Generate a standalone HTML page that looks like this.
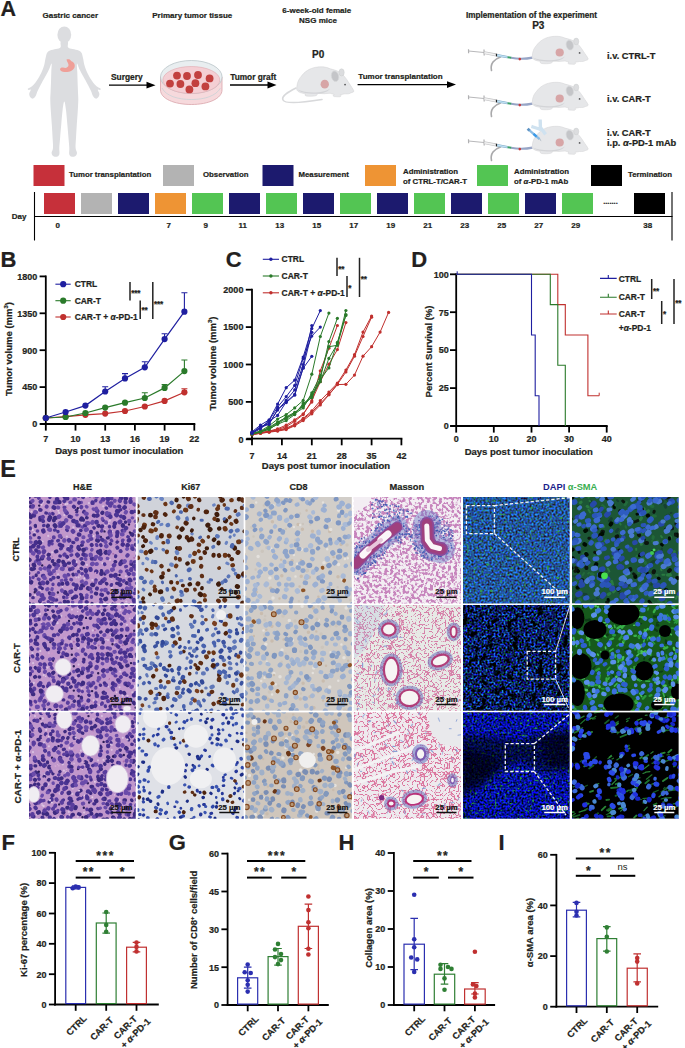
<!DOCTYPE html>
<html><head><meta charset="utf-8"><style>
html,body{margin:0;padding:0;background:#fff;}
body{width:685px;height:1048px;overflow:hidden;}
svg{display:block;font-family:"Liberation Sans",sans-serif;font-weight:bold;fill:#231f20;}
</style></head><body>
<svg width="685" height="1048" viewBox="0 0 685 1048">
<defs><filter id="soft" x="-2%" y="-2%" width="104%" height="104%"><feGaussianBlur stdDeviation="0.45"/></filter><filter id="bl3" x="-10%" y="-10%" width="120%" height="120%"><feGaussianBlur stdDeviation="3"/></filter><clipPath id="c00"><rect x="29" y="497" width="106.8" height="106.6"/></clipPath><clipPath id="c10"><rect x="29" y="604.9" width="106.8" height="105.9"/></clipPath><clipPath id="c20"><rect x="29" y="712.2" width="106.8" height="106.6"/></clipPath><clipPath id="c01"><rect x="137.6" y="497" width="106.2" height="106.6"/></clipPath><clipPath id="c11"><rect x="137.6" y="604.9" width="106.2" height="105.9"/></clipPath><clipPath id="c21"><rect x="137.6" y="712.2" width="106.2" height="106.6"/></clipPath><clipPath id="c02"><rect x="245.2" y="497" width="106.7" height="106.6"/></clipPath><clipPath id="c12"><rect x="245.2" y="604.9" width="106.7" height="105.9"/></clipPath><clipPath id="c22"><rect x="245.2" y="712.2" width="106.7" height="106.6"/></clipPath><filter id="f1" x="352.9" y="496" width="109.1" height="108.6" filterUnits="userSpaceOnUse" color-interpolation-filters="sRGB"><feTurbulence type="fractalNoise" baseFrequency="0.33" numOctaves="2" seed="3" result="n"/><feColorMatrix type="matrix" values="0 0 0 0 .78  0 0 0 0 .52  0 0 0 0 .74  -7 0 0 0 3.8"/></filter><clipPath id="c03"><rect x="353.9" y="497" width="107.1" height="106.6"/></clipPath><filter id="f2" x="352.9" y="603.9" width="109.1" height="107.9" filterUnits="userSpaceOnUse" color-interpolation-filters="sRGB"><feTurbulence type="turbulence" baseFrequency="0.24" numOctaves="1" seed="3" result="n"/><feColorMatrix type="matrix" values="0 0 0 0 .84  0 0 0 0 .5  0 0 0 0 .66  -16 0 0 0 1.55"/></filter><clipPath id="c13"><rect x="353.9" y="604.9" width="107.1" height="105.9"/></clipPath><filter id="f3" x="352.9" y="711.2" width="109.1" height="108.6" filterUnits="userSpaceOnUse" color-interpolation-filters="sRGB"><feTurbulence type="turbulence" baseFrequency="0.22" numOctaves="1" seed="8" result="n"/><feColorMatrix type="matrix" values="0 0 0 0 .86  0 0 0 0 .46  0 0 0 0 .62  -15 0 0 0 1.6"/></filter><clipPath id="c23"><rect x="353.9" y="712.2" width="107.1" height="106.6"/></clipPath><filter id="f4" x="462" y="496" width="108.7" height="108.6" filterUnits="userSpaceOnUse" color-interpolation-filters="sRGB"><feTurbulence type="fractalNoise" baseFrequency="0.5" numOctaves="2" seed="2" result="n"/><feColorMatrix type="matrix" values="0 0 0 0 .14  .6 .6 0 0 -.27  1.8 0 0 0 -.3  0 0 0 0 1" result="a"/><feTurbulence type="fractalNoise" baseFrequency="0.3" numOctaves="1" seed="7" result="g"/><feColorMatrix in="g" type="matrix" values="0 0 0 0 .2  0 0 0 0 .62  0 0 0 0 .3  0 8 0 0 -5.2" result="gg"/><feComposite in="gg" in2="a" operator="over"/></filter><clipPath id="c04"><rect x="463" y="497" width="106.7" height="106.6"/></clipPath><filter id="f5" x="462" y="603.9" width="108.7" height="107.9" filterUnits="userSpaceOnUse" color-interpolation-filters="sRGB"><feTurbulence type="fractalNoise" baseFrequency="0.5" numOctaves="2" seed="4" result="n"/><feColorMatrix type="matrix" values=".2 0 0 0 -.05  .9 1.2 0 0 -.92  2.8 0 0 0 -1.0  0 0 0 0 1" result="s"/><feTurbulence type="fractalNoise" baseFrequency="0.16" numOctaves="2" seed="9" result="m"/><feColorMatrix in="m" type="matrix" values="0 0 0 0 0  0 0 0 0 0  0 0 0 0 0  6 0 0 0 -1.75" result="mm"/><feComposite in="s" in2="mm" operator="in"/></filter><clipPath id="c14"><rect x="463" y="604.9" width="106.7" height="105.9"/></clipPath><filter id="f6" x="462" y="711.2" width="108.7" height="108.6" filterUnits="userSpaceOnUse" color-interpolation-filters="sRGB"><feTurbulence type="fractalNoise" baseFrequency="0.5" numOctaves="2" seed="5" result="n"/><feColorMatrix type="matrix" values=".15 0 0 0 -.05  .12 .4 0 0 -.2  2.4 0 0 0 -.6  0 0 0 0 1" result="s"/><feTurbulence type="fractalNoise" baseFrequency="0.4" numOctaves="1" seed="15" result="gr"/><feColorMatrix in="gr" type="matrix" values="0 0 0 0 .15  0 0 0 0 .6  0 0 0 0 .25  0 7 0 0 -4.3" result="gg"/><feComposite in="gg" in2="s" operator="over"/></filter><clipPath id="c24"><rect x="463" y="712.2" width="106.7" height="106.6"/></clipPath><clipPath id="c05"><rect x="572" y="497" width="106.8" height="106.6"/></clipPath><clipPath id="c15"><rect x="572" y="604.9" width="106.8" height="105.9"/></clipPath><clipPath id="c25"><rect x="572" y="712.2" width="106.8" height="106.6"/></clipPath></defs>
<text x="0.5" y="16.2" font-size="21.5" stroke="#231f20" stroke-width="0.22">A</text>
<text x="70.3" y="17.5" font-size="8" text-anchor="middle" stroke="#231f20" stroke-width="0.22">Gastric cancer</text>
<text x="192.3" y="17.5" font-size="8" text-anchor="middle" stroke="#231f20" stroke-width="0.22">Primary tumor tissue</text>
<text x="316.8" y="12.5" font-size="8" text-anchor="middle" stroke="#231f20" stroke-width="0.22">6-week-old female</text>
<text x="318" y="22.5" font-size="8" text-anchor="middle" stroke="#231f20" stroke-width="0.22">NSG mice</text>
<text x="318.2" y="58" font-size="10" text-anchor="middle" stroke="#231f20" stroke-width="0.22">P0</text>
<text x="531.5" y="17.8" font-size="8.2" text-anchor="middle" stroke="#231f20" stroke-width="0.22">Implementation of the experiment</text>
<text x="538.3" y="29" font-size="10" text-anchor="middle" stroke="#231f20" stroke-width="0.22">P3</text>
<text x="126.8" y="80.3" font-size="8.4" text-anchor="middle" stroke="#231f20" stroke-width="0.22">Surgery</text>
<text x="253.2" y="79.8" font-size="8.3" text-anchor="middle" stroke="#231f20" stroke-width="0.22">Tumor graft</text>
<text x="400.5" y="79.1" font-size="8" text-anchor="middle" stroke="#231f20" stroke-width="0.22">Tumor transplantation</text>
<text x="607" y="59.4" font-size="9.3" stroke="#231f20" stroke-width="0.22">i.v. CTRL-T</text>
<text x="607" y="101.5" font-size="9.3" stroke="#231f20" stroke-width="0.22">i.v. CAR-T</text>
<text x="607" y="135.5" font-size="9.3" stroke="#231f20" stroke-width="0.22">i.v. CAR-T</text>
<text x="607" y="146" font-size="9.3" stroke="#231f20" stroke-width="0.22">i.p. <tspan font-style="italic">α</tspan>-PD-1 mAb</text>
<path d="M109 85.2H149.5" stroke="#000" stroke-width="1.3"/>
<path d="M155.5 85.2L146.5 81.8L146.5 88.6Z" fill="#000"/>
<path d="M230 85H270.5" stroke="#000" stroke-width="1.3"/>
<path d="M276.5 85L267.5 81.6L267.5 88.4Z" fill="#000"/>
<path d="M357.6 84.6H450" stroke="#000" stroke-width="1.3"/>
<path d="M456 84.6L447 81.2L447 88Z" fill="#000"/>
<path d="M61 41.5C59.8 42.5 61.4 46 60.6 47.2C59.8 48.5 57.8 48.5 56 49C54.2 49.5 51.5 49.8 50 50.5C48.5 51.2 47.7 51.8 47 53C46.3 54.2 46.1 56 45.6 58C45.1 60 44.9 62.5 44.2 65C43.5 67.5 42.4 70.5 41.2 73C40 75.5 38.5 78 37.2 80C35.9 82 34.7 83.6 33.6 84.8C32.5 86 31.5 86.5 30.5 87.2C29.5 87.9 28.1 88.3 27.8 88.8C27.5 89.3 28.1 89.8 28.6 90C29.1 90.2 30.7 89.1 30.8 89.8C30.9 90.5 29.2 92.7 29.2 94C29.2 95.3 30 96.8 30.6 97.6C31.2 98.4 32.2 98.9 33 98.6C33.8 98.3 34.8 97.3 35.6 96C36.4 94.7 36.8 92.8 37.6 91C38.4 89.2 39.4 87.3 40.6 85C41.8 82.7 43.6 79.6 45 77C46.4 74.4 47.9 71.8 49 69.5C50.1 67.2 51.2 63.1 51.6 63.5C52 63.9 51.4 68.9 51.3 72C51.2 75.1 51.1 78.7 51 82C50.9 85.3 50.7 89 50.6 92C50.5 95 50.2 96.7 50.3 100C50.3 103.3 50.6 107.7 50.9 112C51.2 116.3 51.6 121.7 51.9 126C52.2 130.3 52.4 134.3 52.6 138C52.8 141.7 53.2 145.5 53 148C52.8 150.5 51.5 151.6 51.6 153C51.7 154.4 52.5 155.6 53.5 156.2C54.5 156.8 56.5 156.9 57.5 156.5C58.5 156.1 59.1 155.4 59.4 154C59.7 152.6 59.2 150.7 59.3 148C59.4 145.3 59.8 142 60.1 138C60.4 134 60.9 128.7 61.3 124C61.7 119.3 62.1 113.8 62.6 110C63.1 106.2 63.7 101.5 64.3 101.5C64.9 101.5 65.5 106.2 66 110C66.5 113.8 66.9 119.3 67.3 124C67.7 128.7 68.2 134 68.5 138C68.8 142 69.2 145.3 69.3 148C69.4 150.7 68.9 152.6 69.2 154C69.5 155.4 70.1 156.1 71.1 156.5C72.1 156.9 74.1 156.8 75.1 156.2C76.1 155.6 76.9 154.4 77 153C77.1 151.6 75.8 150.5 75.6 148C75.4 145.5 75.8 141.7 76 138C76.2 134.3 76.4 130.3 76.7 126C77 121.7 77.4 116.3 77.7 112C78 107.7 78.2 103.3 78.3 100C78.3 96.7 78.1 95 78 92C77.9 89 77.7 85.3 77.6 82C77.5 78.7 77.4 75.1 77.3 72C77.2 68.9 76.6 63.9 77 63.5C77.4 63.1 78.5 67.2 79.6 69.5C80.7 71.8 82.2 74.4 83.6 77C85 79.6 86.8 82.7 88 85C89.2 87.3 90.2 89.2 91 91C91.8 92.8 92.2 94.7 93 96C93.8 97.3 94.8 98.3 95.6 98.6C96.4 98.9 97.4 98.4 98 97.6C98.6 96.8 99.4 95.3 99.4 94C99.4 92.7 97.7 90.5 97.8 89.8C97.9 89.1 99.5 90.2 100 90C100.5 89.8 101.1 89.3 100.8 88.8C100.5 88.3 99.1 87.9 98.1 87.2C97.1 86.5 96.1 86 95 84.8C93.9 83.6 92.7 82 91.4 80C90.1 78 88.6 75.5 87.4 73C86.2 70.5 85.1 67.5 84.4 65C83.7 62.5 83.5 60 83 58C82.5 56 82.3 54.2 81.6 53C80.9 51.8 80.1 51.2 78.6 50.5C77.1 49.8 74.4 49.5 72.6 49C70.8 48.5 68.8 48.5 68 47.2C67.2 46 68.8 42.5 67.6 41.5C66.4 40.5 62.2 40.5 61 41.5Z" fill="#dcdde0"/>
<ellipse cx="64.3" cy="34.8" rx="6.9" ry="8.4" fill="#dcdde0"/>
<path d="M66.5 59.5 C69 59 70.5 59.5 71 61 C74 62 75.5 64.5 74.5 67.5 C73 71 68.5 72.5 64.5 72 C62 71.8 60.5 70.8 60 69.5 C60.2 67.8 62 67.2 64 67.8 C66.5 68.3 68.5 67 68.5 65 C68.5 63 67 62 66.5 59.5 Z" fill="#ef9f98"/>
<g>
<path d="M160.5 77 L160.5 90 C160.5 98.5 174 104.5 191.3 104.5 C208.6 104.5 222 98.5 222 90 L222 77 Z" fill="#f6d9dc" stroke="#d9a5ab" stroke-width="0.8"/>
<ellipse cx="191.3" cy="77" rx="30.8" ry="16.5" fill="#e9eef0" stroke="#b9c4c8" stroke-width="0.8"/>
<ellipse cx="191.3" cy="80" rx="28.5" ry="13.5" fill="#f4cfd4" stroke="#e0a7ae" stroke-width="0.6"/>
<path d="M162 88 C166 96 178 99.5 191.3 99.5 C204.6 99.5 216 96 220.5 88" fill="none" stroke="#c9d2d6" stroke-width="0.8"/>
<circle cx="177" cy="75.6" r="3.9" fill="#c2403f"/>
<circle cx="187" cy="76" r="3.9" fill="#c2403f"/>
<circle cx="198" cy="75" r="3.9" fill="#c2403f"/>
<circle cx="209.6" cy="78.4" r="3.9" fill="#c2403f"/>
<circle cx="170" cy="83.6" r="3.9" fill="#c2403f"/>
<circle cx="180.4" cy="84" r="3.9" fill="#c2403f"/>
<circle cx="195.4" cy="83.2" r="3.9" fill="#c2403f"/>
<circle cx="205.4" cy="86.4" r="3.9" fill="#c2403f"/>
<circle cx="189.4" cy="89.4" r="3.9" fill="#c2403f"/>
</g>
<defs><g id="mouse">
<path d="M0.3 22.4 C0 16 2.5 12 4.4 10 C8 5 13 2.2 19 1.2 C24 0.4 29 0.6 33 2.6 C36 3.4 39 4 42.5 5.8 C46 8 49 12 51.5 16 C53.5 19 55.5 21.5 56.2 23.3 C56.4 24.3 55 24.6 53.5 25 C52 26 50 26.2 47.5 26 L43 26.8 C44 27.6 43.6 28.8 42 28.8 L37 28.6 C35.5 28.2 36 27 37 26.6 L33 25.5 C29 26 25 26 21 25.6 L19.5 27.6 C17 28.4 12 28.4 9.5 28 C8 27.6 8 26.6 9 26 C5 25.5 1.5 24.5 0.3 22.4 Z" fill="#e6e7e9" stroke="#d2d3d5" stroke-width="0.5"/>
<path d="M1 22 C6 24.5 14 25 22 24.5 C26 24.2 30 23 33 21 C30 25 24 26 18 26 C10 26 4 25 1 22 Z" fill="#d3d4d7"/>
<ellipse cx="44.2" cy="6" rx="2.6" ry="3.4" fill="#dcdddf" stroke="#c8c9cb" stroke-width="0.4"/>
<ellipse cx="37.8" cy="9.6" rx="3.6" ry="5" fill="#c4c5c8" stroke="#d8d9db" stroke-width="0.6" transform="rotate(-15 37.8 9.6)"/>
<circle cx="47.6" cy="17.4" r="0.9" fill="#58595b"/>
<circle cx="27.7" cy="17" r="4.1" fill="#d7a5a6"/>
</g></defs>
<path d="M296 88 C288 92 281 96 283 100 C285 104 300 103 322 99.5" fill="none" stroke="#d8d9db" stroke-width="1.6" stroke-linecap="round"/>
<use href="#mouse" transform="translate(296.5 66) scale(1.02 1.07)"/>
<path d="M500.5 57 C494 59 490 64 491.5 70.5" fill="none" stroke="#a9a9ab" stroke-width="1.6" stroke-linecap="round"/>
<path d="M511 57.8 Q522 59.8 532.5 57.6" fill="none" stroke="#97a5c6" stroke-width="2.1"/>
<path d="M468.5 51 L484 52.5" stroke="#b8b8ba" stroke-width="1"/>
<path d="M468.5 49.2 L468.6 53.2 M484 49.5 L484.2 55.5" stroke="#b0b0b2" stroke-width="1.2"/>
<path d="M484 52.6 L496.5 55" stroke="#c4c4c6" stroke-width="2.9"/>
<path d="M484.5 52.7 L496 54.9" stroke="#f2f2f2" stroke-width="1.5"/>
<path d="M496.5 53.8 L496.7 56.4" stroke="#222" stroke-width="1.4"/>
<path d="M497.2 55.3 L507.5 57.1" stroke="#7fa9c8" stroke-width="2.4"/>
<path d="M497.4 55.3 L507.3 57.1" stroke="#bfe0f2" stroke-width="1.4"/>
<path d="M507.5 57.2 L511.2 57.7" stroke="#3aa06a" stroke-width="2.1"/>
<circle cx="519.8" cy="59.1" r="1.3" fill="#c8393b"/>
<use href="#mouse" transform="translate(532 35.5)"/>
<path d="M500.5 103 C494 105 490 110 491.5 116.5" fill="none" stroke="#a9a9ab" stroke-width="1.6" stroke-linecap="round"/>
<path d="M511 103.8 Q522 105.8 532.5 103.6" fill="none" stroke="#97a5c6" stroke-width="2.1"/>
<path d="M468.5 97 L484 98.5" stroke="#b8b8ba" stroke-width="1"/>
<path d="M468.5 95.2 L468.6 99.2 M484 95.5 L484.2 101.5" stroke="#b0b0b2" stroke-width="1.2"/>
<path d="M484 98.6 L496.5 101" stroke="#c4c4c6" stroke-width="2.9"/>
<path d="M484.5 98.7 L496 100.9" stroke="#f2f2f2" stroke-width="1.5"/>
<path d="M496.5 99.8 L496.7 102.4" stroke="#222" stroke-width="1.4"/>
<path d="M497.2 101.3 L507.5 103.1" stroke="#7fa9c8" stroke-width="2.4"/>
<path d="M497.4 101.3 L507.3 103.1" stroke="#bfe0f2" stroke-width="1.4"/>
<path d="M507.5 103.2 L511.2 103.7" stroke="#3aa06a" stroke-width="2.1"/>
<circle cx="519.8" cy="105.1" r="1.3" fill="#c8393b"/>
<use href="#mouse" transform="translate(532 81.5)"/>
<path d="M500.5 147 C494 149 490 154 491.5 160.5" fill="none" stroke="#a9a9ab" stroke-width="1.6" stroke-linecap="round"/>
<path d="M511 147.8 Q522 149.8 532.5 147.6" fill="none" stroke="#97a5c6" stroke-width="2.1"/>
<path d="M468.5 141 L484 142.5" stroke="#b8b8ba" stroke-width="1"/>
<path d="M468.5 139.2 L468.6 143.2 M484 139.5 L484.2 145.5" stroke="#b0b0b2" stroke-width="1.2"/>
<path d="M484 142.6 L496.5 145" stroke="#c4c4c6" stroke-width="2.9"/>
<path d="M484.5 142.7 L496 144.9" stroke="#f2f2f2" stroke-width="1.5"/>
<path d="M496.5 143.8 L496.7 146.4" stroke="#222" stroke-width="1.4"/>
<path d="M497.2 145.3 L507.5 147.1" stroke="#7fa9c8" stroke-width="2.4"/>
<path d="M497.4 145.3 L507.3 147.1" stroke="#bfe0f2" stroke-width="1.4"/>
<path d="M507.5 147.2 L511.2 147.7" stroke="#3aa06a" stroke-width="2.1"/>
<circle cx="519.8" cy="149.1" r="1.3" fill="#c8393b"/>
<use href="#mouse" transform="translate(532 125.5)"/>
<path d="M540.2 121.2 L540.4 127 M533 127 L539.3 129 M541 128.2 L544.6 133" stroke="#cfe2f0" stroke-width="3.4" stroke-linecap="square"/>
<path d="M528.6 129.6 L539.6 139.2" stroke="#8cbce4" stroke-width="2.3"/>
<path d="M533.5 133.9 L536.6 136.6" stroke="#3a9ae8" stroke-width="2.5"/>
<path d="M527.6 128.7 L529.6 130.5" stroke="#5f94c4" stroke-width="2.8"/>
<path d="M539.6 139.2 L541.2 140.6" stroke="#8899aa" stroke-width="0.7"/>
<rect x="33.5" y="165" width="31" height="21" fill="#c6303a"/>
<text x="69" y="177.4" font-size="7.8" stroke="#231f20" stroke-width="0.22">Tumor transplantation</text>
<rect x="163" y="165" width="31" height="21" fill="#b3b3b3"/>
<text x="203" y="177.4" font-size="7.8" stroke="#231f20" stroke-width="0.22">Observation</text>
<rect x="262.5" y="165" width="31" height="21" fill="#1c1a6e"/>
<text x="298.5" y="177.4" font-size="7.8" stroke="#231f20" stroke-width="0.22">Measurement</text>
<rect x="365" y="165" width="31" height="21" fill="#ee9434"/>
<text x="403" y="173.6" font-size="7.8" stroke="#231f20" stroke-width="0.22">Administration</text>
<text x="403" y="183.6" font-size="7.8" stroke="#231f20" stroke-width="0.22">of CTRL-T/CAR-T</text>
<rect x="477" y="165" width="31" height="21" fill="#53c553"/>
<text x="514" y="173.6" font-size="7.8" stroke="#231f20" stroke-width="0.22">Administration</text>
<text x="514" y="183.6" font-size="7.8" stroke="#231f20" stroke-width="0.22">of <tspan font-style="italic">α</tspan>-PD-1 mAb</text>
<rect x="591" y="165" width="31" height="21" fill="#000000"/>
<text x="628" y="177.4" font-size="7.8" stroke="#231f20" stroke-width="0.22">Termination</text>
<line x1="34.5" y1="192" x2="34.5" y2="240.5" stroke="#000" stroke-width="1.1"/>
<line x1="34" y1="216.5" x2="672.5" y2="216.5" stroke="#000" stroke-width="1.2"/>
<line x1="672" y1="192" x2="672" y2="240.5" stroke="#000" stroke-width="1.1"/>
<rect x="44" y="193" width="31" height="21" fill="#c6303a"/>
<text x="57.8" y="228.2" font-size="8" text-anchor="middle" stroke="#231f20" stroke-width="0.22">0</text>
<rect x="81" y="193" width="31" height="21" fill="#b3b3b3"/>
<rect x="118" y="193" width="31" height="21" fill="#1c1a6e"/>
<rect x="155" y="193" width="31" height="21" fill="#ee9434"/>
<text x="168.8" y="228.2" font-size="8" text-anchor="middle" stroke="#231f20" stroke-width="0.22">7</text>
<rect x="192" y="193" width="31" height="21" fill="#53c553"/>
<text x="205.8" y="228.2" font-size="8" text-anchor="middle" stroke="#231f20" stroke-width="0.22">9</text>
<rect x="229" y="193" width="31" height="21" fill="#1c1a6e"/>
<text x="242.8" y="228.2" font-size="8" text-anchor="middle" stroke="#231f20" stroke-width="0.22">11</text>
<rect x="266" y="193" width="31" height="21" fill="#53c553"/>
<text x="279.8" y="228.2" font-size="8" text-anchor="middle" stroke="#231f20" stroke-width="0.22">13</text>
<rect x="303" y="193" width="31" height="21" fill="#1c1a6e"/>
<text x="316.8" y="228.2" font-size="8" text-anchor="middle" stroke="#231f20" stroke-width="0.22">15</text>
<rect x="340" y="193" width="31" height="21" fill="#53c553"/>
<text x="353.8" y="228.2" font-size="8" text-anchor="middle" stroke="#231f20" stroke-width="0.22">17</text>
<rect x="377" y="193" width="31" height="21" fill="#1c1a6e"/>
<text x="390.8" y="228.2" font-size="8" text-anchor="middle" stroke="#231f20" stroke-width="0.22">19</text>
<rect x="414" y="193" width="31" height="21" fill="#53c553"/>
<text x="427.8" y="228.2" font-size="8" text-anchor="middle" stroke="#231f20" stroke-width="0.22">21</text>
<rect x="451" y="193" width="31" height="21" fill="#1c1a6e"/>
<text x="464.8" y="228.2" font-size="8" text-anchor="middle" stroke="#231f20" stroke-width="0.22">23</text>
<rect x="488" y="193" width="31" height="21" fill="#53c553"/>
<text x="501.8" y="228.2" font-size="8" text-anchor="middle" stroke="#231f20" stroke-width="0.22">25</text>
<rect x="525" y="193" width="31" height="21" fill="#1c1a6e"/>
<text x="538.8" y="228.2" font-size="8" text-anchor="middle" stroke="#231f20" stroke-width="0.22">27</text>
<rect x="562" y="193" width="31" height="21" fill="#53c553"/>
<text x="575.8" y="228.2" font-size="8" text-anchor="middle" stroke="#231f20" stroke-width="0.22">29</text>
<rect x="634" y="193" width="31" height="21" fill="#000"/>
<text x="647.8" y="228.2" font-size="8" text-anchor="middle" stroke="#231f20" stroke-width="0.22">38</text>
<text x="610.5" y="204.3" font-size="7.5" text-anchor="middle" fill="#222" stroke="#222" stroke-width="0.22">.......</text>
<text x="19" y="219" font-size="8" text-anchor="middle" stroke="#231f20" stroke-width="0.22">Day</text>
<text x="0.4" y="266.8" font-size="22" stroke="#231f20" stroke-width="0.22">B</text>
<text x="225.8" y="266.8" font-size="22" stroke="#231f20" stroke-width="0.22">C</text>
<text x="411.3" y="266.9" font-size="22" stroke="#231f20" stroke-width="0.22">D</text>
<text x="1.6" y="849.6" font-size="22" stroke="#231f20" stroke-width="0.22">F</text>
<text x="168.7" y="849.5" font-size="22" stroke="#231f20" stroke-width="0.22">G</text>
<text x="338.4" y="849.6" font-size="22" stroke="#231f20" stroke-width="0.22">H</text>
<text x="498.4" y="849.6" font-size="22" stroke="#231f20" stroke-width="0.22">I</text>
<text x="0.2" y="477.1" font-size="23.5" stroke="#231f20" stroke-width="0.22">E</text>
<path d="M45.8 424.9V275.5" stroke="#000" stroke-width="1.8"/>
<path d="M39.6 424H45.8" stroke="#000" stroke-width="1.8"/>
<text x="37.2" y="427.3" font-size="9" text-anchor="end" stroke="#231f20" stroke-width="0.22">0</text>
<path d="M39.6 387.1H45.8" stroke="#000" stroke-width="1.8"/>
<text x="37.2" y="390.4" font-size="9" text-anchor="end" stroke="#231f20" stroke-width="0.22">450</text>
<path d="M39.6 350.2H45.8" stroke="#000" stroke-width="1.8"/>
<text x="37.2" y="353.5" font-size="9" text-anchor="end" stroke="#231f20" stroke-width="0.22">900</text>
<path d="M39.6 313.3H45.8" stroke="#000" stroke-width="1.8"/>
<text x="37.2" y="316.6" font-size="9" text-anchor="end" stroke="#231f20" stroke-width="0.22">1350</text>
<path d="M39.6 276.4H45.8" stroke="#000" stroke-width="1.8"/>
<text x="37.2" y="279.7" font-size="9" text-anchor="end" stroke="#231f20" stroke-width="0.22">1800</text>
<path d="M40.2 424H195.3" stroke="#000" stroke-width="1.8"/>
<path d="M45.8 424V430.6" stroke="#000" stroke-width="1.8"/>
<text x="45.8" y="442" font-size="9" text-anchor="middle" stroke="#231f20" stroke-width="0.22">7</text>
<path d="M75.5 424V430.6" stroke="#000" stroke-width="1.8"/>
<text x="75.5" y="442" font-size="9" text-anchor="middle" stroke="#231f20" stroke-width="0.22">10</text>
<path d="M105.2 424V430.6" stroke="#000" stroke-width="1.8"/>
<text x="105.2" y="442" font-size="9" text-anchor="middle" stroke="#231f20" stroke-width="0.22">13</text>
<path d="M134.9 424V430.6" stroke="#000" stroke-width="1.8"/>
<text x="134.9" y="442" font-size="9" text-anchor="middle" stroke="#231f20" stroke-width="0.22">16</text>
<path d="M164.6 424V430.6" stroke="#000" stroke-width="1.8"/>
<text x="164.6" y="442" font-size="9" text-anchor="middle" stroke="#231f20" stroke-width="0.22">19</text>
<path d="M194.3 424V430.6" stroke="#000" stroke-width="1.8"/>
<text x="194.3" y="442" font-size="9" text-anchor="middle" stroke="#231f20" stroke-width="0.22">22</text>
<text x="119.3" y="454.2" font-size="9.5" text-anchor="middle" stroke="#231f20" stroke-width="0.22">Days post tumor inoculation</text>
<text x="11.5" y="349" font-size="9.5" text-anchor="middle" stroke="#231f20" stroke-width="0.22" transform="rotate(-90 11.5 349)">Tumor volume (mm<tspan font-size="6" dy="-3.8">3</tspan><tspan dy="3.8">)</tspan></text>
<polyline points="45.8,418 65.6,416.6 85.4,414.8 105.2,413.6 125,411 144.8,406.5 164.6,400.9 184.4,392.3" fill="none" stroke="#c0302e" stroke-width="1.2"/>
<circle cx="45.8" cy="418" r="3.1" fill="#c0302e"/>
<circle cx="65.6" cy="416.6" r="3.1" fill="#c0302e"/>
<circle cx="85.4" cy="414.8" r="3.1" fill="#c0302e"/>
<circle cx="105.2" cy="413.6" r="3.1" fill="#c0302e"/>
<circle cx="125" cy="411" r="3.1" fill="#c0302e"/>
<circle cx="144.8" cy="406.5" r="3.1" fill="#c0302e"/>
<circle cx="164.6" cy="400.9" r="3.1" fill="#c0302e"/>
<path d="M184.4 392.3V388.7 M181.4 388.7H187.4" stroke="#c0302e" stroke-width="1.1"/>
<circle cx="184.4" cy="392.3" r="3.1" fill="#c0302e"/>
<polyline points="45.8,418 65.6,417 85.4,413 105.2,407.6 125,402.7 144.8,398 164.6,387.9 184.4,371.1" fill="none" stroke="#2a7a2a" stroke-width="1.2"/>
<circle cx="45.8" cy="418" r="3.1" fill="#2a7a2a"/>
<circle cx="65.6" cy="417" r="3.1" fill="#2a7a2a"/>
<circle cx="85.4" cy="413" r="3.1" fill="#2a7a2a"/>
<circle cx="105.2" cy="407.6" r="3.1" fill="#2a7a2a"/>
<circle cx="125" cy="402.7" r="3.1" fill="#2a7a2a"/>
<path d="M144.8 398V392.8 M141.8 392.8H147.8" stroke="#2a7a2a" stroke-width="1.1"/>
<circle cx="144.8" cy="398" r="3.1" fill="#2a7a2a"/>
<path d="M164.6 387.9V384.6 M161.6 384.6H167.6" stroke="#2a7a2a" stroke-width="1.1"/>
<circle cx="164.6" cy="387.9" r="3.1" fill="#2a7a2a"/>
<path d="M184.4 371.1V360 M181.4 360H187.4" stroke="#2a7a2a" stroke-width="1.1"/>
<circle cx="184.4" cy="371.1" r="3.1" fill="#2a7a2a"/>
<polyline points="45.8,418 65.6,412 85.4,405.6 105.2,391.5 125,378.4 144.8,367.3 164.6,339.1 184.4,311.7" fill="none" stroke="#1f1fa0" stroke-width="1.2"/>
<circle cx="45.8" cy="418" r="3.1" fill="#1f1fa0"/>
<circle cx="65.6" cy="412" r="3.1" fill="#1f1fa0"/>
<circle cx="85.4" cy="405.6" r="3.1" fill="#1f1fa0"/>
<path d="M105.2 391.5V386.7 M102.2 386.7H108.2" stroke="#1f1fa0" stroke-width="1.1"/>
<circle cx="105.2" cy="391.5" r="3.1" fill="#1f1fa0"/>
<path d="M125 378.4V373.6 M122 373.6H128" stroke="#1f1fa0" stroke-width="1.1"/>
<circle cx="125" cy="378.4" r="3.1" fill="#1f1fa0"/>
<path d="M144.8 367.3V361.7 M141.8 361.7H147.8" stroke="#1f1fa0" stroke-width="1.1"/>
<circle cx="144.8" cy="367.3" r="3.1" fill="#1f1fa0"/>
<path d="M164.6 339.1V333.8 M161.6 333.8H167.6" stroke="#1f1fa0" stroke-width="1.1"/>
<circle cx="164.6" cy="339.1" r="3.1" fill="#1f1fa0"/>
<path d="M184.4 311.7V292.8 M181.4 292.8H187.4" stroke="#1f1fa0" stroke-width="1.1"/>
<circle cx="184.4" cy="311.7" r="3.1" fill="#1f1fa0"/>
<path d="M55.4 284.2H70.7" stroke="#1f1fa0" stroke-width="1.1"/>
<circle cx="63.2" cy="284.2" r="3.1" fill="#1f1fa0"/>
<text x="74.7" y="287.3" font-size="8.45" stroke="#231f20" stroke-width="0.22">CTRL</text>
<path d="M55.4 300.7H70.7" stroke="#2a7a2a" stroke-width="1.1"/>
<circle cx="63.2" cy="300.7" r="3.1" fill="#2a7a2a"/>
<text x="74.7" y="303.8" font-size="8.45" stroke="#231f20" stroke-width="0.22">CAR-T</text>
<path d="M55.4 317H70.7" stroke="#c0302e" stroke-width="1.1"/>
<circle cx="63.2" cy="317" r="3.1" fill="#c0302e"/>
<text x="74.7" y="320.1" font-size="8.45" stroke="#231f20" stroke-width="0.22">CAR-T + <tspan font-style="italic">α</tspan>-PD-1</text>
<path d="M130 282V300.5" stroke="#222" stroke-width="1.5"/>
<text x="131.3" y="296.3" font-size="8.2" stroke="#231f20" stroke-width="0.22" letter-spacing="-0.2">***</text>
<path d="M140.2 300.5V319" stroke="#222" stroke-width="1.5"/>
<text x="141.5" y="312.6" font-size="8.2" stroke="#231f20" stroke-width="0.22" letter-spacing="-0.2">**</text>
<path d="M152.8 282V319" stroke="#222" stroke-width="1.5"/>
<text x="154.1" y="307.4" font-size="8.2" stroke="#231f20" stroke-width="0.22" letter-spacing="-0.2">***</text>
<path d="M252 440.2V288.8" stroke="#000" stroke-width="1.8"/>
<path d="M245.8 439.3H252" stroke="#000" stroke-width="1.8"/>
<text x="243.4" y="442.6" font-size="9" text-anchor="end" stroke="#231f20" stroke-width="0.22">0</text>
<path d="M245.8 401.9H252" stroke="#000" stroke-width="1.8"/>
<text x="243.4" y="405.2" font-size="9" text-anchor="end" stroke="#231f20" stroke-width="0.22">500</text>
<path d="M245.8 364.5H252" stroke="#000" stroke-width="1.8"/>
<text x="243.4" y="367.8" font-size="9" text-anchor="end" stroke="#231f20" stroke-width="0.22">1000</text>
<path d="M245.8 327.1H252" stroke="#000" stroke-width="1.8"/>
<text x="243.4" y="330.4" font-size="9" text-anchor="end" stroke="#231f20" stroke-width="0.22">1500</text>
<path d="M245.8 289.7H252" stroke="#000" stroke-width="1.8"/>
<text x="243.4" y="293" font-size="9" text-anchor="end" stroke="#231f20" stroke-width="0.22">2000</text>
<path d="M246.4 438.7H402.4" stroke="#000" stroke-width="1.8"/>
<path d="M252 438.7V445.3" stroke="#000" stroke-width="1.8"/>
<text x="252" y="458.5" font-size="9" text-anchor="middle" stroke="#231f20" stroke-width="0.22">7</text>
<path d="M281.9 438.7V445.3" stroke="#000" stroke-width="1.8"/>
<text x="281.9" y="458.5" font-size="9" text-anchor="middle" stroke="#231f20" stroke-width="0.22">14</text>
<path d="M311.8 438.7V445.3" stroke="#000" stroke-width="1.8"/>
<text x="311.8" y="458.5" font-size="9" text-anchor="middle" stroke="#231f20" stroke-width="0.22">21</text>
<path d="M341.7 438.7V445.3" stroke="#000" stroke-width="1.8"/>
<text x="341.7" y="458.5" font-size="9" text-anchor="middle" stroke="#231f20" stroke-width="0.22">28</text>
<path d="M371.6 438.7V445.3" stroke="#000" stroke-width="1.8"/>
<text x="371.6" y="458.5" font-size="9" text-anchor="middle" stroke="#231f20" stroke-width="0.22">35</text>
<path d="M401.4 438.7V445.3" stroke="#000" stroke-width="1.8"/>
<text x="401.4" y="458.5" font-size="9" text-anchor="middle" stroke="#231f20" stroke-width="0.22">42</text>
<text x="326" y="469.3" font-size="9.5" text-anchor="middle" stroke="#231f20" stroke-width="0.22">Days post tumor inoculation</text>
<text x="215.5" y="363.5" font-size="9.5" text-anchor="middle" stroke="#231f20" stroke-width="0.22" transform="rotate(-90 215.5 363.5)">Tumor volume (mm<tspan font-size="6" dy="-3.8">3</tspan><tspan dy="3.8">)</tspan></text>
<polyline points="252,434.1 260.5,432.6 269.1,431.1 277.6,428.8 286.2,425.1 294.7,419.9 303.2,413.8 311.8,402.1 320.3,370.8 328.9,348.2 337.4,325.5" fill="none" stroke="#c0302e" stroke-width="1"/>
<g fill="#c0302e"><circle cx="252" cy="434.1" r="1.6"/><circle cx="260.5" cy="432.6" r="1.6"/><circle cx="269.1" cy="431.1" r="1.6"/><circle cx="277.6" cy="428.8" r="1.6"/><circle cx="286.2" cy="425.1" r="1.6"/><circle cx="294.7" cy="419.9" r="1.6"/><circle cx="303.2" cy="413.8" r="1.6"/><circle cx="311.8" cy="402.1" r="1.6"/><circle cx="320.3" cy="370.8" r="1.6"/><circle cx="328.9" cy="348.2" r="1.6"/><circle cx="337.4" cy="325.5" r="1.6"/></g>
<polyline points="252,434.4 260.5,432.9 269.1,431.4 277.6,429.6 286.2,426.6 294.7,421.3 303.2,414.6 311.8,400.7 320.3,381.7 328.9,364.2 337.4,349.6 345.9,322.6" fill="none" stroke="#c0302e" stroke-width="1"/>
<g fill="#c0302e"><circle cx="252" cy="434.4" r="1.6"/><circle cx="260.5" cy="432.9" r="1.6"/><circle cx="269.1" cy="431.4" r="1.6"/><circle cx="277.6" cy="429.6" r="1.6"/><circle cx="286.2" cy="426.6" r="1.6"/><circle cx="294.7" cy="421.3" r="1.6"/><circle cx="303.2" cy="414.6" r="1.6"/><circle cx="311.8" cy="400.7" r="1.6"/><circle cx="320.3" cy="381.7" r="1.6"/><circle cx="328.9" cy="364.2" r="1.6"/><circle cx="337.4" cy="349.6" r="1.6"/><circle cx="345.9" cy="322.6" r="1.6"/></g>
<polyline points="252,434.8 260.5,433.3 269.1,431.8 277.6,430.3 286.2,428.1 294.7,424.3 303.2,418.4 311.8,410.9 320.3,400.7 328.9,392 337.4,383.2 345.9,370 354.5,354.7 363,332.1 371.6,316" fill="none" stroke="#c0302e" stroke-width="1"/>
<g fill="#c0302e"><circle cx="252" cy="434.8" r="1.6"/><circle cx="260.5" cy="433.3" r="1.6"/><circle cx="269.1" cy="431.8" r="1.6"/><circle cx="277.6" cy="430.3" r="1.6"/><circle cx="286.2" cy="428.1" r="1.6"/><circle cx="294.7" cy="424.3" r="1.6"/><circle cx="303.2" cy="418.4" r="1.6"/><circle cx="311.8" cy="410.9" r="1.6"/><circle cx="320.3" cy="400.7" r="1.6"/><circle cx="328.9" cy="392" r="1.6"/><circle cx="337.4" cy="383.2" r="1.6"/><circle cx="345.9" cy="370" r="1.6"/><circle cx="354.5" cy="354.7" r="1.6"/><circle cx="363" cy="332.1" r="1.6"/><circle cx="371.6" cy="316" r="1.6"/></g>
<polyline points="252,434.1 260.5,432.9 269.1,431.8 277.6,430.7 286.2,428.8 294.7,425.1 303.2,419.1 311.8,412.4 320.3,403.4 328.9,394.4 337.4,384.3 345.9,372 354.5,356.2 363,336.5 371.6,317.2" fill="none" stroke="#c0302e" stroke-width="1"/>
<g fill="#c0302e"><circle cx="252" cy="434.1" r="1.6"/><circle cx="260.5" cy="432.9" r="1.6"/><circle cx="269.1" cy="431.8" r="1.6"/><circle cx="277.6" cy="430.7" r="1.6"/><circle cx="286.2" cy="428.8" r="1.6"/><circle cx="294.7" cy="425.1" r="1.6"/><circle cx="303.2" cy="419.1" r="1.6"/><circle cx="311.8" cy="412.4" r="1.6"/><circle cx="320.3" cy="403.4" r="1.6"/><circle cx="328.9" cy="394.4" r="1.6"/><circle cx="337.4" cy="384.3" r="1.6"/><circle cx="345.9" cy="372" r="1.6"/><circle cx="354.5" cy="356.2" r="1.6"/><circle cx="363" cy="336.5" r="1.6"/><circle cx="371.6" cy="317.2" r="1.6"/></g>
<polyline points="252,434.4 260.5,433.3 269.1,432.2 277.6,431.1 286.2,429.6 294.7,425.8 303.2,420.6 311.8,413.8 320.3,405 328.9,394.8 337.4,384.6 345.9,384.3 354.5,375.1 363,356.2 371.6,346.7 380.1,332.1 388.6,312.4" fill="none" stroke="#c0302e" stroke-width="1"/>
<g fill="#c0302e"><circle cx="252" cy="434.4" r="1.6"/><circle cx="260.5" cy="433.3" r="1.6"/><circle cx="269.1" cy="432.2" r="1.6"/><circle cx="277.6" cy="431.1" r="1.6"/><circle cx="286.2" cy="429.6" r="1.6"/><circle cx="294.7" cy="425.8" r="1.6"/><circle cx="303.2" cy="420.6" r="1.6"/><circle cx="311.8" cy="413.8" r="1.6"/><circle cx="320.3" cy="405" r="1.6"/><circle cx="328.9" cy="394.8" r="1.6"/><circle cx="337.4" cy="384.6" r="1.6"/><circle cx="345.9" cy="384.3" r="1.6"/><circle cx="354.5" cy="375.1" r="1.6"/><circle cx="363" cy="356.2" r="1.6"/><circle cx="371.6" cy="346.7" r="1.6"/><circle cx="380.1" cy="332.1" r="1.6"/><circle cx="388.6" cy="312.4" r="1.6"/></g>
<polyline points="252,433.3 260.5,431.1 269.1,425.8 277.6,419.1 286.2,414.6 294.7,407.9 303.2,400.4 311.8,374.2 320.3,336.5 328.9,313.1" fill="none" stroke="#2a7a2a" stroke-width="1"/>
<g fill="#2a7a2a"><circle cx="252" cy="433.3" r="1.6"/><circle cx="260.5" cy="431.1" r="1.6"/><circle cx="269.1" cy="425.8" r="1.6"/><circle cx="277.6" cy="419.1" r="1.6"/><circle cx="286.2" cy="414.6" r="1.6"/><circle cx="294.7" cy="407.9" r="1.6"/><circle cx="303.2" cy="400.4" r="1.6"/><circle cx="311.8" cy="374.2" r="1.6"/><circle cx="320.3" cy="336.5" r="1.6"/><circle cx="328.9" cy="313.1" r="1.6"/></g>
<polyline points="252,434.1 260.5,431.8 269.1,427.3 277.6,422.1 286.2,417.6 294.7,413.1 303.2,405 311.8,394.8 320.3,378.8 328.9,341.6 337.4,318.3" fill="none" stroke="#2a7a2a" stroke-width="1"/>
<g fill="#2a7a2a"><circle cx="252" cy="434.1" r="1.6"/><circle cx="260.5" cy="431.8" r="1.6"/><circle cx="269.1" cy="427.3" r="1.6"/><circle cx="277.6" cy="422.1" r="1.6"/><circle cx="286.2" cy="417.6" r="1.6"/><circle cx="294.7" cy="413.1" r="1.6"/><circle cx="303.2" cy="405" r="1.6"/><circle cx="311.8" cy="394.8" r="1.6"/><circle cx="320.3" cy="378.8" r="1.6"/><circle cx="328.9" cy="341.6" r="1.6"/><circle cx="337.4" cy="318.3" r="1.6"/></g>
<polyline points="252,433.7 260.5,431.4 269.1,428.1 277.6,422.8 286.2,416.9 294.7,412.4 303.2,406.4 311.8,396.3 320.3,381.7 328.9,358.4 337.4,343.8 345.9,310.5" fill="none" stroke="#2a7a2a" stroke-width="1"/>
<g fill="#2a7a2a"><circle cx="252" cy="433.7" r="1.6"/><circle cx="260.5" cy="431.4" r="1.6"/><circle cx="269.1" cy="428.1" r="1.6"/><circle cx="277.6" cy="422.8" r="1.6"/><circle cx="286.2" cy="416.9" r="1.6"/><circle cx="294.7" cy="412.4" r="1.6"/><circle cx="303.2" cy="406.4" r="1.6"/><circle cx="311.8" cy="396.3" r="1.6"/><circle cx="320.3" cy="381.7" r="1.6"/><circle cx="328.9" cy="358.4" r="1.6"/><circle cx="337.4" cy="343.8" r="1.6"/><circle cx="345.9" cy="310.5" r="1.6"/></g>
<polyline points="252,434.1 260.5,432.2 269.1,428.8 277.6,424.3 286.2,420.6 294.7,414.6 303.2,403.4 311.8,397.7 320.3,379.5 328.9,367.9 337.4,342.4 345.9,315.4" fill="none" stroke="#2a7a2a" stroke-width="1"/>
<g fill="#2a7a2a"><circle cx="252" cy="434.1" r="1.6"/><circle cx="260.5" cy="432.2" r="1.6"/><circle cx="269.1" cy="428.8" r="1.6"/><circle cx="277.6" cy="424.3" r="1.6"/><circle cx="286.2" cy="420.6" r="1.6"/><circle cx="294.7" cy="414.6" r="1.6"/><circle cx="303.2" cy="403.4" r="1.6"/><circle cx="311.8" cy="397.7" r="1.6"/><circle cx="320.3" cy="379.5" r="1.6"/><circle cx="328.9" cy="367.9" r="1.6"/><circle cx="337.4" cy="342.4" r="1.6"/><circle cx="345.9" cy="315.4" r="1.6"/></g>
<polyline points="252,433.7 260.5,431.8 269.1,429.6 277.6,423.6 286.2,418.4 294.7,413.9 303.2,407.9 311.8,392.9 320.3,375.7 328.9,346.7 337.4,345.3 345.9,314.6" fill="none" stroke="#2a7a2a" stroke-width="1"/>
<g fill="#2a7a2a"><circle cx="252" cy="433.7" r="1.6"/><circle cx="260.5" cy="431.8" r="1.6"/><circle cx="269.1" cy="429.6" r="1.6"/><circle cx="277.6" cy="423.6" r="1.6"/><circle cx="286.2" cy="418.4" r="1.6"/><circle cx="294.7" cy="413.9" r="1.6"/><circle cx="303.2" cy="407.9" r="1.6"/><circle cx="311.8" cy="392.9" r="1.6"/><circle cx="320.3" cy="375.7" r="1.6"/><circle cx="328.9" cy="346.7" r="1.6"/><circle cx="337.4" cy="345.3" r="1.6"/><circle cx="345.9" cy="314.6" r="1.6"/></g>
<polyline points="252,431.8 260.5,425.1 269.1,419.9 277.6,404.1 286.2,387.7 294.7,380.2 303.2,357 311.8,328.6 320.3,310.6" fill="none" stroke="#1f1fa0" stroke-width="1"/>
<g fill="#1f1fa0"><circle cx="252" cy="431.8" r="1.6"/><circle cx="260.5" cy="425.1" r="1.6"/><circle cx="269.1" cy="419.9" r="1.6"/><circle cx="277.6" cy="404.1" r="1.6"/><circle cx="286.2" cy="387.7" r="1.6"/><circle cx="294.7" cy="380.2" r="1.6"/><circle cx="303.2" cy="357" r="1.6"/><circle cx="311.8" cy="328.6" r="1.6"/><circle cx="320.3" cy="310.6" r="1.6"/></g>
<polyline points="252,432.6 260.5,428.1 269.1,420.6 277.6,407.1 286.2,396.7 294.7,385.4 303.2,358.5 311.8,336.1 320.3,327.1" fill="none" stroke="#1f1fa0" stroke-width="1"/>
<g fill="#1f1fa0"><circle cx="252" cy="432.6" r="1.6"/><circle cx="260.5" cy="428.1" r="1.6"/><circle cx="269.1" cy="420.6" r="1.6"/><circle cx="277.6" cy="407.1" r="1.6"/><circle cx="286.2" cy="396.7" r="1.6"/><circle cx="294.7" cy="385.4" r="1.6"/><circle cx="303.2" cy="358.5" r="1.6"/><circle cx="311.8" cy="336.1" r="1.6"/><circle cx="320.3" cy="327.1" r="1.6"/></g>
<polyline points="252,432.9 260.5,426.6 269.1,423.6 277.6,410.1 286.2,400.4 294.7,389.9 303.2,364.5 311.8,325.6" fill="none" stroke="#1f1fa0" stroke-width="1"/>
<g fill="#1f1fa0"><circle cx="252" cy="432.9" r="1.6"/><circle cx="260.5" cy="426.6" r="1.6"/><circle cx="269.1" cy="423.6" r="1.6"/><circle cx="277.6" cy="410.1" r="1.6"/><circle cx="286.2" cy="400.4" r="1.6"/><circle cx="294.7" cy="389.9" r="1.6"/><circle cx="303.2" cy="364.5" r="1.6"/><circle cx="311.8" cy="325.6" r="1.6"/></g>
<polyline points="252,433.3 260.5,428.8 269.1,421.3 277.6,415.4 286.2,401.9 294.7,394.4 303.2,367.5 311.8,332.3" fill="none" stroke="#1f1fa0" stroke-width="1"/>
<g fill="#1f1fa0"><circle cx="252" cy="433.3" r="1.6"/><circle cx="260.5" cy="428.8" r="1.6"/><circle cx="269.1" cy="421.3" r="1.6"/><circle cx="277.6" cy="415.4" r="1.6"/><circle cx="286.2" cy="401.9" r="1.6"/><circle cx="294.7" cy="394.4" r="1.6"/><circle cx="303.2" cy="367.5" r="1.6"/><circle cx="311.8" cy="332.3" r="1.6"/></g>
<polyline points="252,432.6 260.5,427.3 269.1,424.3 277.6,409.4 286.2,402.6 294.7,395.2 303.2,368.2 311.8,356.3" fill="none" stroke="#1f1fa0" stroke-width="1"/>
<g fill="#1f1fa0"><circle cx="252" cy="432.6" r="1.6"/><circle cx="260.5" cy="427.3" r="1.6"/><circle cx="269.1" cy="424.3" r="1.6"/><circle cx="277.6" cy="409.4" r="1.6"/><circle cx="286.2" cy="402.6" r="1.6"/><circle cx="294.7" cy="395.2" r="1.6"/><circle cx="303.2" cy="368.2" r="1.6"/><circle cx="311.8" cy="356.3" r="1.6"/></g>
<path d="M262.8 259.3H279" stroke="#1f1fa0" stroke-width="1.1"/>
<circle cx="270.9" cy="259.3" r="1.7" fill="#1f1fa0"/>
<text x="281.6" y="262.4" font-size="8.45" stroke="#231f20" stroke-width="0.22">CTRL</text>
<path d="M262.8 276H279" stroke="#2a7a2a" stroke-width="1.1"/>
<circle cx="270.9" cy="276" r="1.7" fill="#2a7a2a"/>
<text x="281.6" y="279.1" font-size="8.45" stroke="#231f20" stroke-width="0.22">CAR-T</text>
<path d="M262.8 292.8H279" stroke="#c0302e" stroke-width="1.1"/>
<circle cx="270.9" cy="292.8" r="1.7" fill="#c0302e"/>
<text x="281.6" y="295.9" font-size="8.45" stroke="#231f20" stroke-width="0.22">CAR-T + <tspan font-style="italic">α</tspan>-PD-1</text>
<path d="M337 257.8V276" stroke="#222" stroke-width="1.5"/>
<text x="338.3" y="271.5" font-size="8.2" stroke="#231f20" stroke-width="0.22" letter-spacing="-0.2">**</text>
<path d="M347 276V297" stroke="#222" stroke-width="1.5"/>
<text x="348.3" y="291.1" font-size="8.2" stroke="#231f20" stroke-width="0.22" letter-spacing="-0.2">*</text>
<path d="M359.5 257.8V297" stroke="#222" stroke-width="1.5"/>
<text x="360.8" y="282" font-size="8.2" stroke="#231f20" stroke-width="0.22" letter-spacing="-0.2">**</text>
<path d="M456.2 426.9V273.4" stroke="#000" stroke-width="1.8"/>
<path d="M450 426H456.2" stroke="#000" stroke-width="1.8"/>
<text x="448.7" y="429.3" font-size="9" text-anchor="end" stroke="#231f20" stroke-width="0.22">0</text>
<path d="M450 388.1H456.2" stroke="#000" stroke-width="1.8"/>
<text x="448.7" y="391.4" font-size="9" text-anchor="end" stroke="#231f20" stroke-width="0.22">25</text>
<path d="M450 350.1H456.2" stroke="#000" stroke-width="1.8"/>
<text x="448.7" y="353.4" font-size="9" text-anchor="end" stroke="#231f20" stroke-width="0.22">50</text>
<path d="M450 312.2H456.2" stroke="#000" stroke-width="1.8"/>
<text x="448.7" y="315.5" font-size="9" text-anchor="end" stroke="#231f20" stroke-width="0.22">75</text>
<path d="M450 274.3H456.2" stroke="#000" stroke-width="1.8"/>
<text x="448.7" y="277.6" font-size="9" text-anchor="end" stroke="#231f20" stroke-width="0.22">100</text>
<path d="M450.6 426H607.7" stroke="#000" stroke-width="1.8"/>
<path d="M456.2 426V432.6" stroke="#000" stroke-width="1.8"/>
<text x="456.2" y="442.2" font-size="9" text-anchor="middle" stroke="#231f20" stroke-width="0.22">0</text>
<path d="M493.8 426V432.6" stroke="#000" stroke-width="1.8"/>
<text x="493.8" y="442.2" font-size="9" text-anchor="middle" stroke="#231f20" stroke-width="0.22">10</text>
<path d="M531.5 426V432.6" stroke="#000" stroke-width="1.8"/>
<text x="531.5" y="442.2" font-size="9" text-anchor="middle" stroke="#231f20" stroke-width="0.22">20</text>
<path d="M569.1 426V432.6" stroke="#000" stroke-width="1.8"/>
<text x="569.1" y="442.2" font-size="9" text-anchor="middle" stroke="#231f20" stroke-width="0.22">30</text>
<path d="M606.7 426V432.6" stroke="#000" stroke-width="1.8"/>
<text x="606.7" y="442.2" font-size="9" text-anchor="middle" stroke="#231f20" stroke-width="0.22">40</text>
<text x="528.8" y="455.3" font-size="9.5" text-anchor="middle" stroke="#231f20" stroke-width="0.22">Days post tumor inoculation</text>
<text x="431.5" y="351.5" font-size="9.5" text-anchor="middle" stroke="#231f20" stroke-width="0.22" transform="rotate(-90 431.5 351.5)">Percent Survival (%)</text>
<path d="M456.2 274.3H557.8V304.6H565.3V335H587.9V395.7H599.2" fill="none" stroke="#c0302e" stroke-width="1.1"/>
<path d="M456.2 274.3H550.3V304.6H557.8V365.3H565.3V426H565.3" fill="none" stroke="#2a7a2a" stroke-width="1.1"/>
<path d="M456.2 274.3H531.5V335H535.2V395.7H539V426H539" fill="none" stroke="#1f1fa0" stroke-width="1.1"/>
<path d="M599.2 395.7v-3" stroke="#c0302e" stroke-width="1"/>
<path d="M457.2 274.3v-3" stroke="#1f1fa0" stroke-width="1"/>
<path d="M600 278.4H616.7 M608.3 278.4v-3.5" stroke="#1f1fa0" stroke-width="1.1"/>
<text x="618.7" y="281.5" font-size="8.45" stroke="#231f20" stroke-width="0.22">CTRL</text>
<path d="M600 297.2H616.7 M608.3 297.2v-3.5" stroke="#2a7a2a" stroke-width="1.1"/>
<text x="618.7" y="300.3" font-size="8.45" stroke="#231f20" stroke-width="0.22">CAR-T</text>
<path d="M600 314H616.7 M608.3 314v-3.5" stroke="#c0302e" stroke-width="1.1"/>
<text x="618.7" y="317.1" font-size="8.45" stroke="#231f20" stroke-width="0.22">CAR-T</text>
<text x="618.7" y="331.2" font-size="8.45" stroke="#231f20" stroke-width="0.22">+<tspan font-style="italic">α</tspan>-PD-1</text>
<path d="M651.7 279V299" stroke="#222" stroke-width="1.5"/>
<text x="653" y="293.6" font-size="8.2" stroke="#231f20" stroke-width="0.22" letter-spacing="-0.2">**</text>
<path d="M661.7 301V324" stroke="#222" stroke-width="1.5"/>
<text x="663" y="317.1" font-size="8.2" stroke="#231f20" stroke-width="0.22" letter-spacing="-0.2">*</text>
<path d="M674 279V324" stroke="#222" stroke-width="1.5"/>
<text x="675.3" y="306.1" font-size="8.2" stroke="#231f20" stroke-width="0.22" letter-spacing="-0.2">**</text>
<text x="82.5" y="490" font-size="9" text-anchor="middle" stroke="#231f20" stroke-width="0.22">H&amp;E</text>
<text x="190.7" y="490" font-size="9" text-anchor="middle" stroke="#231f20" stroke-width="0.22">Ki67</text>
<text x="298.5" y="490" font-size="9" text-anchor="middle" stroke="#231f20" stroke-width="0.22">CD8</text>
<text x="406.8" y="490" font-size="9.3" text-anchor="middle" stroke="#231f20" stroke-width="0.22">Masson</text>
<text x="570.2" y="490" font-size="9.3" text-anchor="middle"><tspan fill="#1c1f8c">DAPI</tspan> <tspan fill="#3aae50">α-SMA</tspan></text>
<text x="19.4" y="549.6" font-size="9" text-anchor="middle" stroke="#231f20" stroke-width="0.22" transform="rotate(-90 19.4 549.6)">CTRL</text>
<text x="20.2" y="658" font-size="9.6" text-anchor="middle" stroke="#231f20" stroke-width="0.22" transform="rotate(-90 20.2 658)">CAR-T</text>
<text x="21" y="766.7" font-size="9.9" text-anchor="middle" stroke="#231f20" stroke-width="0.22" transform="rotate(-90 21 766.7)">CAR-T + α-PD-1</text>
<g clip-path="url(#c00)"><g filter="url(#soft)"><rect x="29" y="497" width="106.8" height="106.6" fill="#c198cc"/><path d="M77.1 556.9h0M97.8 604.9h0M82.1 563h0M39.5 547.1h0M77.3 564.2h0M50.6 594.5h0M79.1 605.6h0M94.1 498.1h0M82.4 559.4h0M49.3 570.5h0M62.9 504.4h0M117.3 539.9h0M134.2 557.8h0M113.2 553.7h0M67.9 567.3h0M104 549.7h0M46.6 578.9h0" stroke="#a870b0" stroke-width="2.0" stroke-linecap="round"/><path d="M77.1 589.6h0M96.8 582.7h0M48.1 521.8h0M105.4 529.9h0M50.7 597.5h0M113.3 524.8h0M54.3 506.2h0M39.9 541.5h0M98 539.8h0M133.2 570.7h0M30.9 512.2h0M116 548.3h0M111.4 566.7h0M108.4 521.4h0M74.4 535.8h0M36.3 586.6h0M64.1 525.3h0M36.4 565.1h0" stroke="#d4b2d8" stroke-width="2.0" stroke-linecap="round"/><path d="M42.7 554.6h0M120.8 537.7h0M28.7 540.4h0M50.3 538.6h0M84.6 597.8h0M52.3 556.9h0M49 542.7h0M55.4 574h0M70.6 582.6h0M131.8 549.5h0M101.4 600.6h0M129.5 509.3h0M106.5 572.6h0M52.8 576.9h0M62 529.8h0M119.2 541.6h0M49.2 564.5h0M39.8 550.9h0M116.2 523.6h0M125.4 604.6h0M115.9 544.5h0M59.2 578.9h0M117.3 546.3h0M115.3 554.8h0M34.1 555.5h0" stroke="#a870b0" stroke-width="1.4" stroke-linecap="round"/><path d="M93 538.8h0M46.7 556.9h0M31.7 511.2h0M112.6 531.4h0M119.2 510h0M124.7 561.8h0M80.4 575.8h0M126.8 591.3h0M50.3 509.9h0M105.8 600.1h0M62.5 586.7h0M102.2 526.1h0M46.8 525.1h0M86.5 582.5h0M129 583.5h0M85.2 507h0M112 579.6h0M34.8 532.8h0M108.9 523.4h0M69.8 598.8h0M130.8 574.9h0M40.1 590.2h0M96.6 496h0M96.9 536.3h0M76.2 577.7h0" stroke="#e2cce4" stroke-width="1.4" stroke-linecap="round"/><path d="M96 587h0M63.2 560.4h0M30.3 557.3h0M135.6 539h0M58 596.5h0M34.7 540.5h0M104.7 601.5h0M69 496.4h0M61.4 504.7h0M126.3 535.7h0M53.3 510.6h0M78.4 567h0M112.1 548.9h0M87.3 604.4h0M113.2 516.5h0M43.2 515.4h0M136.7 597.5h0M41.9 570.3h0M71.9 516.6h0M50.9 539.9h0M111.4 603.4h0M100.5 577.7h0M54.8 578.6h0M97.1 578.3h0M82.6 567.2h0M110.7 596h0M64.5 549.7h0M117 519.5h0" stroke="#d4b2d8" stroke-width="1.4" stroke-linecap="round"/><path d="M97.9 550.3h0M44.6 564.6h0M55.5 586.1h0M122.7 558.4h0M70 576.3h0M124.5 537.5h0M69.4 552.5h0M76.5 564.7h0M87.9 567.2h0M84.9 588.3h0M60.7 510.6h0M103.6 502.3h0M63.2 546.6h0M90.1 516.1h0M52.7 599.5h0M54.8 595.2h0M121.8 554.9h0M131.7 541.5h0M67.5 526.6h0M93.9 507.7h0M40.8 544h0M93.6 565.7h0M35.7 504.2h0M67.6 508h0M91.8 583.1h0M89.9 601.9h0" stroke="#c890c4" stroke-width="2.0" stroke-linecap="round"/><path d="M99.6 540h0M122.8 602.8h0M35.2 518.1h0M61.4 520.3h0M46.5 535.8h0M99.8 571.4h0M35.3 555.4h0M78.3 554.9h0M74.5 498.9h0M111 543.6h0M90.5 517.2h0M62.7 534.3h0M68.6 540.7h0M86.6 590.5h0M85.7 589.1h0M50.3 536.3h0M70.2 605.6h0M116.7 503.4h0M94.6 575.2h0M96.1 506.3h0M35.4 518.6h0M51.5 602h0" stroke="#c890c4" stroke-width="1.4" stroke-linecap="round"/><path d="M136.2 580.1h0M93.6 536.1h0M39.1 551.7h0M37.2 510.3h0M92.4 597.1h0M114.9 596.2h0M84.4 578.4h0M82.2 521.7h0M72.5 593.7h0M65.6 504.2h0M79.4 509h0M41.7 504.7h0M120.5 515h0M91.9 565h0M32.8 529.9h0M35.1 595.2h0M113.9 564.1h0M58.3 510.8h0M75.5 583.8h0" stroke="#e2cce4" stroke-width="2.0" stroke-linecap="round"/><path d="M102.5 512.6l-.3 .4M76.5 510.4l0 1M48 525.6l-.3 .6M39.9 583.4l.7 .4M78.7 548.5l.5 .7M29.2 603.5l-.2 .3M95.8 593.6l.5 .1M31.4 569l.6 .3M68.1 601.9l-.4 0M56.5 551.2l-.7 .3M47.5 582.3l-.2 .6M53.9 519.9l-0 .7M42.2 558.5l-.5 .1M98.7 525.7l-.4 .2M113.1 595.1l.1 .2M126.6 583l.2 .1M93.7 515.5l.7 .3M78.8 495.7l-.2 .1M64.7 601.4l-0 .6M135.7 544.6l.6 .6M79.6 604.3l-.1 .9M62.5 583.8l-.5 0M131.5 563.5l-.2 .5M64.6 497.1l.3 .2M82.8 519.6l.3 .2M63.1 561.7l.3 .9M48.9 554.5l-.4 .5" stroke="#3c2a80" stroke-width="3.9" stroke-linecap="round"/><path d="M59.1 512.9h0M110.9 577.4h0M76.4 561.8h0M68.6 559h0M111.8 587.9h0M88.8 535.2h0M28.1 596.6h0M68.6 547h0M48.2 535.9h0M113.3 563.5h0M67.2 503.8h0M86.3 497h0M74.3 587.5h0M103.2 506.3h0M102.5 563.2h0M55.4 495.9h0M135.8 496.8h0M126.3 601.5h0M97.4 603.4h0M109.8 520.7h0M78.6 577.3h0M64.3 515.1h0M73.4 527.4h0M66.9 536.5h0M42.6 541.6h0M114.8 495.5h0M92.4 580h0M42.8 502.5h0M52.2 552.3h0M86.9 564.9h0M58.1 574.4h0M125.8 576.3h0M105.4 525h0M88.9 503.1h0M110 559.9h0M77.9 529.4h0M34.4 532.3h0" stroke="#d8c0e0" stroke-width="2.2" stroke-linecap="round"/><path d="M129.8 579.7l.5 .8M115.6 575l-.7 .6M114.9 523.3l-.2 .6M28.4 496.3l.2 .7M115.4 591.9l-0 .3M91.9 558.6l.5 0M59.9 544.8l.4 .3M129.3 540.2l-.4 .3M117.4 532.2l-0 .9M35.8 542.4l.2 .5M33.6 545.7l-.4 .6M49.1 519.5l.1 .3M76.5 585.5l.1 .2M124.7 507.4l-.4 .4M85.7 570.4l.2 .5M97.5 515.4l-.4 .2M96.3 571.5l-.1 .3M117.1 511.1l.8 .5M73.4 520.9l.4 .1M103.2 580.6l-.8 .5M111 575.6l0 .2M65.1 564.6l-.6 .6M75.9 596.5l-.9 .4M43.2 530.6l.3 .8M56.9 499.3l.4 0M66.4 498.3l.8 .1M40.3 518l.3 0M129.1 594.4l-.3 .2M122.8 544.4l-.1 .2M121.1 498.1l-.1 .2M33.1 515.4l.9 .1M78.9 534.5l.4 .1M119.8 584.4l.4 .3M127.7 545.1l-.2 .3M131.7 512l.4 .1M77.7 525.3l.9 .1M53.7 507.3l.7 .5M67.1 583l.2 .7M123.9 517.2l.2 .6M49.5 566.7l-.6 .7" stroke="#452f8c" stroke-width="4.4" stroke-linecap="round"/><path d="M72.8 542.5l1 .1M45.9 513l.5 .1M122.5 590.2l-.3 .3M50 496.9l-.1 .4M32.8 597.7l.4 0M107.9 592.7l.3 .3M39.8 587.2l.9 .1M52.5 513.5l.5 .4M117.3 542l-.2 .2M38.9 537.7l.4 .1M93.9 527.7l.3 .3M100.7 544.8l.3 .7M63.7 597.1l.1 .3M28.8 513.7l.6 .4M67.1 594.6l.7 0M75.7 564.7l-.6 .6M84.1 511.3l-.5 .8M81.2 568.4l.5 .4M59.9 556l.4 .1M80.6 530.4l.4 .2M80.7 594.4l.7 .6M115.7 555.9l-.1 .6M120.7 509.8l-.9 .3M90.2 495.5l-.3 .3M31 547.3l-.7 .1M56.6 600l-.5 .1" stroke="#452f8c" stroke-width="3.3" stroke-linecap="round"/><path d="M115.1 561.6l.5 .2M104.9 573.7l-0 .3M106.4 583.4l.4 .5M57.9 577.3l.6 0M48 501.9l.7 .2M30 594.7l-.1 .5M39.7 601.2l.3 .6M129 605l.4 .7M73.1 574.3l.3 .6M137.2 583.1l-.7 .2M68.5 563.1l1 .1M92 603.5l-.2 .5M72.7 598.1l-.1 .2M40.3 519.8l-.2 .2M36.2 575l-0 .6M116.7 583.4l1 .1M34.3 568.6l-.7 .5M30.5 506.6l.7 .2M110.3 543.7l.3 .4M101.5 570.6l.2 .5M52.7 560.6l-.3 .9M115.2 590.4l.1 .5M86.6 517.7l.5 .1M125.5 521.8l-0 .5M49.5 592.9l.3 .9M121.5 593.6l.9 .1M97.2 532.9l.2 .6M108.3 537.8l-.9 .2M42.3 588.4l-0 .2M124.5 597.5l-.5 .3M100.4 550.4l.2 .9M30.5 502.3l.3 .6M35.4 589.6l.5 .7M82.2 545.1l-.6 .2M35.3 525.5l.2 .8M34.1 534.9l.3 0" stroke="#3c2a80" stroke-width="3.3" stroke-linecap="round"/><path d="M55.1 530l-.5 .1M134.8 511.1l-.1 .4M112.7 604.1l-.4 .7M122.5 530.3l-.3 .2M104.6 563.9l.2 .6M30.3 527.9l0 .9M44 525.4l-.4 .1M58 531.3l0 .5M52.2 540.9l-.4 0M58.4 540.4l-.7 .5M111.5 584.6l-.3 .7M61.3 548.4l-.6 .3M134.4 593.2l.5 .2M95.9 500.3l-.2 .4M135.2 561.7l-.6 .2M127.8 536.8l.5 .2M103 520.1l.2 .3M100.7 599.3l.3 .4M66.7 529.8l.6 .7M81.8 558.6l-.8 .4M108.5 553.3l.4 .6M50.5 579.7l.6 .1M109.4 526.5l.1 .4M95.8 579.9l.3 0M78.6 571.5l.2 .4M106.2 507.9l.3 .4" stroke="#4c3494" stroke-width="3.3" stroke-linecap="round"/><path d="M51.5 573.1l.3 .5M124.3 530.9l.3 .2M109.7 513.6l-.3 .5M49.5 513.8l.5 .3M29 532.4l.4 .7M86.8 595.1l.3 .4M91.5 591.8l-.2 .1M61.9 580.5l-.5 .1M30.6 542l.5 .2M36 561.1l-.5 .6M85.3 559.2l.6 .1M101 501.6l-.4 .5M86.1 597.5l.8 .1M52.2 588.8l-.3 .9M95.8 581.9l-.3 .8M76.8 514.8l.3 0M107.3 558.4l.5 .1M76.1 574.2l.5 .4M132.2 517.8l.3 0M87.9 577.7l-.8 .1M72.5 602.2l.3 .1M129.7 584.4l-.1 .4M136.8 555.8l.1 .2M115 604.2l.4 .5M135.9 521.1l-.7 .3M136.9 549.4l-.5 .7M114.4 506.5l.8 .3M82.2 581.1l-.8 .5M86.3 506.5l.6 .5M101.7 590l-.3 .2M70.9 502.1l-.9 .2M93.3 508.9l.6 .5M82 526.9l.5 .4M86.2 548.4l.4 .3M30.1 537.3l.5 .8M81.4 502.4l-0 .2M66.9 597.5l-.3 .1M131.1 561.4l-.1 .5M92 549.4l-.3 .6M102.4 518.5l-.1 .3" stroke="#6a4caa" stroke-width="3.3" stroke-linecap="round"/><path d="M122.8 525.1l.1 .7M88.1 588.4l.5 .3M55.5 517.9l-.4 .1M97.3 540.3l.6 .3M92.3 584.8l.8 .3M65.1 592.4l.2 .2M58.7 502.1l.8 0M29.1 559.6l.4 .4M100.2 553.3l.3 .4M33.8 564.8l.4 .8M58.7 560.9l-.1 .3M82.6 563.4l.2 .1M131.9 534.3l.4 .3M31.3 582.2l-.2 .2M49.9 517.3l.3 .3M101.6 573l-.2 .8M125.6 498.1l.2 .5M83.8 549.8l-.5 .1M30.1 516.6l.6 .3M106 598.9l-.7 .3M83.1 585.4l-.9 0M121.7 561.7l.4 .5M81.7 518.6l-.5 .8M54.8 525.4l.6 .7M81.8 597.5l.1 .9M39.4 542.1l.6 .7M54.5 564.2l.5 .2M106.1 552.1l-.4 .5M98.2 551.8l.6 .6M35.9 495.5l-.4 .1" stroke="#3c2a80" stroke-width="4.4" stroke-linecap="round"/><path d="M40.9 599.7l-.2 .3M110.9 498.2l.7 .2M107.6 605.1l-.2 .9M91.6 538.9l-.9 .2M57.5 565.1l.6 .6M134.4 602.9l.8 .1M101 602.5l.4 0M72.7 568.4l-.6 .4M135.8 569.3l.8 .2M81.4 506.9l-.2 .6M53.8 537.2l0 .3M119.6 500.6l.4 .6M107.8 502.5l-.2 .5M43.2 556.4l-.8 .5M64.7 554.3l-.5 .5M127.7 555.1l-.5 .6M46.7 506.6l-.1 .2M122.9 540.4l-.1 .3M33.1 506l-.4 .8M115.5 599.4l-.5 .3M109.9 505.7l.5 .1M82.8 542.2l-.3 .3M95 558.4l-0 .6M73.9 563.7l.4 .1M28.1 573.1l.4 .2" stroke="#5a3e9e" stroke-width="3.9" stroke-linecap="round"/><path d="M97.1 510.9l.2 .2M29.1 578.3l.1 .6M86.2 575.3l.6 .3M71.4 591.6l-1 .3M104.6 579.3l-.2 .2M48.7 558.5l.2 .2M42.1 595.3l-.5 .2M120.2 521.6l-.6 .5M121.2 596.8l-.2 .6M103 499.3l.2 .1M50 573.1l-.2 .6M30 550.4l.4 .2M111.5 503.4l-.4 .1M52.8 599l.7 .7M114.2 565l-.3 .4M38.7 552l.1 .5M44.1 551.2l-.4 .8M42.8 582.6l.5 .5M109.9 531.6l-.2 .7M85.8 555.5l-.6 0M66.5 512.6l.2 .3M76.6 539.3l.3 0M42.7 517.1l-.2 .1M131.3 569.3l-.1 .7M50.4 597.8l.4 .5M43.6 598.4l-.2 .2M72.8 531.1l.4 .5" stroke="#5a3e9e" stroke-width="4.4" stroke-linecap="round"/><path d="M119.5 574.9h0M61.4 537.5h0M104.5 531.4h0M77.8 508.2h0M57.9 592.5h0M100.8 536.9h0M129 524.4h0M42.2 565.4h0M34.7 592.2h0M39.2 505.6h0M129.9 532.5h0" stroke="#2a1c58" stroke-width="2.4" stroke-linecap="round"/><path d="M111.2 540.1l.5 .7M68.1 574.5l.6 .5M130.8 498.6l-.2 .2M64.1 507.3l.8 .1M49.1 544.1l0 .9M39.1 498l-.5 .2M38.3 572.6l.2 0M127.1 570.7l-.5 .5M70.9 579.5l.6 .3M82.3 573.6l-.4 .1M48.5 601.7l-.3 0M71.7 554.9l-.7 .4M91.6 596.6l-.1 .8M66.1 579.6l-.7 .6M134.5 578.9l.3 0M53 584.2l-0 .4M33.2 577.2l-.2 .3M126.4 566.5l-.7 .2M37.4 531l.2 .1M51.8 543.6l.3 .1M38.3 579l.8 .5M71.5 516.9l-.4 .6M90.1 588.3l.5 .3M124 580.6l-.7 .6M96.5 544.6l.4 .8M101.9 530.5l-.3 .5" stroke="#5a3e9e" stroke-width="3.3" stroke-linecap="round"/><path d="M44.7 568.2l.5 .2M96.7 496.7l.2 .1M64.8 510.2l.4 .6M71.4 550.7l-.9 .3M83.2 537.3l.4 0M96.2 508.6l.1 .3M135.2 531.1l-.6 0M106 522.1l.1 .6M126.1 511.9l-.5 .8M53.9 570.8l.1 .4M60.3 522.8l-.7 .6M58 507.5l.3 .1M44.5 604.3l-.4 0M134.2 504.2l.5 .4M32.6 500.9l-.2 .1M67.2 527.1l.9 .4M90.4 535.6l-.9 .1M127.2 548.8l-.1 .2M96.4 556.8l-.4 .1M96.9 564l-.5 .1M56.6 568l-.4 0M105 541.4l.6 .8M29.6 522.3l-.5 .4M88.3 540.8l-.3 .1M61.8 590.3l.4 .6M43.2 547.3l-.5 .3M131.4 587.5l-.3 .4M40.4 568.8l.3 .2M120.4 571.5l.4 .1M114.8 500.7l-.1 .3M132 546l0 .8M47.6 589.1l-.5 .3" stroke="#6a4caa" stroke-width="3.9" stroke-linecap="round"/><path d="M117.1 535.5l-.1 .8M73.8 506.6l.3 .3M85.3 525.5l-.4 .1M78.4 546.8l-.2 .8M81.2 588.3l-.9 0M102.2 526.2l-.4 .6M120.2 563.4l-0 .8M91 531.6l0 .6M86.6 602l.2 .2M101.2 594.5l.9 .4M119.5 506.4l-.4 .1M97 588.3l-.1 .4M62.5 545.8l-.3 .1M91.6 544.8l.2 .3M76.1 588.3l-.3 .9M37.9 560.1l.9 .2M67.1 556.8l.1 .2M69.7 516.4l-.3 0M69.9 569.3l0 .2M114.1 526.4l.2 .5M79.2 502.5l-.1 .3M33.3 604.7l.2 .7M40.1 509.8l.6 .2M83.5 554l-.2 .5M36.1 550.2l.1 .6M38.2 546.7l.5 0" stroke="#452f8c" stroke-width="3.9" stroke-linecap="round"/><path d="M125.4 501.7l.2 .8M120.6 551.1l.1 .2M59.1 584.1l-.1 .4M73.6 584.3l.5 .2M37.4 556.4l0 .6M99.9 583l.6 .1M101.8 539.6l.8 .4M120.4 579.7l-.7 .6M130.4 596.9l.6 .4M83.3 496.3l-.2 .9M64.4 501.1l-.2 .1M71.4 546.6l-.1 .5M41 501.3l-.5 .5M113.3 598.2l.5 .3M73.9 561.1l-.4 .6M53.4 577.7l.2 .1M28 565.7l-.3 .8M132.2 548.6l.5 .4M117.4 578.6l.3 0M76.8 521.9l-.6 .5M120.9 516.2l.1 .2M122.3 604l-.4 .5M43.5 575.7l-.7 .2M117.2 547.5l.2 .3M128.6 573.7l.5 .3M43 520.9l.1 .3M107.7 515.1l-0 .2M49.8 542l-.4 0" stroke="#4c3494" stroke-width="3.9" stroke-linecap="round"/><path d="M38.1 527.1h0M43.4 498.3h0M74.2 536.6h0M115 569.1h0M43.7 505h0M74.5 511.8h0M49.8 551.9h0M55.3 555.7h0M28.6 587.2h0M44.5 534.9h0M95.4 573.1h0M34.1 583.4h0M119.6 554.2h0M135 515.2h0M69.4 507.9h0M91.7 572.9h0M69.2 587.1h0M132.5 553.9h0M131.8 508.5h0M136.2 508h0M33.3 520.1h0M110.5 553.4h0M85.4 545.1h0M76.8 593.3h0M62.3 530.4h0M125 541.6h0M91.2 512.5h0M57.3 588h0M30.3 556.3h0M114.5 552.1h0M97.5 598.6h0" stroke="#c898cc" stroke-width="2.2" stroke-linecap="round"/><path d="M88.1 523.1l-.9 .1M44.2 577.5l.4 .5M106.2 546l.2 .2M136.7 525.9l.3 0M59.3 516.6l-.6 .2M86 583.1l-.7 .3M110.4 534.8l.2 .6M133.6 574l.3 .2M52.5 593.9l.7 .2M80.5 601.9l-.2 .8M124.7 561.3l-.3 .3M64.8 575.9l.7 .7M122 534.3l.5 0M107 513.2l-.2 .8M85.8 513.6l.8 .2M35.1 512.2l.7 .1M49.3 529.5l.7 .3M92.8 522.1l-.5 .7M98 536.4l.2 .6M127 588.6l.7 .6M33.1 553.3l.2 .1M59.7 525.9l.5 0M86.7 529.4l-.8 .5M60 536l.1 .2M90.7 554.7l.1 .7M61.9 568.7l.7 .2M60.2 603.9l.2 .3M136.2 539.6l.4 0M64.4 540.3l-.1 .3M105.7 590l-.5 0M74.4 499.4l.4 0M39.1 563.3l.2 .1M92.7 563.7l-.6 .4M38.6 593.4l-.5 .3M129.2 520.9l-0 .3M109.5 551.9l-.3 .3M112.8 569.5l-.6 .2M66.2 520.3l-.1 .3M48.7 570.4l-0 .2M99.9 558.3l.9 .4M107.4 571.5l-.7 .4" stroke="#6a4caa" stroke-width="4.4" stroke-linecap="round"/><path d="M92.6 502.5l0 .4M126.1 528l-.2 .3M96.7 521.9l-0 .6M55.1 502.4l1 0M63.3 523.3l-.7 .7M137.2 535.3l-.1 .3M90.4 568.9l.2 .9M51.6 603.9l.3 .2M116.2 514.7l.6 .5M61.1 525.2l0 .3M136.2 589.5l-.3 .2M69.1 540.2l.1 .3M134.9 565.7l-.7 .7M68.3 549.2l.6 .1M107.5 498.8l.6 .2M133.9 600l.1 .6M110.3 516.6l.1 .2M130.5 501.2l.1 .6M77.2 554.6l.6 .7M125.9 595.1l-.3 .1" stroke="#4c3494" stroke-width="4.4" stroke-linecap="round"/></g></g>
<path d="M111.3 597.3H131.3" stroke="#111" stroke-width="1.5"/>
<text x="121.3" y="594.3" font-size="7.8" text-anchor="middle" fill="#111" stroke="#111" stroke-width="0.22">25 µm</text>
<g clip-path="url(#c10)"><g filter="url(#soft)"><rect x="29" y="604.9" width="106.8" height="105.9" fill="#c198cc"/><path d="M76.1 677.5h0M122.7 621.8h0M127.1 609.5h0M129.8 618.6h0M110.2 604h0M41.2 622.3h0M71.3 615.7h0M71.2 641.4h0M48.8 653.3h0M80.3 668.4h0M37.5 703.2h0M119.8 655.7h0M33.9 666.3h0M97.5 603.1h0M114.7 710.2h0M137.2 606.9h0M100.1 608.6h0M107.3 612.9h0M137 708.2h0M95.3 627.2h0M85.5 647.3h0M117.6 655.6h0M74.3 666.4h0M117.3 700h0M97 700h0M128.3 651.6h0" stroke="#d4b2d8" stroke-width="2.0" stroke-linecap="round"/><path d="M90.2 690.4h0M67.5 680h0M134.4 687.5h0M69.2 685.9h0M82.7 710.2h0M46.9 710.3h0M114.1 609.8h0M51.7 620h0M131.1 658.5h0M82.4 691h0M116.4 692.3h0M82.2 682.1h0M60.3 707.6h0M68 609.5h0M99.5 704.8h0M50.5 624h0M119 652h0M130.7 623h0M37.6 616.7h0M40.3 650.9h0" stroke="#e2cce4" stroke-width="2.0" stroke-linecap="round"/><path d="M84.7 634.8h0M97.5 611.1h0M108.3 686.7h0M77.7 611.6h0M112.5 635.6h0M45.7 676.2h0M114.8 642.3h0M120.9 702h0M91.9 646h0M81.8 688.2h0M80.6 703.7h0M87.1 617.5h0M55.2 634.2h0M62.3 683.5h0M106.6 630.6h0M86.2 706.3h0M110.4 635.2h0M132.9 618h0M27.8 665.2h0M61.9 685h0M103.2 643.6h0M106 639.5h0" stroke="#e2cce4" stroke-width="1.4" stroke-linecap="round"/><path d="M87.3 706.3h0M91 690.3h0M99.3 640.6h0M45.7 701.8h0M122.4 658.6h0M58.4 612.3h0M94.3 631.3h0M37.6 670.8h0M37.1 688.3h0M129.3 627h0M28.4 655.6h0M34.7 618.1h0M134.9 613h0M31.1 644.4h0M43.4 702.9h0M47.2 704.7h0M98.6 649h0M34.4 708.7h0M32.8 673.6h0M121.5 710.1h0M36.4 681.2h0" stroke="#c890c4" stroke-width="1.4" stroke-linecap="round"/><path d="M118.3 656.7h0M56.6 623.4h0M40 684.7h0M96.7 644.9h0M88.2 638.1h0M66.8 650.8h0M81.3 651.1h0M64.7 638.1h0M97.3 665.1h0M132.2 672.9h0M90.6 603.1h0M88.3 628.6h0M73.9 649.8h0M92.8 701.6h0M34.4 609.2h0M84 679.7h0M56.8 660.1h0M137.1 647.2h0M50.3 614.8h0M48.9 666.2h0M103.1 700.5h0M119.5 697.4h0M39.5 651.2h0M31.4 604.6h0M68.3 629.7h0" stroke="#d4b2d8" stroke-width="1.4" stroke-linecap="round"/><path d="M105 684.3h0M84.1 607.1h0M135.4 695.4h0M89.7 612.2h0M69.2 638.4h0M78.5 621.5h0M114.5 677.7h0M113.2 641.6h0M93.3 702.8h0M108.9 708h0M117.3 616.5h0M33.2 701.8h0M72.6 609.4h0M99.9 710.6h0M108 689.4h0M131.7 610.4h0M64.3 707.1h0M94.8 657.3h0M38.3 637.8h0" stroke="#c890c4" stroke-width="2.0" stroke-linecap="round"/><path d="M124.6 607.9h0M58.9 608.2h0M122.7 645.2h0M131.3 632.7h0M121.5 709.6h0M111.3 661.2h0M135.6 644.7h0M98.7 605.6h0M73.9 641.7h0M109.1 678.8h0M83 658.6h0M116.8 605.5h0M100.3 605.4h0M85.3 703.9h0M94.9 630.2h0M111.8 698.4h0M118.5 640h0M115.2 631.7h0M82.1 651.9h0M51.1 605.2h0M105.7 653.1h0M98.7 645.6h0" stroke="#a870b0" stroke-width="2.0" stroke-linecap="round"/><path d="M99.1 622.7h0M133.8 679.7h0M29.7 655.4h0M80.1 711.8h0M133.3 619h0M79.4 707h0M92 701.1h0M115.2 705.9h0M27.9 610.3h0M82.7 629.2h0M121.8 677.6h0M65.8 616.9h0M122.6 712.6h0M136.8 631h0M107.2 609.6h0M57.9 608.7h0M118.9 663.7h0" stroke="#a870b0" stroke-width="1.4" stroke-linecap="round"/><path d="M103.5 692.5l.1 .3M133.7 702.6l.6 .8M38.9 619.3l-.4 0M69.3 673.8l-.7 .4M114.3 606l.6 .2M49.8 710l-.6 .7M73.5 634.9l-.6 .4M77.8 639.4l.2 .8M113.2 634.1l-.4 .7M121.1 635.8l.3 .4M53.5 672.5l-.5 .4M33.5 694.2l-.7 0M124 692.8l.4 .7M102.8 613.4l.2 .8M127.7 665.5l-.6 .2M28.8 635.4l-.7 .6M90.7 665.9l-.6 .3M27.6 643.9l-.7 0M35.2 676.8l-.3 .2M54.9 621.3l-.1 .6M110.7 618.3l-.8 .2M45.8 614.8l-.2 .4" stroke="#3c2a80" stroke-width="3.9" stroke-linecap="round"/><path d="M107 659.1l-.5 .1M35.9 611.5l.6 .5M58.4 682.6l.3 .2M29 629.6l0 .7M101.3 639.1l.7 .2M126 683.7l-.6 0M62.9 628.3l.6 .3M39.9 684.8l-.9 .2M86.1 608.3l.1 .2M52.8 603.6l-.3 0M137.4 615.6l-.3 .2M88.4 639.2l.5 .8M133.6 669.3l.1 .9M33.5 614.8l.3 .3M96.5 625.7l.3 .1M107.9 614.3l.8 .5M101.7 623.2l-.4 .1M135.8 693l.3 .3M29.9 622.7l.3 .6M126.9 699.1l.1 .5M96.9 695.7l-0 .2M87.8 634.1l-.9 .3M69.3 637.5l.4 .3M68.3 683.6l-0 .2M108 711.2l.2 .4" stroke="#4c3494" stroke-width="4.4" stroke-linecap="round"/><path d="M73.8 666.2h0M87.3 604.6h0M47.7 609.9h0M53.1 660.6h0M135.6 707.6h0M114.9 695.9h0M86.1 617.9h0M38.4 711.3h0M112.5 644.3h0M71.8 654.8h0M110.9 699h0M83.8 628h0M78.7 696h0M92.1 691.1h0M134.2 630.7h0M73.8 690.6h0M69 621h0M71.7 648.5h0M131 663.1h0M50.3 642.1h0M57 710h0M98.2 673.3h0M126.2 635.9h0" stroke="#2a1c58" stroke-width="2.4" stroke-linecap="round"/><path d="M83.5 706.7l-.2 .9M48.2 624.2l.5 .8M35.8 619.6l-0 .4M43.6 624.5l-.8 .3M27.8 606.9l.4 .5M72.7 705.5l.6 .2M137.3 656.7l.6 .2M72.3 697.1l-.3 .7M89 683.6l-.3 .2M42.3 695l.2 .1M37.9 610.7l.2 .8M92.2 613.6l.4 .3M131.4 649l-.4 .2M44.4 635.2l.1 .7M98.4 620l.1 .7M44.4 617.7l-.3 .8M76.7 654.5l.6 .5M37.8 706.9l-.8 .1M79.1 710.5l-.3 0M125.1 661l.5 .4M67.9 624l.2 .4M66.6 677.6l-.5 .3M42.3 691.8l-.3 .1M40 699.8l-.2 .3M103.4 675.4l.4 .5M87.4 613.2l.2 .5M103.7 604.5l.5 .8M43.5 705.4l.1 .2M72.5 661l.8 .3M83.1 668.6l.1 .8" stroke="#6a4caa" stroke-width="4.4" stroke-linecap="round"/><path d="M112 639.8l.1 .8M119.7 706.3l0 .8M54.1 647.7l-.3 .1M50.1 659.3l-.3 .1M109.8 648.5l.2 .2M107.5 670.4l-.1 .9M132 686.5l-.7 .6M111.7 616.3l.7 .4M98.3 680.5l.5 .1M82.1 635.5l.5 .9M81.1 699.8l.3 .6M69.3 707.4l.3 .2M88.2 691l.6 .4M104.5 635.1l-.3 .1M35.3 712.4l.3 .1M132.3 641.9l.7 .3M128.9 611.8l.8 .4M61.3 706.3l-.6 .3M125.6 610.9l.3 .2M119.7 681.2l-.5 .8M88.3 646.6l-.1 .3M120.3 641.9l.6 .1M98.1 605.4l-0 .3M45.1 671.5l-.3 .4M66.9 609l-.4 .5M114.8 651.7l-.5 .2M112.9 673.2l.3 .2M116.3 630.2l.4 .3M76.1 604.7l-.5 .2M28.6 615.3l.3 .1M107.1 661.1l-.2 0M115.6 671l-0 .3M59.3 644.6l-.7 .3M98.8 677.9l.7 .2M46.7 628l-.6 .3" stroke="#6a4caa" stroke-width="3.9" stroke-linecap="round"/><path d="M107.4 642.5h0M81.6 678.4h0M78.1 656.9h0M42 680.4h0M66.7 634.9h0M131.2 694.2h0M128.7 628.5h0M43 653.8h0M102.2 711.2h0M129.3 624h0M48.9 654.7h0M103.3 668.5h0M100.3 681.5h0M72.2 638.5h0M110.1 677.1h0M105.5 667.4h0M61.4 635.1h0M52 653.4h0M71.3 710.3h0M57.7 639.8h0M108.1 677.9h0M115.3 692.1h0M40.6 625.5h0M99.8 628.5h0M87.6 626.1h0M47.9 616.8h0M50.2 634.4h0M110.6 695.3h0M75.8 620.1h0M63.7 619.7h0M34.8 703.8h0M90.8 694.6h0M131 614h0M28.4 653.7h0M78.3 666.1h0M92.4 644h0" stroke="#c898cc" stroke-width="2.2" stroke-linecap="round"/><path d="M121.5 629.8l.4 0M66.2 688.5l.3 .3M66.2 690.1l.3 .6M88.5 700.2l-.2 .5M42.1 657.4l.3 .3M53.7 635.3l.8 0M81.5 684.6l-.3 0M53.6 644.1l.7 .3M44.5 664.2l.4 .7M110.6 709l.2 .3M125.4 656.6l.6 .2M131.8 673.3l.2 .3M92 657.6l.5 .7M53.5 623.4l.2 .5M110.9 654.4l.2 .8M135.1 618.2l.7 .5M91.3 685.2l-.6 .4M119.7 637.4l.2 .6M112.4 687.8l.5 .8M40.3 683l.2 .1M114.6 669.4l.1 .6M48.6 617.9l.4 .5" stroke="#4c3494" stroke-width="3.9" stroke-linecap="round"/><path d="M82.5 708.9l.3 .8M66 709.5l.2 .7M30.2 689.4l.5 .7M28.3 681.2l.2 .1M40.9 690.7l.1 .8M125.3 642.5l.4 .7M83.9 638.1l-.5 .8M30.2 609.9l.5 0M81 616.7l.7 .2M127.3 684.9l.2 .1M136.9 654.5l.4 .8M58 684.9l-.2 .1M78 670.2l-.7 .4M110.7 668.9l.3 .2M134.8 609.6l.6 .4M27.7 658l.4 .2M130 655l.1 .7M60.3 630.9l.5 .4M108 654.1l-.2 .5M107.7 630.6l-.3 .5M81.9 672.6l.1 .5M63.3 678.9l.3 .5M115 623.4l.7 .6M117.5 636.8l-.7 .4M92.3 706.6l-.7 .1M131.5 604.1l.9 .2M96.7 639.5l-.9 .4M83 682.8l-.2 .8M54.1 616.4l.6 .5M121.2 666.7l.2 .2" stroke="#3c2a80" stroke-width="4.4" stroke-linecap="round"/><path d="M132.3 692.3h0M66.1 647.7h0M61.3 615.8h0M127.5 695.8h0M66.5 656.3h0M47.5 667.6h0M122.7 695.7h0M57.6 623.2h0M38.8 603.4h0M98.7 710.9h0M40 614h0M93.6 700.4h0M78.3 648.2h0M89 663.3h0M92.3 711.4h0M101.3 611.6h0M119.5 687.3h0M108 640.1h0M126.9 624.8h0M33.8 682.9h0M72 609.6h0M120.3 671.6h0M43.7 675.2h0M64.3 603.6h0M32.5 653.2h0M92.8 630.4h0M78 608.3h0M136.5 650.3h0M134.9 686.2h0M33.1 663.2h0M29.5 697.9h0M78.6 664.6h0M120.5 610.1h0" stroke="#d8c0e0" stroke-width="2.2" stroke-linecap="round"/><path d="M89.2 711.4l-.1 .6M58.5 652.1l.2 .2M91 675.5l-.2 .1M35.3 667.6l.6 .7M83.9 659.4l.1 .4M71.6 617.7l-.6 0M35.4 640l.1 .3M104.6 609.9l.2 .4M39.2 676.9l.4 .2M45.2 646.5l.3 .8M103.3 641.9l-.3 .9M36.2 624.8l-.7 .3M116.5 711.4l-.2 .3M30.4 620.4l-.1 .3M52.8 610.9l.5 .6M90.5 618.1l-.1 .2M71.2 686.7l-.7 .6M45.9 604.8l-.3 .2M74.5 701.1l-.3 .2M32.4 649.2l-.5 .2M111.3 630l.3 .3M101 632l-.3 .2M95.4 647.8l-.2 0M110.4 706l-.3 .4M49.2 606l-.5 .1M55.5 705l.1 .3M81.3 697.3l.2 .5" stroke="#3c2a80" stroke-width="3.3" stroke-linecap="round"/><path d="M105.6 684.8l.2 .1M56.4 705.8l-.9 .3M96.7 666.9l-.2 1M63.1 680.6l-.3 .8M127.3 628.7l0 .8M40.9 630.7l.3 .5M132.5 669l.1 .2M44.7 701.2l-.2 .2M92.1 647.1l.7 .3M66.8 628.6l.1 .4M76.4 685.7l-0 .7M48.6 638.6l.8 .4M73.1 605.1l-0 .5M134.5 676l.6 .2M114.8 632.1l.1 .2M91.3 655l-.3 .8M114.7 684.9l.6 .2M50.1 664.1l.4 .1M128.9 637.1l-.3 .1M122.4 618.4l-.1 .2M124.5 673.6l-.3 .2M39.2 668.4l-.5 .1M59.8 648.3l-.6 .6M113.2 662.7l.5 .3M102.6 647.6l-.6 0M121.5 658.4l-.2 .4" stroke="#5a3e9e" stroke-width="4.4" stroke-linecap="round"/><path d="M101.4 620.4l.2 .4M72.8 616.3l.4 .2M56.6 618.9l-0 .4M41 697.9l-.5 .2M83.2 649.5l-.2 .3M31 640.6l-.5 .2M71.4 627.7l-.3 .5M37.2 658.6l.5 .3M70.8 645.1l.3 .8M132.3 620.9l.4 .1M69.3 615.4l.4 .7M120.9 677.1l-.2 .1M130.6 634.9l-.1 .7M112.4 603.8l-.5 .8M78.5 690.3l.4 .4M40.2 664.1l.5 .3M93.2 682.8l.1 .4M67.9 702.6l-.1 .3M63.4 653.1l-.2 .5M108 700.9l.1 .3M57.9 611.8l.4 .6M79 705l.4 .5M43.6 627.5l-.3 .4M34.3 688.5l.1 .6M53.7 680.3l.2 .8M49.8 675.1l-.3 .3M106 623.3l-.2 .1M68.2 603.5l.8 .5M90.2 663.1l.4 .7M102 654.4l.8 .5M48.9 683.6l.3 .9M128.6 683.5l.4 .3" stroke="#5a3e9e" stroke-width="3.9" stroke-linecap="round"/><path d="M37.5 644.1l.2 .2M72.6 677.9l-.4 .8M126.2 605l-0 .4M44.4 708.8l-0 .8M126.9 675.1l-.3 .1M61.1 610.5l-.8 .5M83 610.8l-.4 .4M32.3 655.9l.5 .9M102.2 702.8l0 .7M116.9 657.5l-.1 .2M78.5 683.4l-.2 .4M97.4 635.2l.4 .6M120 615.9l-.8 .5M63.3 689.9l.7 .3M121.4 624l-.2 .2M85.3 654l.5 .5M49 673.8l-.6 .4M105.3 706l.1 .6M87.2 707.5l-.3 .6M31.2 647.7l.2 .4M105.4 693.2l-.2 .6M45.6 637.2l.8 .5M47.7 685.7l-0 .9M53.2 711.3l0 .2M136.8 644.9l-.6 .1M53.3 658.7l-.4 .3M56.4 605.7l0 .3M98.4 611.3l.5 .7M63.9 625.1l.8 .4M98.8 627.4l-.5 .5" stroke="#4c3494" stroke-width="3.3" stroke-linecap="round"/><path d="M104.6 619.1l-.7 .2M134.2 695.2l-.2 .1M35.6 643.3l.9 .3M137 606.6l.3 .7M120.9 710.9l-.1 .8M120.2 651.9l-.1 .3M88.5 676.6l-.5 .1M33.2 606.7l.5 .1M98.3 657.9l-.2 .3M103.4 697.8l-.9 0M111.9 623.5l-.5 .3M116.7 614.2l-.5 .7M28.1 661.3l-.8 .2M66.4 654.8l.7 .1M80.8 606.4l-.5 .2M74.6 659.5l.2 .2M44.3 644l.3 .9M80.4 619.4l-.4 .1M125.2 652.7l-.8 .1M62.5 687.7l-.3 .1M52 639.7l-.3 .1M105.5 604.4l-.7 .3M74.4 680.8l-.2 .9M103.6 670.3l-.5 .5" stroke="#452f8c" stroke-width="4.4" stroke-linecap="round"/><path d="M32.2 671.2l.1 .2M82.6 641.7l-.3 0M136.2 674.1l.4 .5M62.2 640.6l.4 .4M92.3 603.5l-.2 .5M116.4 644.7l-.6 .4M38.8 632.3l-.4 .1M64.9 647.8l.3 .8M37.9 648.8l0 .2M52.6 676.9l.6 .3M133.7 634.1l.7 .5M92.3 672.6l-.2 .1M93.2 635.4l.2 .1M124.9 621.2l-.5 .1M73.7 671.5l.1 .3M134.4 712.1l-.2 .4M102.3 663.5l.4 .2M62.3 711.3l-.2 .8M123.8 613l.8 .4M29.6 709.9l-.2 .5M122.5 606.7l.4 .4M95.7 702.1l-.2 .3M87.5 687.4l-.1 .3M95.1 642.9l-.2 .4" stroke="#6a4caa" stroke-width="3.3" stroke-linecap="round"/><path d="M77 622.7l.7 .3M115.1 675.8l.8 0M115.7 662.1l.3 .2M130.2 699.4l-.1 .7M133.4 639.5l-.4 .2M82.3 691.4l.1 .2M89.2 656.6l.1 .3M69.8 696.4l-.5 .7M51.5 667.5l.6 .7M35.1 701.2l.6 .7M133.6 680.3l-0 .4M48.6 703.7l-.6 .5M66 645l.8 .2M88.3 670.8l-.3 .1M57.6 634.2l.7 .5M114.7 706.1l.6 .2M95.9 687.4l-.1 .7M93.8 625.3l.7 .4M45.7 610l-.1 .2M30.7 704.1l.4 .7M121.1 649.8l-.3 .4M90.4 610.5l-.2 .8M113.3 689.6l.3 .4M127.5 649.7l.4 .8M82.3 651.1l.3 .1M115.6 609.8l.6 .4M107.8 647.8l-.5 .1M44.1 667.3l.4 .7M101.7 704.1l-.3 .1M51.5 628l.8 .5M134.1 663.5l.8 .1" stroke="#5a3e9e" stroke-width="3.3" stroke-linecap="round"/><path d="M48.2 649.2l-.8 .2M32.5 691.5l-.8 .4M112 608.7l.5 0M95.5 705.6l-.4 .6M120.8 692.1l-.1 .3M37.4 637.1l-.1 .4M96.5 613.9l.6 .1M97.5 661l.2 .1M111.7 659.1l.2 .2M33 628.8l-.1 .4M127.4 639.7l-.2 .7M88.3 668.3l-.9 .1M30.2 673.9l-.2 .6M31.3 684.6l-.7 .4M38.7 670.5l.3 .4M118 680l.5 .5M79 630.1l-.3 .9M78.5 701.8l.4 .9M112.9 683.2l-.2 .7M117.8 646.4l.7 .5M29.6 701.7l.9 .2M107 697l-.7 .5M135.1 622.5l-.7 .1M114.3 620.8l-.5 .4M80.9 623.8l-.5 0M61.8 643.4l-.3 .1M77.5 644.4l.6 .6M97.9 653.8l-.1 .4M119.2 663.9l.7 .4M76.8 634.6l.1 .2" stroke="#452f8c" stroke-width="3.9" stroke-linecap="round"/><path d="M43.2 686.4l.2 .3M59 616.5l.2 .7M131.6 656.4l0 .3M88.4 643.2l.1 .6M88.8 694.9l.4 .4M59.4 675.3l.6 .7M83.5 661.7l.2 .2M62.3 656.9l-.8 .1M130.4 677.1l.4 .2M104.6 683l-.2 .1M78.9 675.5l-.5 .2M77.1 616.7l-.7 .3M73.8 623.5l.3 .4M63.8 699.9l-.7 0M122.1 702.6l.7 .6M30.5 668l-.4 .8M102 658.2l.7 .6M37.5 654.5l0 .8M35.3 632.1l.2 .2M28 678.5l.1 .4M96 692.9l-0 .7M100.4 685.1l.1 .2M87.3 627.6l-.1 .3M115.1 699.1l.5 .1M91.4 640.3l-.2 .4" stroke="#452f8c" stroke-width="3.3" stroke-linecap="round"/><ellipse cx="63" cy="667" rx="8.3" ry="8.5" fill="#f0edf2" stroke="#cdb6d8" stroke-width="0.8"/><ellipse cx="54.5" cy="694" rx="9" ry="8.8" fill="#f0edf2" stroke="#cdb6d8" stroke-width="0.8"/><ellipse cx="127" cy="708.5" rx="4" ry="3" fill="#f0edf2" stroke="#cdb6d8" stroke-width="0.8"/></g></g>
<path d="M111.3 704.5H131.3" stroke="#111" stroke-width="1.5"/>
<text x="121.3" y="701.5" font-size="7.8" text-anchor="middle" fill="#111" stroke="#111" stroke-width="0.22">25 µm</text>
<g clip-path="url(#c20)"><g filter="url(#soft)"><rect x="29" y="712.2" width="106.8" height="106.6" fill="#c198cc"/><path d="M64.2 755.4h0M36.9 756.3h0M120.5 711.3h0M79.5 724.5h0M76.1 805.7h0M134.8 805.3h0M94.9 781.8h0M48.6 736.6h0M43.7 806.1h0M28.5 732.7h0M68.7 773.8h0M51.9 802.6h0M41.1 760h0M46.2 729.7h0M52.6 782.2h0M131.1 751.9h0M92.3 797.2h0" stroke="#e2cce4" stroke-width="2.0" stroke-linecap="round"/><path d="M90.1 785.9h0M73.2 727.7h0M37 761h0M73 756.9h0M41 723.5h0M31.5 808.7h0M71 747.3h0M86.1 720.9h0M136 780h0M49.7 753h0M78 781.4h0M62.1 747.4h0M82.8 786.4h0M133.3 741h0M50.5 820.8h0M74.1 719.9h0M119.9 804h0M35.4 810h0M35.8 785.6h0" stroke="#a870b0" stroke-width="1.4" stroke-linecap="round"/><path d="M74.1 733.4h0M86.9 761.3h0M70.8 728.2h0M114.5 794.9h0M82.1 769.5h0M104.7 785.1h0M77.6 732.6h0M70.6 763.5h0M41.9 803.8h0M111.9 741.5h0M112.2 744.9h0M63.6 815h0M84.5 795.3h0M69.4 814.9h0M106.7 808.1h0M44.5 774.5h0M45.7 714.3h0M36.7 814.7h0M99.7 783.7h0" stroke="#e2cce4" stroke-width="1.4" stroke-linecap="round"/><path d="M73.8 778.9h0M88.5 760.6h0M64 799.4h0M85.6 764.9h0M109.6 727h0M49.9 742.8h0M91.4 725.7h0M99.4 765.7h0M106.4 745.7h0M48 731.7h0M133 791.3h0M77.8 802.9h0M67.3 754.6h0M104.4 733.6h0M76.6 774.4h0M126.9 798.8h0M32.3 816.7h0M76.8 770.6h0M68.3 820h0M65.4 814.2h0M123.2 760.6h0M54.1 724.1h0" stroke="#c890c4" stroke-width="1.4" stroke-linecap="round"/><path d="M34.9 745.3h0M81.2 791.8h0M74.1 763.4h0M48.7 819h0M50.4 715.2h0M131.3 787.1h0M28.6 742.9h0M41.4 721.9h0M82.5 762.3h0M108.7 798.9h0M48.8 800.3h0M130.2 758.3h0M71.9 748.2h0M93 719.1h0M99.2 766.5h0M84.6 764.8h0M83 799.6h0M126.8 819h0M55.6 766.1h0M32 820.7h0M129.2 747.6h0M41.2 715.3h0M47.2 752.3h0M126.6 789.2h0M115.9 808.3h0" stroke="#d4b2d8" stroke-width="2.0" stroke-linecap="round"/><path d="M120.1 806.3h0M27.8 818.9h0M71.4 815.6h0M60.7 746.3h0M56.2 794.8h0M71.9 738h0M128.9 758.1h0M136 735.5h0M104.4 751.9h0M43.3 771.2h0M62.6 754.1h0M86.3 806.7h0M74.5 750.4h0M42.1 761h0M126.8 762.3h0M79.6 723.3h0" stroke="#c890c4" stroke-width="2.0" stroke-linecap="round"/><path d="M66.5 769.4h0M47.7 785.6h0M30.4 767.8h0M66.2 781.1h0M82.2 757.6h0M81.7 776.7h0M83.9 722.4h0M79.5 752.8h0M98 800.5h0M57 810.5h0M33.6 742.1h0M83.8 789.2h0M58.9 765.7h0M64.9 809.4h0M91.6 768.1h0M79 730.3h0M79.1 782.6h0M35.8 729.3h0M30.3 716h0M57.6 764.6h0M72.6 783.6h0M112.3 806.2h0M62.7 744.2h0" stroke="#d4b2d8" stroke-width="1.4" stroke-linecap="round"/><path d="M93.1 730.6h0M64.5 814.9h0M135.6 811.3h0M36.1 765.8h0M82.5 781.6h0M56.3 791.1h0M85.8 782.8h0M123.7 761.5h0M63.9 748.9h0M60.2 754.8h0M61 780.6h0M112.9 722.7h0M102.4 737.1h0M45.4 808.3h0M126.7 787.8h0" stroke="#a870b0" stroke-width="2.0" stroke-linecap="round"/><path d="M81.5 776.8l-.1 .6M131.8 744.3l.4 .1M50.6 733.6l.1 1M132.3 736.3l-.6 .4M55.4 718.5l-.3 .1M40.9 764.2l-.4 .6M111 742.7l-.1 .5M136.3 721.1l-.3 .7M107.4 741.3l-.3 .2M33.1 711.9l.1 .7M91 779.3l.2 .6M93.9 803.8l.8 .1M69 762.6l.3 .2M64.3 749.2l-.9 .4M136.8 764.9l.1 .5M98 776.1l-.3 .8M132.4 726.2l.6 .2M134 771.9l-.4 .8M106.3 789.5l.9 .3M75.7 720.7l.1 .2M102.1 775.7l-.4 .6M29.6 820l.3 .4M52.7 730.9l.3 .5M78.8 798.7l-.8 .6" stroke="#452f8c" stroke-width="3.3" stroke-linecap="round"/><path d="M120.3 755.6l.6 .3M114.8 756.1l-.2 .2M81.5 797.7l-.9 .3M40.7 712.6l.5 .6M38.3 774.7l0 .6M102.2 789.3l-.1 .4M107.2 812l.7 .5M114.6 729.9l.9 0M45 750.7l.2 .3M27.7 714.3l.5 .4M66.2 787.8l-.9 .5M133.8 818.1l.6 .5M78.8 730.5l.6 .7M35.3 807.6l.6 .7M90.4 722.1l.1 .7M55.3 722.3l.9 .2M82.6 754.5l-.2 .8M38.8 820.3l.3 .5M32.7 728.8l.2 .9M69.4 765.9l-.2 .8M51.6 799l.1 .9M52.8 740l-.1 .5M80.8 778.3l.8 .2M130 779.3l.3 0M73.5 777.1l.7 .6M53.7 749.5l.3 .7M55.4 778l-.8 .1M42.8 756.1l.1 .5M80.9 727.6l-.2 .2M101.5 783.6l-.4 .7M58.4 778.8l.5 .5M109.9 792.9l.6 .1M130 765.6l-.6 .2" stroke="#4c3494" stroke-width="3.9" stroke-linecap="round"/><path d="M42.3 795.2l-.4 .8M128.9 793.3l.2 .7M64.7 775.6l.4 .2M125.4 789.5l.6 .3M119 808.1l.4 .7M57.5 731.8l-.1 .8M127.2 751.3l.7 .3M88.8 757.6l.8 .3M33.3 744.7l.3 .2M100.3 808.1l-.4 .2M87.3 711.9l-.1 .3M105 807.4l.8 .4M103.6 803.4l-.5 .1M48.8 755l.5 .1M90.5 800.9l-.7 .1M110.7 718.3l-.2 .2M119 741.8l-.2 .4M53.1 782.9l.1 .4M107.4 751.8l.1 .4M88.8 815.5l-.5 0M116.8 735.5l-.4 .1" stroke="#6a4caa" stroke-width="3.3" stroke-linecap="round"/><path d="M101.8 778.9l-.2 .1M131.8 773.1l-.1 .6M135.6 779.3l-.1 .6M54 818.9l.4 .5M28.1 814.5l.8 .3M100.1 814.8l.9 .1M42.4 817.6l.2 .4M127.2 736.6l.1 .2M107.1 804.1l.6 .3M32.9 816.6l.7 .1M30.8 768.4l-.1 .2M28.1 804.4l.5 .8M60 757.7l.3 .2M118.1 762.6l.1 .7M67.7 754.7l-.7 .6M42.8 788l-.1 .7M63 737.8l-.2 .2M107.2 723.1l.2 .2M49.2 790.7l-.6 .4M29.2 723.3l.5 .5M100.1 731.4l0 .5M74.3 737.6l.1 .4M55.3 747.8l.4 .3" stroke="#452f8c" stroke-width="3.9" stroke-linecap="round"/><path d="M91.4 813.4l.1 .4M107.3 761.1l.6 .1M80.7 790.5l-.6 .4M116.4 804.1l.4 .1M78.8 814.1l.9 .2M71.3 766.7l.3 .2M40.1 730.7l.1 .2M101.1 769.1l-.4 .1M119.4 813.4l.3 .9M61.7 778.2l-.4 .1M43.5 813.4l.2 .3M95.3 725.9l-.4 .5M107.9 757l.6 .5M124.3 800.1l.8 .1M92.3 786.6l-.9 .1M30.5 735.8l.7 .2M52.7 795.3l-.4 .1M113 712.5l.1 .2M111.7 760.6l.4 .3M73 814.7l-.6 .2M67.7 807.8l-.6 0M29.4 732.1l-.7 .1M132.1 722.1l.2 .6M63.6 812.3l-.4 .4M113 817.2l.4 .3M89 769.2l.6 .5M91.8 727.6l-.1 .9M34.9 779.8l.3 .1M97.4 719.4l-.4 .7M38.8 739.6l-.6 0M129.9 818.7l.8 .5M110.8 808.5l-.2 .3" stroke="#3c2a80" stroke-width="3.9" stroke-linecap="round"/><path d="M52.5 737.8l.7 .2M47.5 762l0 .8M60 771.6l-.2 .2M111.7 812.3l-0 .5M70.9 800.7l.9 .4M49 779.5l-.5 .6M124.3 818.9l-.3 .2M119.9 750.1l.4 .1M65.1 731.5l-.2 .2M55.3 714.5l-.4 .4M28.2 740.5l.1 .3M56.7 811.7l.4 .5M35.8 772l.7 .4M38.8 761.6l.4 .9M68 737.6l-.3 .7M42.5 724l.3 .8M104.7 763.8l.2 .4M128.6 739.6l-.1 .3M112.8 765.2l.4 .3M49.2 802l-.2 0M35 765.8l.7 .1M44.1 776.5l.5 .2M90.2 792.5l.5 .8M82.2 733l.6 .2M91.5 759.7l-.5 .8M40.8 736.5l-.3 .9M106.7 818.9l.7 .1M34.9 784.1l-.4 .6M131.6 800l.3 .5M28.5 750.7l-.9 .1M38.3 784l.4 .5M52.9 773.1l0 .7" stroke="#3c2a80" stroke-width="3.3" stroke-linecap="round"/><path d="M111.7 749.8h0M79 790.6h0M33 752.1h0M80.9 750.7h0M75.7 737.7h0M48.9 746.3h0M100.4 711.2h0M119.6 800.1h0M72.7 788.4h0M59.6 793.6h0M44.1 742.6h0M122.8 737.8h0M103.5 759.9h0M68.8 811.9h0M98 760.4h0M84.1 812.6h0M77.8 816.7h0M115.2 808.3h0M127.5 739.6h0M35 716h0M66.1 772.3h0M63.9 770.7h0M42.8 718.4h0M50 800.2h0M69.4 748h0M58.9 817.5h0M48.6 784.3h0M72.3 793.9h0M42.5 805.3h0M110.9 744.7h0M101.9 716h0M62.8 764.3h0" stroke="#d8c0e0" stroke-width="2.2" stroke-linecap="round"/><path d="M135.6 713.6l.3 .7M87.2 797.6l.1 .7M29.5 747.7l-.2 .4M47.8 713l-.1 .4M29.4 808.9l-.6 .4M116.7 799.5l-.2 .5M69.8 803.2l-.8 .2M100.6 766.1l-.2 .2M101.9 722.5l-.3 .2M100.6 736.2l.3 .9M102.6 728.4l.4 .6M136.4 809.9l-.3 .8M61.5 817l.4 .2M61.6 782.9l-.3 .2M88 791.4l.5 .1M44.7 765.2l-.6 .6M100.2 754.6l-.1 .4M57.4 788.7l.3 .8M73.6 785.1l-.9 .4M119.7 817.4l-.4 .3M45.6 725.8l-.3 .2M47.4 773.3l.7 .1M66 783l.5 0M110.2 722.2l-.5 .1M62.4 809.4l.8 .5M49.8 817.5l-0 .3M105 710.8l-.7 .2M31.1 775.2l.4 0M35 760.1l.4 .5" stroke="#4c3494" stroke-width="4.4" stroke-linecap="round"/><path d="M85.5 762.3l.4 .3M104.6 798.6l0 .3M103.4 819.8l.3 0M69.8 728.1l-.2 .9M96.9 815l-.5 .7M134.9 814l0 .8M49.9 725.7l-.8 .1M49.4 766.8l-.1 .6M38.9 812.3l-.7 .3M98.8 779.2l.3 .7M91 809.7l-.8 .5M96.2 800.9l.1 .2M55 812.5l.1 .2M46.7 813.6l.4 .6M86.1 817.2l.1 .2M119.3 804.7l.3 .3M100 746.7l.3 .6M69.1 792.8l-.4 .2M126.1 748.2l.4 .3M30.9 786.2l-.3 0M133.8 761l-.6 .6M75.6 807.2l-.3 .9" stroke="#3c2a80" stroke-width="4.4" stroke-linecap="round"/><path d="M123.8 755h0M88.5 716.1h0M38.8 771.7h0M83.8 807.7h0M89.1 802.6h0M40.3 718.6h0M78 769.1h0M94.9 792.6h0M59.2 804.4h0M87.8 783.3h0M52 757.8h0M103.6 741.9h0M58.5 746.1h0M113 756.5h0M82.5 817.2h0" stroke="#2a1c58" stroke-width="2.4" stroke-linecap="round"/><path d="M62.3 792.4l-.5 .9M86.9 809.1l.1 .6M27.7 760.1l-.7 0M49 752.8l-.3 .1M58.9 774.7l-.2 .2M67.6 816.7l-0 .6M86.5 730.5l-.9 .1M111 731l-.2 .2M90.2 777.1l.2 .2M57.8 810.4l-.6 .8M66.5 752.1l.2 .4M97.8 808.4l.3 .3M61.3 740.5l.2 .1M98.7 771.5l-.6 .4M119.2 762.6l.3 .8M64 754.2l-.2 .3M107.6 730.1l-.9 .4M105.9 775.9l-.1 .5M111.7 803.7l.5 .5M109.7 800.9l-.9 .2M82.8 767.2l-.9 .1M72.5 728.4l.7 .1M43.9 800.5l-.8 .2M78.7 767.3l.5 .3" stroke="#5a3e9e" stroke-width="3.3" stroke-linecap="round"/><path d="M37 720.8l.3 0M93.8 789.5l-.4 .7M134.1 793.8l.2 .9M117.7 745.1l.7 .1M59.9 759l.5 .8M90.2 771.3l-.1 .7M107.4 793.6l.2 .7M32.4 814.2l-.1 .8M71.6 770.3l-.1 .8M79.3 759.8l.1 .7M75.6 781l-.6 .4M95 790.9l-.3 .7M28.3 754.4l.5 .6M78.4 726l.8 .1M117.4 739.9l.9 .1M98.8 720.7l.6 .2M72.7 805.1l-.3 .1M79.2 717.9l-.7 .3M33.7 742.7l.1 .6M70.9 808.7l.5 .4M105.4 772l-.7 .5M73.4 777.9l.3 .6M81.8 739.8l-.4 .7M48.4 808.2l-.1 .2M44.6 810.5l-.1 .5M37.4 787.5l-.2 .2M97.9 730.6l.2 .5" stroke="#5a3e9e" stroke-width="4.4" stroke-linecap="round"/><path d="M95 820l-.3 .5M67.2 742.4l-.8 .4M83.3 803.6l-.5 .1M136.1 755l.3 .4M93.9 816.8l0 .3M124.1 802.5l.2 .3M136.5 804.8l-.5 .5M73.5 732.6l.4 .5M131.2 760.7l0 .6M37.7 802.7l.9 .1M32.4 734.8l.1 .2M117.4 752.1l-.2 .5M106.9 735.2l-.3 .1M34.6 757.4l0 .9M126.7 760.4l-.1 .6M75.7 784.7l.3 .6M48.5 739.8l-.6 .8M47.5 792.4l.5 0M135.3 718.5l.2 .1M58.2 752.1l.6 .6M129.9 808.9l-1 .2" stroke="#6a4caa" stroke-width="3.9" stroke-linecap="round"/><path d="M78.1 741.4l.4 .2M42.9 759.5l.6 .4M58 786.1l-.2 .5M45.5 784.5l-.1 .5M136 740l-.6 .8M72.2 754.5l-.6 .5M134.8 751.5l.3 .1M108.2 745.7l-0 .3M128.9 756.2l.5 .5M55.4 790.4l-.2 .5M100 793.3l.6 .6M87.6 765.7l-.1 .5M126.2 807.8l0 .6M130.3 752.8l.8 .4M39.9 744.3l1 .1M77.4 793.7l-.1 .6M86.1 721.5l-.2 .1M69.8 798.5l.6 .4M104.8 785.4l.4 0M67.4 780.8l.2 .2M35.4 802.8l.3 .3M57.5 740.6l.8 0" stroke="#452f8c" stroke-width="4.4" stroke-linecap="round"/><path d="M73.5 723.2l.4 .3M43.9 745.6l.4 .8M71.3 758.9l.3 .4M77.5 755.6l.1 .3M127.5 712.4l-0 .9M67.6 774l.5 .4M111.6 727.4l0 .6M30.1 778.3l.2 .9M85.9 727.3l.6 .2M33.6 773.7l.1 .6M82.1 783.3l.7 .1M49.7 723.6l0 .3M110.4 738.4l-.4 .5M95.3 764.5l.9 .1M78.9 777l-.1 .3M122.2 745.1l.4 .5M80.8 720.8l-.1 .4M129.4 785.8l-.3 .6M53.8 759.8l.2 .5M74.6 713.4l-.8 0M72.1 744.7l-.4 .3M125.7 792.8l.9 0M133.7 731.1l.2 .4M85.3 781.6l.4 .1M127 813.9l-.2 .3M58 735.1l.5 .3M53.8 725.6l-.6 .1M71.3 752.4l-.8 .1M30.9 726.1l0 .9" stroke="#6a4caa" stroke-width="4.4" stroke-linecap="round"/><path d="M63.4 799.9l-.7 .6M50.7 770.9l.1 .4M107.4 719.1l-.7 .3M121 713l.7 .4M39.5 728.8l.3 .3M136.9 728.7l.3 .9M70.8 816.9l.1 .9M38.8 778.7l.4 .5M101.3 750.8l-.3 .2M86.3 775.9l.6 .6M69.6 733.4l.3 .5M130.6 804.6l-.3 .4M97.5 736.6l-.2 .2M132.1 770.6l.3 .6M34.4 720.3l-.4 .2M125.9 765l0 .3M97.4 713.9l.1 .9M92.9 765.4l-.2 .2M128.8 814.2l-.2 .9M61.3 745.5l-.3 .5M86.7 795.9l.1 .4M82.4 718.7l.2 .3M45.8 733.8l-.3 .7M117.9 794.1l.4 .1M105.6 779.1l-0 .7M114.6 713.1l.3 .8M103.1 798.9l-.1 .2M49.3 716.1l-.1 .2" stroke="#4c3494" stroke-width="3.3" stroke-linecap="round"/><path d="M42.6 712.9h0M83.8 737.2h0M81.1 796.1h0M73.7 743.4h0M39.7 807.1h0M54.2 771.9h0M134.6 788.9h0M83.7 762.3h0M37.5 755.9h0M78.8 746.6h0M77.2 803h0M136.1 738.2h0M42.5 737h0M44.3 778.3h0M51.5 766.8h0M90.4 719.3h0M47.1 735.9h0M83.7 710.9h0M38.7 750.8h0M56.4 765.8h0M45.2 769.5h0M98.8 805.6h0M92.1 733.9h0M77.7 750.2h0M80.8 769.1h0M28.2 717.5h0M34.3 730h0" stroke="#c898cc" stroke-width="2.2" stroke-linecap="round"/><path d="M30.9 765.8l-.5 .1M114.5 819l-.8 0M114.8 716.8l-0 .2M53.2 808.5l-.2 .3M105.6 727.7l-.3 .1M136.7 799.7l.6 .4M133.5 775.1l.2 .5M118.1 811.9l-.3 .3M121.2 793.4l-.2 .7M61.6 802.2l.4 .7M40.8 800.5l-.5 .8M137 744.8l-.3 .4M92.2 711.2l-.3 .2M97.6 784.9l.4 .2M129.1 788.6l-.6 .1M129.9 733.8l-.2 .3M136.8 784.3l0 .5M131.6 712.9l.5 .4M55.3 805.5l-.1 .4M64.3 788.6l-.2 .7M61.3 761.4l.8 .3M75.9 713.3l-.3 0M56.4 799.3l.3 .6" stroke="#5a3e9e" stroke-width="3.9" stroke-linecap="round"/><ellipse cx="64.3" cy="719" rx="8" ry="10" fill="#f0edf2" stroke="#cdb6d8" stroke-width="0.8"/><ellipse cx="123" cy="724.2" rx="8" ry="9" fill="#f0edf2" stroke="#cdb6d8" stroke-width="0.8"/><ellipse cx="90.5" cy="745.7" rx="9" ry="10.5" fill="#f0edf2" stroke="#cdb6d8" stroke-width="0.8"/><ellipse cx="117.3" cy="778.8" rx="11" ry="14" fill="#f0edf2" stroke="#cdb6d8" stroke-width="0.8"/><ellipse cx="33.7" cy="794.6" rx="6" ry="8" fill="#f0edf2" stroke="#cdb6d8" stroke-width="0.8"/></g></g>
<path d="M111.3 812.5H131.3" stroke="#111" stroke-width="1.5"/>
<text x="121.3" y="809.5" font-size="7.8" text-anchor="middle" fill="#111" stroke="#111" stroke-width="0.22">25 µm</text>
<g clip-path="url(#c01)"><g filter="url(#soft)"><rect x="137.6" y="497" width="106.2" height="106.6" fill="#d0d3da"/><path d="M198.6 551l.5 .4M177.2 527.3l-.1 .2M177.4 582.5l-0 .6M151.5 571.1l.3 .4M229.9 517l-.4 .5M174.1 511.1l-.4 .5M164 605l.6 .2M154.7 586.4l-.3 .6M231 523.7l.6 .4M218.4 506.1l0 .3M137.3 591.6l.4 .5M224.3 504.9l0 .2M219.2 568l-.2 .1M146.5 569.6l.4 .2M163.7 542.8l-.6 0" stroke="#6a3618" stroke-width="3.6" stroke-linecap="round"/><path d="M201.9 575.8l.1 .4M137.7 535.5l.2 0M200.6 558.2l.2 0M179.7 559l.1 .7M161.4 566l.2 .2M143.9 497.5l-.1 .2M245.3 561l-0 .2M242.7 507.8l-.8 .1M201.3 566l-.2 .7M198.7 544.7l.5 .1M218.2 600.7l.6 .5" stroke="#5e2e14" stroke-width="4.2" stroke-linecap="round"/><path d="M140.5 529.9l.1 .2M219.3 528.5l-.2 .1M239.1 498.8l-.2 .5M218.6 542.7l-.1 .7M187.7 563.4l-.4 .2M188.7 539.8l.3 .5M176.6 499.7l-.1 .6M136.2 521.4l-.4 .5M214.3 539.4l-.5 .6M217.3 520.2l.6 0M207 548.3l-.3 0M190 584.2l-.4 .2M244.5 531.3l.7 .1" stroke="#3e1c0a" stroke-width="4.2" stroke-linecap="round"/><path d="M165.3 503.9l.1 .3M214.6 518.6l-.1 .2M231.7 500.1l-.4 .1M204.4 595.2l.3 .3M137.9 557.7l.1 .3M202.4 540.8l.6 .5M205 600.1l-0 .2M166.9 551.5l-.1 .6M155.8 529.4l-.2 .5M176.3 565.7l-.4 .6M232.9 565.1l-.5 .3M217.9 508.6l-.6 .4M173.7 588.6l.4 .6M144.2 524.7l.6 .3M195.4 496.1l-.4 .4" stroke="#6a3618" stroke-width="4.2" stroke-linecap="round"/><path d="M155.5 548.5l1 .3M208 582l1.4 .3M226.6 542.3l-.5 1.1M214.3 504.9l-.7 .3M191.8 533.7l.4 .2M242 540.7l-.4 .7M226.8 563.1l1.3 .7M150.4 542.4l.9 .8M146.5 558.3l1.2 .8M142.9 563.2l-0 .5M161.9 524.3l-1.1 .4M234.3 535l-.1 .4M182 580.5l-1.5 .2" stroke="#6a84c2" stroke-width="3.0" stroke-linecap="round"/><path d="M182.7 585.5l.4 .1M228.6 555.3l.6 .5M236 592.5l-.3 .5M168.6 570.2l.2 0M143.2 598.2l-.3 .6M221.8 588.9l-.2 .1M180.7 600.7l.1 .3M220.5 496.7l-.5 .2" stroke="#4e2410" stroke-width="3.6" stroke-linecap="round"/><path d="M162 576.9l-.4 .2M150.4 515.2l.2 0M234.5 547.6l.2 .6M225.8 520.5l-.3 .5M216.8 514.2l.2 .5M143.2 602.7l0 .2M160.9 591.7l-.7 .1M208 525l-.3 .3M137.8 512l-.5 .1M182.3 528.9l-.5 .5M237.2 586.4l.4 .2M179.5 536.8l-.3 .3M218.9 583.8l-.4 .4M151 551l-.6 .4M210.2 529.4l-.2 .2M200.1 594.1l.6 .5" stroke="#3e1c0a" stroke-width="4.8" stroke-linecap="round"/><path d="M231.6 559.1l.4 .1M165 514.2l.5 .5M171.2 582l0 .5M152.8 524.2l.4 .1M186.9 537.1l-.1 .5M204.6 552.2l.3 .6M218.9 555.1l.3 .7M199.1 499.7l.2 .5M213.6 554.9l-.1 .7" stroke="#4e2410" stroke-width="4.2" stroke-linecap="round"/><path d="M175.6 557.9l.1 .7M208.4 536.8l0 .3M235.5 510.8l-.2 .4M194.8 589.3l.3 .5M143.1 515l.7 .1M163 573l.2 .7M198.3 509.5l-.1 .3" stroke="#5e2e14" stroke-width="3.6" stroke-linecap="round"/><path d="M154.7 562l.7 .1M167.8 540.8l.2 1.3M226.6 508.5l1.2 .2M231.2 530.9l-.5 .4M232.3 545.1l-.4 1.4M144.8 581.8l-.6 .3M136.4 596.3l1.2 .5M149.7 498.9l-.6 .1M141 577.8l.8 .2M189.6 569.4l-.8 .7M171.5 502.8l.3 .3M225.3 580.5l.3 .4" stroke="#4c66ac" stroke-width="4.2" stroke-linecap="round"/><path d="M186.9 518.2l.3 1.4M235.5 573.6l.3 .3M213.5 546.7l-.5 .3M232.9 569.3l.9 .6M230.6 590.5l-.4 .4M228.7 576.2l-.4 .5M222.7 582.1l-.6 .8" stroke="#5a76b8" stroke-width="3.6" stroke-linecap="round"/><path d="M192 530.2l-.3 .7M143.1 537l-.1 .1M202 587.8l-.1 .7M193.8 518.4l-0 .2M149.9 594.2l.3 .3M176.8 548l.2 .2M183.4 496l.2 .8M155.3 604.6l-0 .2M143.3 546l-.4 .3" stroke="#3e1c0a" stroke-width="3.6" stroke-linecap="round"/><path d="M151.6 581.9l-.5 .8M176.8 551.9l.4 1.1M182.1 594.7l-.5 .2M137 541.4l0 .6M188 505.6l1.2 .3M161.4 498.6l.4 .3M171.2 564.6l.6 .2" stroke="#6a84c2" stroke-width="4.2" stroke-linecap="round"/><path d="M201.1 520.2l1.2 .1M224.6 518.5l-.5 .7M242.5 575.8l.4 .4M176.2 575.6l.2 .4M140.4 602.2l.3 .9M210.2 579.8l1.4 .2M162.3 582l.3 .6M200.6 537l-1 .7" stroke="#4c66ac" stroke-width="3.0" stroke-linecap="round"/><path d="M230.2 536.7l-.2 .5M244.2 505.3l-.1 .4M163 549.5l.6 .5M143.1 589.2l.7 .7M152.7 561.1l-.4 1.4M245.3 595.9l.4 .4" stroke="#5a76b8" stroke-width="3.0" stroke-linecap="round"/><path d="M177.6 600.7l-.5 .3M179.1 506.2l-.2 .3M137.1 506.1l-.6 .4M136.6 518.9l-0 .6M242.4 499.9l.6 .4M179.6 548.4l-.2 .1M186.1 590.1l.7 0M191.2 506.5l-.8 .1M155.1 590.2l0 .2M169.2 535.9l.1 .2M238.5 597l-.2 .1M188.2 498.2l.3 .7M155.5 512.4l.7 .3M155.5 516.7l0 .2M199.7 603.7l-.4 .1M224.7 600l.1 .1" stroke="#5e2e14" stroke-width="4.8" stroke-linecap="round"/><path d="M236 521.1l.2 .4M222.5 499.9l-.7 .4M143.9 527l-.2 .3M185.9 523.1l.4 .2M206 511.8l.7 .1M169 605l-.3 .7M198 583.7l-.1 .2M161.5 535.4l-.1 .8M242.6 603.1l.3 .5M243.7 573.8l-.3 .5M238.1 552.2l-.2 .3M238.4 576.2l-.1 .3M191.4 538.8l.4 .5M145.4 540.6l.2 .1" stroke="#4e2410" stroke-width="4.8" stroke-linecap="round"/><path d="M238.5 514.3l-.7 .4M156.8 496.1l-.5 .2M162.2 598.5l.6 1.3M237.7 530.3l-.8 .3M217.1 536.1l.6 .3M177.8 517.5l.5 .7M168.1 525l-.5 .2" stroke="#5a76b8" stroke-width="4.2" stroke-linecap="round"/><path d="M180.9 591.6l.8 .4M171.8 597.3l.4 0M189.8 578.8l.3 .1M167.2 588.9l.1 1M193.6 601.1l1.1 .6M180.7 512l.5 .1M158.5 521.6l-.7 .5" stroke="#4c66ac" stroke-width="3.6" stroke-linecap="round"/><path d="M193.1 561.5l.3 0M225.1 555.2l-0 .4M225 528.5l.3 .6M185.4 510l.6 .1M150.8 530.8l.8 .2M146 552.6l-.2 .2M238.9 541.8l-.4 .1M194.7 553.3l-.1 .3" stroke="#6a3618" stroke-width="4.8" stroke-linecap="round"/><path d="M140.9 551.3l1 .2M190.1 555.6l-.3 .6M157.3 536.7l-.2 1.5" stroke="#6a84c2" stroke-width="3.6" stroke-linecap="round"/></g></g>
<path d="M219.3 597.3H239.3" stroke="#111" stroke-width="1.5"/>
<text x="229.3" y="594.3" font-size="7.8" text-anchor="middle" fill="#111" stroke="#111" stroke-width="0.22">25 µm</text>
<g clip-path="url(#c11)"><g filter="url(#soft)"><rect x="137.6" y="604.9" width="106.2" height="105.9" fill="#d6d9e0"/><path d="M153.5 675.9l-.4 .5M159.3 693.8l.3 .1M174.1 608l-.3 .2M226.1 632.9l-.5 .5M219.2 674.4l-.1 .6" stroke="#4e2410" stroke-width="4.2" stroke-linecap="round"/><path d="M192.6 626.6l-.8 .4M240.5 617.8l.7 1M157.9 657.4l-.4 .3M137.1 612l.6 .8M191.1 702.9l-.2 .6M224.2 660.1l-.7 .3M190.6 624.6l.4 0M178.1 633.2l.2 .3M213.6 634.5l-.9 .8M245.3 666l1 .1M236.8 679.7l-.3 .5M229.5 662.8l.9 .6M237.3 690.7l-.4 .6M227.4 682.7l-.1 .4M229.7 668.4l1.2 .1M169.8 651.8l.5 .1M163.4 625.4l-.4 .1" stroke="#6078b8" stroke-width="3.6" stroke-linecap="round"/><path d="M234.8 647.2l-1.1 .8M194.5 650.4l-.4 .5M192.3 604.2l1.4 .2M161.4 607.6l-1.1 0M140.6 630.4l-.2 .5M212.7 686.6l-1.2 .5M143.4 659l-.4 0M165.9 642.4l1 .5M138.2 633.9l-.8 .8M203.8 673.4l-.8 0M157.9 627l-.2 .8M192.7 712.1l-.3 .3M151.4 634.3l.4 .1M225.9 675.8l-.4 1.2M180.2 696.3l-.6 .4M151.7 663.4l.9 .3M178.4 687.9l-1.4 .1M234.7 641.5l-.3 .2M198.3 701.9l.6 1.4" stroke="#6078b8" stroke-width="4.2" stroke-linecap="round"/><path d="M213.2 660l-.5 .3M160.4 664.3l-.1 .8M182.6 692.8l.5 .1M195.7 605l.7 .4M241.8 682.7l-.5 1.1M144.3 665.5l1.1 .2M140.8 618.7l-.3 .7M140.2 640.5l.3 1.3M167.1 670.2l.7 .3M177.5 626.9l.4 .7M241.7 709.4l.5 .8M156.1 645.8l-1.2 .8M145.8 698.8l-.3 .2M199.9 605.9l-.9 1.1M154.7 665.7l1.2 1M162 644.4l.2 1.5M208.5 694.4l.8 .3M228.9 648.3l1 .4M157.6 642.6l-.4 .2" stroke="#3a52a0" stroke-width="3.6" stroke-linecap="round"/><path d="M144.4 650l.4 1M218.3 711.9l1 .7M201.6 609.7l-.5 .3M223.7 703.4l1.5 .4M172.3 636.1l1.1 0M223.4 641.9l.3 .6M140.4 606.9l-.3 .3M191.1 685l-.2 .3M155.6 634.1l.6 .2M183.1 676.9l-.6 1.5M179.3 667.9l-.5 1.2M138.8 698.1l.9 .2M146.6 629.4l-.4 .3M164 668.2l.3 .6M220.8 657l1.3 .4" stroke="#3a52a0" stroke-width="4.2" stroke-linecap="round"/><path d="M223.9 664.8l.7 .2M208.8 652.3l.3 .5M242.8 704.5l-.3 .2" stroke="#6a3618" stroke-width="3.6" stroke-linecap="round"/><path d="M183.7 651.4l.2 .2M169.7 665.5l-.5 .2" stroke="#4e2410" stroke-width="3.6" stroke-linecap="round"/><path d="M243.1 632.3l-.2 .4M237.4 618.2l.1 .5M229.3 675.6l.1 1M180.4 609.8l.1 .5M183.6 689.1l-.8 .8M214.8 667.5l-.8 .4M148.8 682.3l.9 .7M178.5 672.8l.5 1.3M188.9 641.4l-.1 .8M189.5 653.5l.2 .3M220.6 606l-.6 1.3M140.2 677.4l-.5 .8M184.6 709.9l-.1 .4M137.8 661.4l-.3 .1M157.8 694.5l-.9 .4M225.4 605.3l-.4 1.4" stroke="#3a52a0" stroke-width="3.0" stroke-linecap="round"/><path d="M214.4 623.4l.3 .2" stroke="#7a4020" stroke-width="4.8" stroke-linecap="round"/><path d="M218.8 632.4l-.7 .2M240.7 652.4l-.2 .6M217.6 664.4l-.9 .5M169.7 621.5l-1.2 .2M231.1 708.2l.2 1.2M180.2 682l-.5 .8M242.2 696.4l.4 .4M229 657.5l.5 .5M191.7 655.9l.4 0M172.8 680.2l1.1 .4M196.2 682.9l-.6 .6M171.5 610.6l-.8 .4M165.5 675.4l.8 .6M204.2 651.3l-1.2 .9M171.8 669.9l.4 .8" stroke="#304898" stroke-width="3.6" stroke-linecap="round"/><path d="M181 711.6l.5 .9M220.3 620.8l1.3 .6M236.1 654.4l-.5 1.2M197.2 642.1l.9 .5M198.6 630.5l-.1 1.3M236 710.6l-.6 .3M172.7 705.7l-.8 .5M236.4 629.6l.1 .5M167.1 708.5l.4 .9M196.7 648.1l.4 .9M180.3 646.4l-.9 1M190.8 667.1l-.1 .7M221.8 694l.5 .3M165.7 628.9l-1.3 .7" stroke="#304898" stroke-width="3.0" stroke-linecap="round"/><path d="M175.1 642.7l.4 .5M219.2 679.2l-.1 .5M172.3 618.8l.2 .6M143.8 617.2l-.3 .4" stroke="#5e2e14" stroke-width="4.8" stroke-linecap="round"/><path d="M196.9 656.1l-.6 .5M214.7 645.1l.2 1M230.7 650.8l-1 .6M146.2 667.7l1.1 1M166.2 644l-.9 .4M142 633.8l.5 .4M233.3 691.7l1 1.1M153.7 604l-.1 .9M198.3 684.5l1 .9M226.9 699.3l.7 .1M165.2 686.9l-.7 1M236.6 663.8l.2 .5M200.4 705.2l.3 .9M216 628.7l-.6 .2M205.7 710.4l-0 .6M241.4 624.9l.6 .1M184.8 647.4l.5 .5M212.8 609.9l.3 .6M224.2 645.5l.7 1.2M211.8 709.9l-1.2 .7M186.3 668.4l-.3 .3M137.5 685.3l-1.4 .1" stroke="#4a64ae" stroke-width="3.0" stroke-linecap="round"/><path d="M176.8 693l.2 .1M155.7 624.6l.2 .5M212.2 691.8l-.6 .2M191.2 616.1l.5 .2M213.5 703.7l.2 .3M245 628.4l-.6 .3M200.4 662.9l.6 .3M184.1 681.3l.4 .5" stroke="#5e2e14" stroke-width="4.2" stroke-linecap="round"/><path d="M223.8 671.5l1.2 .7M150.8 668l-1.3 .6M202.7 623l-.3 .3M219.2 671.8l1.2 .9M229.6 631l.7 .4M145.1 607.6l-.3 .7M168.7 612.3l.6 0M237.5 605.3l-.1 1.2M156.2 709.6l1.4 .1M190.8 661.6l-.1 .3M161 686.1l0 .9M241.5 639.9l-.5 .8M203.4 645.7l.6 .5M213.9 642.6l.2 .4M186.4 604.7l-1 .7M174.1 699.3l1.4 .6" stroke="#4a64ae" stroke-width="4.2" stroke-linecap="round"/><path d="M160.7 708.5l-0 .3M179.8 638.6l.1 .7M160.7 680.9l-.4 .4M195.2 664.9l.2 .1M189.7 673.6l-0 .4M201.8 691.3l.1 .2" stroke="#5e2e14" stroke-width="3.6" stroke-linecap="round"/><path d="M152 627.6l.1 .2M233.3 684.9l-.1 .7M213.4 652.4l.4 .6M219 702l-.4 .2" stroke="#6a3618" stroke-width="4.2" stroke-linecap="round"/><path d="M173.5 677.5l-.2 .4M206.3 606.3l-.3 .3M237.3 689.2l-.7 .9M238 699.5l-.9 .1M155.2 702.5l-1.4 .4M141.9 612.6l.4 .1M155.5 688.5l1.3 0M226.5 709.9l-0 .7M190.8 648.1l-1.5 .1M239.1 623.5l.5 .4M196.6 672.8l-0 .3M138.2 643.9l-.7 .8M167.8 693.8l.4 .6M149.1 706.3l.2 .4M213 615.5l-.5 1.4M237.6 671.6l1.1 1.1M187.2 657.8l-.2 .6M206.2 688l-.5 0M143.5 622.9l-.2 .6M202 616.3l.5 .4M146.6 674.6l.6 1.4M140.8 709.3l.4 .5" stroke="#6078b8" stroke-width="3.0" stroke-linecap="round"/><path d="M194.7 621.3l-.2 .9M192.8 635.8l1 .2M167.2 696.1l.8 1.1M170.9 656l-.6 .5M242.2 660.2l-.6 1.4M181.2 652.6l-.7 .2M192.7 698.7l-.5 .4M218.1 640.5l.7 0M156.6 698.2l-1.3 .5M173.1 645.5l-0 .6M203.7 700.1l.4 .4M144.1 682.9l-.5 .5M206.8 668.7l.5 .8M194.9 635.8l0 .4M242.6 694.7l-1.4 .4M207.3 629.7l-.5 .2M229.3 636.4l.5 .2M183.8 705.7l0 1.4M227.9 615.9l0 .4M163 614l.4 1.1" stroke="#4a64ae" stroke-width="3.6" stroke-linecap="round"/><path d="M188.5 690.3l1.2 1M172.5 628.9l.4 .5M201.9 681.3l.4 1.2M144.3 646.1l-.9 .9M162.6 642l.2 .7M221.4 650.5l-.9 1.1M156.7 617.4l.9 .6M197 710.5l-1 .6M201.5 638.5l-.7 .8M236.1 673.4l.1 .3M237.1 633l-0 .4" stroke="#304898" stroke-width="4.2" stroke-linecap="round"/><path d="M142.3 705.1l.2 .4M156.3 653l.3 .6M156.6 669.7l-.2 .2M205.8 619.7l.2 0M165.7 618.4l.2 .1" stroke="#7a4020" stroke-width="3.6" stroke-linecap="round"/><path d="M241.3 674.9l.2 .3M137.7 625.5l0 .7M224.9 624.1l.5 .1M150.6 692l.3 .5M230.1 615.6l.1 .7M206.5 656.7l.1 .2" stroke="#6a3618" stroke-width="4.8" stroke-linecap="round"/><path d="M163.7 698.2l.1 .7M197.6 668l.4 .3M151.9 624.1l.5 .2M213.3 665.4l-.2 .4" stroke="#4e2410" stroke-width="4.8" stroke-linecap="round"/><path d="M194.8 700.4l-0 .2M168.7 682l-.8 .1M196.8 690.9l.5 .2M238.4 656.4l-0 .3" stroke="#7a4020" stroke-width="4.2" stroke-linecap="round"/><ellipse cx="221" cy="615" rx="5" ry="5" fill="#f0f0f2"/></g></g>
<path d="M219.3 704.5H239.3" stroke="#111" stroke-width="1.5"/>
<text x="229.3" y="701.5" font-size="7.8" text-anchor="middle" fill="#111" stroke="#111" stroke-width="0.22">25 µm</text>
<g clip-path="url(#c21)"><g filter="url(#soft)"><rect x="137.6" y="712.2" width="106.2" height="106.6" fill="#dfe1e7"/><path d="M217.4 744.2l-.3 .4M239.9 788.4l-.9 .4M138.9 792l.5 .2M147.7 817.8l.3 .1M231.5 717.8l.9 .2M244 800.3l-.4 .6M191.7 808.7l-.2 .9M171.5 737.5l.2 .7M225.9 740.3l.3 .5M241.1 758.5l.2 .4M163.8 739.4l-.5 .5M139.8 781.4l-.1 .5M158.9 796.6l-.8 .6M236.4 723.6l-.3 .1M155.7 807.5l.8 .6M154.9 744l.2 .6M186.9 745.9l-.6 .1M160.5 809.8l.8 .3M216.4 786.5l.3 .4" stroke="#3a54b0" stroke-width="3.4" stroke-linecap="round"/><path d="M170.9 712.3l.2 .3M140.1 712.7l-.2 .9M236 764.2l.2 .6M200.9 720.3l-.8 .2M180.2 742.5l0 .6M194.3 817.2l-.7 .3M176.5 721.8l-.6 .6M222.8 729.5l.3 .5M167.5 802.9l.3 .9M158.8 728.6l-.4 .6M148.6 781.6l-.5 .3M174.4 817.6l.1 .5M244.7 791.5l-.3 .2M139.4 747.9l-.5 .5M142.9 809.6l.7 .4M183.4 728.1l-.5 .3M199.2 765.7l-.2 .2" stroke="#3a54b0" stroke-width="2.6" stroke-linecap="round"/><path d="M224 785.6l-1 .1M232.4 813.3l.9 .4M238.3 790.9l-.4 .1M180.8 808.1l.1 .2M174.6 806.8l.4 0M237 733.1l.2 .2M223.4 777l-.2 .6M237.5 762.3l-.2 1" stroke="#26389a" stroke-width="2.6" stroke-linecap="round"/><path d="M181.2 817l-.5 .3M197.6 756.5l.2 .5M242.2 774.4l-.8 .5M176.6 747.9l-.5 .1M162.5 791.3l-.2 .8M205.9 721.9l.2 .6M237.2 741.2l.6 .3M142.8 762.1l.7 .1M150.3 801l.3 .3M228.6 722.3l-.2 .7M203.3 797.4l-.2 .1M217.1 738.8l.9 .5M137.7 774.2l-.4 .5M147.9 799.1l-.5 .2" stroke="#1e2e86" stroke-width="3.4" stroke-linecap="round"/><path d="M243.8 739.4l-.5 .3M176.5 801.9l.7 .2M169.2 729.8l-.2 .1M242.3 727l-0 .7M233.6 713.6l-.6 .3M138 809.5l-0 .9M144 734.2l-.7 .2M223.3 723.4l-.6 .3M144 729.1l-.3 .1M191.5 718.9l-.2 .5M143.5 738.3l0 .4M205.8 806.6l-.3 0M184.9 784.8l-.3 .2M142 751l.8 .1M212 734.8l0 .2M204.9 812.3l.3 .3" stroke="#3a54b0" stroke-width="3.0" stroke-linecap="round"/><path d="M212.2 743l-.3 0M149.9 792.8l-.2 .5M222.3 793.3l-0 .4M158.1 734.3l-.8 .5M143.7 814.9l-.3 .3M197.2 790.3l.2 .8M218.4 729.6l.5 .6M139.8 734.5l.2 .1M211.7 813.3l-.9 .2M219.1 733.6l-.7 .4M197.9 758.2l.2 .4M186.4 764.9l.1 .2M204.4 804.4l-.8 .1M204.7 750l.8 .5" stroke="#26389a" stroke-width="3.0" stroke-linecap="round"/><path d="M236.1 782.8l.4 .8M209.8 756.3l-.3 .4M153.7 735.3l-.6 .8M143.6 787.1l.1 .5M233.1 724.7l.1 .5M136.5 722.9l.9 .3M231.8 749.1l-.3 .3M216.2 797.4l-0 .2M225.5 774.6l-.7 .3M231.1 778.1l1 .3M187.3 720.1l-.4 .6" stroke="#2e46a8" stroke-width="2.6" stroke-linecap="round"/><path d="M171.5 732.5l-.7 0M137.9 739.5l.6 .4M200.8 814.1l-.1 .7M236.3 771.3l-.2 .1M236.3 807.9l-.5 .1M211.3 727.2l.1 .5M166.3 726.6l.6 .1M212.7 719.6l-.6 .3M184.9 770.6l.3 .1M223 714.6l.6 .1" stroke="#26389a" stroke-width="3.4" stroke-linecap="round"/><path d="M176 714.6l.6 .5M199 805.6l.3 .5M241.9 733.5l-.6 0M158.3 745.8l-.2 .2M175.1 744.7l-.3 .1M201.6 755.9l-.6 .7M143.3 801.6l.2 .4M229.4 735.2l.6 .4M210.3 738.1l-.4 .9M209.7 816.8l.7 .4M236.9 712.4l-.7 .2M220.6 744.8l.6 .1M140.2 814.5l-.6 .1M159.9 813.7l.7 .3" stroke="#2e46a8" stroke-width="3.0" stroke-linecap="round"/><path d="M190 712.4l-.5 .2M234.5 793.2l-.2 .4M157.9 803.7l.2 .8M234.6 809.7l-0 .9M199.6 758.7l-.3 .2M187.4 801l-.2 .3M210.7 793.2l.5 .4M185 776.7l.5 .7M192 819.2l-.9 .3M189 754l.4 .4M216.5 806.4l-.1 .8M138.3 766.6l-.1 .3M215 818.1l0 .6M200.2 792.3l-.2 .1" stroke="#1e2e86" stroke-width="3.0" stroke-linecap="round"/><path d="M234.8 787.7l.3 .5M167.8 819l-.1 .6M179.5 728.6l-.2 .2M201.2 714l.3 .3M207.7 718.6l-.8 .3M226.4 717.9l-0 .3M143.3 798.6l.1 .5M239.5 798.3l.5 .7M206.8 769.1l.8 .5M138.6 819.4l.3 .1M216.8 802.5l.1 .6M207.7 711.1l-.5 .2M192.8 765.1l.4 .4" stroke="#1e2e86" stroke-width="2.6" stroke-linecap="round"/><path d="M169.6 722.8l-0 .5M234.8 780.8l.4 .3M232.7 802.2l-.5 .2M243.5 786.5l-.2 .3M184.9 792l-.5 .2M192.2 792.4l.4 .1" stroke="#5e2e14" stroke-width="3.2" stroke-linecap="round"/><path d="M194.4 766.7l.1 .8M212.1 787.4l.6 0M168.8 786.8l0 .6M192.2 770.1l.4 .4M184.2 721.9l.4 .3M242.3 767.6l.3 .2M243 715l0 .7M243.2 817.8l-0 .9M148.3 770.2l-.2 .8M223.8 780.1l-.2 .3M179.2 812.1l.2 .3M138 786.2l.3 .7M146.5 754.7l-.8 .1M166.3 812.4l-.6 .7M144.1 790.4l.1 .4M222.7 799l.1 .6M157.4 818.8l-.5 .7M149.6 767l-.4 .3M212.4 765.3l.6 .5M237 817.5l.3 .1M183.3 816l-.2 .1M144.2 780l.6 .1M213 806.4l-.5 .5M218.6 789.8l-.1 .7M189.1 787l.2 .1" stroke="#2e46a8" stroke-width="3.4" stroke-linecap="round"/><path d="M139.2 797.1l-.3 .4M183.8 812.1l-.1 .2M148.4 740.4l.1 .2M155.9 811.4l-.4 0M204.2 792.4l.3 .5" stroke="#4e2410" stroke-width="3.8" stroke-linecap="round"/><path d="M183.9 740.6l-.2 .1M230.5 795.9l-.2 .2" stroke="#5e2e14" stroke-width="3.8" stroke-linecap="round"/><path d="M211.1 711.5l0 .1M227.5 801.1l.3 .1" stroke="#3e1c0a" stroke-width="3.2" stroke-linecap="round"/><path d="M194.6 794.9l.3 .1M173.9 738.5l-.3 .1M243.6 744.5l.2 .4" stroke="#4e2410" stroke-width="3.2" stroke-linecap="round"/><ellipse cx="155" cy="717" rx="12" ry="11" fill="#f0f0f2"/><ellipse cx="196" cy="736.2" rx="12" ry="11.5" fill="#f0f0f2"/><ellipse cx="167.8" cy="766.2" rx="17" ry="19" fill="#f0f0f2"/><ellipse cx="224.5" cy="759.9" rx="11.5" ry="12.5" fill="#f0f0f2"/><ellipse cx="200.9" cy="778.8" rx="11" ry="9.5" fill="#f0f0f2"/></g></g>
<path d="M219.3 812.5H239.3" stroke="#111" stroke-width="1.5"/>
<text x="229.3" y="809.5" font-size="7.8" text-anchor="middle" fill="#111" stroke="#111" stroke-width="0.22">25 µm</text>
<g clip-path="url(#c02)"><g filter="url(#soft)"><rect x="245.2" y="497" width="106.7" height="106.6" fill="#d2cec9"/><path d="M270.8 588.3h0M258.3 513.8h0M328.5 558.7h0M272.4 521.8h0M276.4 498.9h0M309.3 577.2h0M292.1 560.7h0M307 570.8h0M244.3 554.4h0M338 576.8h0M281.8 575.8h0M329.7 531.6h0M302.4 529.3h0M312.5 531.3h0M298.1 524.5h0M301.2 576.2h0M244.6 573h0M341 544.6h0" stroke="#c9bcae" stroke-width="3.5" stroke-linecap="round"/><path d="M285.7 572h0M285.9 529h0M246.7 597.4h0M271.4 511h0M330.9 544.6h0M310.3 524.5h0M302.9 524.1h0M267.7 543.3h0M352.4 542.8h0M253.5 536.5h0M348.1 504.8h0M337.6 587.2h0M353.8 589.5h0M263.9 505.4h0M350.4 599.9h0M255.6 569.6h0M298.9 601.2h0M300 513.4h0" stroke="#cbc5bd" stroke-width="2.5" stroke-linecap="round"/><path d="M292.1 500.2h0M318.4 596.7h0M281.2 559.8h0M333.6 557h0M341.7 509.7h0M328.1 528.3h0M301 559.9h0M349.5 536.9h0M260.3 531.6h0M306.6 510.5h0M279.5 598.6h0M274.8 554.3h0M256.7 591.9h0M289.4 584.2h0M299.6 586.5h0M352.7 519.4h0" stroke="#c9bcae" stroke-width="2.5" stroke-linecap="round"/><path d="M300.2 525.1h0M341.8 579.5h0M293.9 555h0M261.8 573.2h0M295.5 576.4h0M270.4 548h0M270.1 603.7h0M297.1 563.8h0M344.9 558.9h0M347.8 558.3h0M344.5 593.6h0M340.6 523.1h0M256.2 502.6h0M307.8 501.2h0M327.2 549.3h0M275.7 544.2h0M293.9 527.1h0M323 502.6h0" stroke="#e4e1dd" stroke-width="2.5" stroke-linecap="round"/><path d="M262.3 551.3h0M307.2 570.2h0M286 511.2h0M288.8 562.6h0M304.4 580.9h0M270.3 511h0M244.3 533.7h0M295.6 540.1h0M343.9 555.4h0M266.9 547.6h0M347 544.9h0M333.7 593.3h0M262.1 513.5h0M251.8 527.3h0" stroke="#cbc5bd" stroke-width="3.5" stroke-linecap="round"/><path d="M301.4 549.3h0M338.5 564.4h0M338.6 510.2h0M269.9 578.1h0M273.1 505.5h0M323.6 580.4h0M324 562.7h0M258.1 556.6h0M330.1 520.5h0M273 597.9h0M243.8 594h0M299.3 533.2h0M330.7 529.4h0M339.4 591.8h0M272 549.5h0M255.2 584.5h0" stroke="#e4e1dd" stroke-width="3.5" stroke-linecap="round"/><path d="M306.3 549.9l-.6 .1M250.3 548.1l.9 .5M255.1 589.5l-.4 .7M307.3 502.3l.3 .4M343.2 528.3l.1 .3M265.7 569.1l-.8 0M259.5 513.7l-.2 .5M300.9 497.9l.3 .2M286.2 584.7l.5 0M348.7 536.4l-.5 .5M279.7 538.4l-.6 .8M246.6 509.5l-.3 .1M270.3 516.9l-.9 .3M270.2 602.5l-.2 .3M279 583.9l.1 .4" stroke="#9cb0d2" stroke-width="4.6" stroke-linecap="round"/><path d="M271.3 531.2l-.1 .7M310.8 521.6l.5 .2M290.2 500.2l-.4 .8M290.8 601.9l-.2 .1M312.5 500.2l.3 .3M284.6 569.8l.7 .6M330.2 539.6l0 .6M346.6 587.8l.2 .4M265.3 510.6l.3 .4M285.7 509.9l-.5 .6M280.4 529.9l-.6 .1M291.7 598.5l-.3 1.1M307.1 597.4l-.5 .1M283 502.6l.5 .4M303.1 499.3l-.5 .1M255.4 529.5l-.7 .6M330.2 572.4l-.1 .5M318.2 548.2l-.3 .3" stroke="#7f97c2" stroke-width="4.0" stroke-linecap="round"/><path d="M308.9 565.3l.8 0M267.1 495.9l-.1 .3M247.5 600.3l.6 .1M266.5 515.2l-.8 .2M246.2 516.8l-.4 .6M296.9 544.7l-.6 .1M267.8 503.1l-.6 .6M329.1 565.4l-.3 .2M317.5 518.4l-.6 .2M338.3 522.8l.3 0" stroke="#7f97c2" stroke-width="5.2" stroke-linecap="round"/><path d="M346 565.7l-.4 .3M324.7 505.5l-.3 .2M284.5 561.4l.1 .9M272.9 550.6l.3 .7M253.1 577.5l-.8 .3M311.9 558.8l.8 .5M285.8 542.3l.3 .1M261.2 529.3l-.2 .2M300.1 563.4l.3 .3M343.3 542l-.7 .7M271.3 564.6l.5 .2M330.5 583.8l0 .4M269.9 536.8l-.6 .9M258.8 576.1l-.4 .4M297.6 504.4l-1 .4M257.7 584l-.3 .1M337.2 596.2l.5 1M323.3 603.9l-.2 .5" stroke="#9cb0d2" stroke-width="4.0" stroke-linecap="round"/><path d="M245.7 567.3l.3 .6M286.7 555.5l.5 .8M291.4 516.8l-.2 .3M346.9 593.6l0 1M282.9 531.5l-.2 .9M326 545l-.2 .3M335.2 562.3l-.7 .9M316.6 569l-.3 .7M345.7 554.3l-.5 .2M243.9 588.4l.9 .3M297.8 567.6l.8 .2M298.9 548.9l.3 .1M328.8 520.1l-1 .2M291.1 563.1l0 .7M276.3 545.7l.9 .3M303.3 570.6l-.7 0M304.9 582.8l.9 .1M272.2 590.5l1 .1M344.9 536.8l.5 .2M320.5 542.2l-1 .3" stroke="#8ea4ca" stroke-width="4.6" stroke-linecap="round"/><path d="M315.4 496.7l.4 .7M327.2 558.7l.2 .7M310.7 545.6l-.2 .4M266.6 584.1l-.5 .6M278.6 503.8l0 .3M350.5 513.2l-.2 .6M253.7 603.8l.1 .4M352.1 519.8l-.6 .3M306.8 576.7l-.3 .7M346.1 524.5l-1.1 .1M333.7 595.8l-.1 .3M297.3 590.8l.2 .4M281.2 565.8l1 .1M243.9 561.1l.4 0M314.2 604.8l-1.1 .6M323.9 597.7l.8 .6M343.2 576l-.1 .3" stroke="#a9bad6" stroke-width="5.2" stroke-linecap="round"/><path d="M339.3 550.9l.8 0M289.6 525.1l.3 .2M286.5 500.2l-.6 .1M325.8 526.7l.3 .1M251.7 506l.6 0M277.4 590.4l-.6 1M352.6 563.7l.4 1M322.1 581.2l.7 .2M342.1 512l-0 .7M339.4 539.3l.1 .7M336.4 499.1l-.5 .1M276.3 569.1l-.3 .1M297.5 515.7l-.7 .1" stroke="#7f97c2" stroke-width="4.6" stroke-linecap="round"/><path d="M257.6 600.6l-.2 .6M339.8 600.2l.1 .6M350.4 589.3l.1 .3M286.6 539.5l.4 1M288.3 578.8l1 .2M268.7 547.7l-.1 .4M291.7 545.6l-.4 .2M306 601.1l-.5 .9M275.2 526.2l-.4 .5M313.1 512.1l.1 .5M328.6 587.9l.2 .5M298 539.7l-.4 .3M247.6 538.5l.3 .4M346.3 515.2l-.6 .6" stroke="#a9bad6" stroke-width="4.0" stroke-linecap="round"/><path d="M276.8 500.1l.9 .8M271.6 506.7l-.4 .3M339.5 556.8l-1 .3M319.9 577.8l-1 .2M273.5 513l.8 0M297.8 533l-.4 .6M265.9 541.6l.7 .5M285.5 551.3l-.3 .9M291.5 551.7l.7 0M317.6 539.2l.1 1M261.9 536.2l-.2 .7M302.4 562.8l.2 .3M312.5 551.3l.1 .9M332.7 552.8l.2 .4" stroke="#8ea4ca" stroke-width="5.2" stroke-linecap="round"/><path d="M284.5 596.7l.4 .1M323.3 509.7l1 .4M341.9 503.2l.4 .4M312.5 535.9l.7 .2M246.4 532.6l-.1 .5M245.1 557.6l-0 .3M260.1 572l.2 .2M318.8 600.5l-.6 .7M292.1 584.8l-.4 0M322.5 576.1l-.4 .3M274.7 556.6l.8 .5M276.7 577.3l.1 .3M257.5 543.5l.6 1M315.7 584.2l-.8 .7M271.1 572.3l-.6 .3M279.6 517.3l-0 1M254.4 594.2l-.7 .4M247.1 581.4l.1 .3M348.7 505.9l-.8 .4M348 593.6l0 .5M246 543.1l-.8 .8M339.5 506.8l-.6 .2" stroke="#9cb0d2" stroke-width="5.2" stroke-linecap="round"/><path d="M244.3 576.2l.4 .2M339.2 515.2l-.2 1.1M326.2 520.2l.7 .4M352.5 603.7l-.9 .6M261 519.5l-.4 .4M310.2 503.2l-.5 .4M254.5 525.6l-.4 .3M349.4 523.1l-.4 .5M330.7 542.6l-0 1" stroke="#8ea4ca" stroke-width="4.0" stroke-linecap="round"/><path d="M244.3 597.7l-.6 1M337 542.3l-.4 .5M259.6 596.2l.4 .4M322.4 590.2l-.9 .5M287 520l-.8 .6M258.3 564.3l.9 .8M309.5 516.8l.8 .7M252.7 496.9l.4 .5M286.4 589.4l-.3 .3M313.4 571.6l-.2 .9M318.5 531.9l.1 1.1M292.5 569.4l.5 .2M255.2 585.2l.6 .6" stroke="#a9bad6" stroke-width="4.6" stroke-linecap="round"/><path d="M303.7 590.3l-.9 .1M344.3 580.3l-.3 .5M322.5 567.5l.1 .4" stroke="#8e5428" stroke-width="3.6" stroke-linecap="round"/></g></g>
<path d="M327.4 597.3H347.4" stroke="#111" stroke-width="1.5"/>
<text x="337.4" y="594.3" font-size="7.8" text-anchor="middle" fill="#111" stroke="#111" stroke-width="0.22">25 µm</text>
<g clip-path="url(#c12)"><g filter="url(#soft)"><rect x="245.2" y="604.9" width="106.7" height="105.9" fill="#d1ccc6"/><path d="M312.4 629.1h0M341.4 644.4h0M346.8 664.4h0M309.9 614.9h0M275.7 684.3h0M312.8 672.9h0M248.6 629.5h0M246.2 673h0M247.9 646.7h0M261.2 681.1h0M264.6 677.7h0M345.1 647.8h0M338.3 680.7h0M272.1 694.6h0M263.5 630.6h0M330.6 652.2h0M266.9 661.8h0" stroke="#e4e1dd" stroke-width="2.5" stroke-linecap="round"/><path d="M292.4 639.9h0M273.9 673.6h0M318.1 619.9h0M313.8 668h0M344 657.7h0M282 649.9h0M346.2 608h0M289.3 620.4h0M265.8 644.3h0M280 676.8h0M312 684.8h0M302.1 606.3h0M307 678.4h0M329.7 687.1h0" stroke="#e4e1dd" stroke-width="3.5" stroke-linecap="round"/><path d="M347.3 648.2h0M244.8 607h0M270 622.4h0M281.7 661.7h0M278.6 685.8h0M265.2 616h0M348.4 696.1h0M285.6 653.4h0M350.9 609.4h0M349.1 693.2h0M330.2 626.2h0M300.9 693.6h0M247.9 607.7h0M247 675.3h0M318.3 606.2h0M276.1 654.1h0M339 667.7h0" stroke="#cbc5bd" stroke-width="2.5" stroke-linecap="round"/><path d="M313.2 607.9h0M300.3 699.1h0M313.9 707.7h0M271.9 626.2h0M265.8 696.9h0M329.1 703.4h0M261.5 613.4h0M343.6 699.2h0M266.8 676.6h0M323.2 680.9h0M310.1 696.8h0M268.3 699.3h0M347.2 711.5h0M337.2 670.7h0M303.1 683.3h0M312.3 707.3h0M308.4 632.3h0M272 640.9h0" stroke="#c9bcae" stroke-width="3.5" stroke-linecap="round"/><path d="M266.3 629.7h0M289.1 669.9h0M348.1 660.8h0M253.9 635.9h0M245.4 700.7h0M283.6 639.5h0M297.2 603.2h0M318 692.1h0M350.3 603.9h0M323 700.4h0M326 665.8h0M316.3 631.4h0M344.4 699.7h0M317.8 636.5h0M323.6 608.9h0M352.9 630.6h0M273.9 674.9h0" stroke="#c9bcae" stroke-width="2.5" stroke-linecap="round"/><path d="M300.7 651.6h0M322.3 647.2h0M295.1 620.9h0M304.2 665.4h0M353.8 623.5h0M317.1 619.3h0M337.7 622h0M269.3 692h0M321.1 634.1h0M283 616h0M262.3 603.4h0M264.7 635.3h0M336.2 625.7h0M315.4 639.3h0M344.7 709.9h0M264.8 620.1h0M259.6 606.3h0" stroke="#cbc5bd" stroke-width="3.5" stroke-linecap="round"/><path d="M310.5 605.7l-.5 .2M342 616.8l-0 .7M312.6 627.6l.1 .8M349.4 686.2l.5 .7M291.9 708.9l-.9 .7M323.7 637.2l.8 0M310.2 646.8l.4 .8M287.4 644.5l-.5 .1M326 624.6l.7 .5M264.5 606.8l.1 .4" stroke="#7e96bf" stroke-width="4.6" stroke-linecap="round"/><path d="M326.8 690.1l-.7 .7M291.9 659.4l-.5 .9M322 659.2l.3 1M336 644.4l-1.1 .1M263.7 711.7l-.2 .4M301 673.1l0 .4M320.5 672.1l.9 .1M267.5 663.9l1.1 .4M260.4 662.8l-.3 .3M326.8 642.8l-.2 .9M295.9 626.7l.5 .7M323.6 696.9l-.5 .7" stroke="#a6b7d2" stroke-width="4.0" stroke-linecap="round"/><path d="M327 704.4l.1 .3M267.5 633.9l-.4 .1M312.1 636.3l-.6 .8M246 613.1l-.3 .1M280.3 664.6l-.4 .5M279.8 704.4l.1 .3M288 665.8l.5 .7M309.1 678.8l-.6 1M296.5 682.7l-.7 .5M350.2 633.4l.1 .7M248.6 684.7l.2 .3M270 623.3l-.3 1M304.7 698.4l.9 .1M290.7 687.9l-.7 .5M343.1 703.6l.4 1M313.6 657.2l-.2 .5M257 653.6l1 0M338.6 638l-.3 .1" stroke="#9aaecf" stroke-width="4.6" stroke-linecap="round"/><path d="M286.5 682.5l-.4 .3M312.5 695.7l-.2 .2M267.2 705.7l-0 .7M293.4 685.7l-.3 .5M333.6 652.7l.3 0M312.4 685.8l-0 .6M296.5 697.1l-.7 .3M290.8 624.2l0 .8M306.1 705.7l.1 .4M349.9 605.3l-.7 .2M344.6 647.4l.1 .6M305.1 644.8l.6 .2M350.9 671.6l-.3 .1" stroke="#a6b7d2" stroke-width="4.6" stroke-linecap="round"/><path d="M315.4 652.4l-.4 .9M274.6 632.8l.8 .6M314.1 689.4l.6 0M332.4 638.7l-.4 .3M257.1 694.3l1.1 0M271.2 700.6l.8 .4M353.1 679.1l-.2 .7M335.5 613.6l.2 .2M346.5 651.5l0 .7M252 678.3l-.7 0M285.3 702.9l-1.2 .3M349.5 695.6l.5 .3M248 641.1l.1 .8M289.5 676.2l-.6 .4M310 663.3l1.1 0M296.8 710l-.5 .3M329 691.3l-.1 .7M350.7 702.8l.7 .1M264.7 673.2l-0 .5M311.5 708l-.1 .9" stroke="#9aaecf" stroke-width="4.0" stroke-linecap="round"/><path d="M258.6 621.2l.1 .5M277 633.3l.6 .9M259.9 673.4l-.6 .5M244.6 692.6l.6 .7M305.9 626.4l-.4 .2M333 671.3l-.6 .1M346.7 665.4l-1.2 .3M345.7 629.8l-.8 .7M342.8 668.6l-.6 .6M319.3 689l-.9 .6M314.1 651.9l-.8 .7M325.8 676.5l.8 .2M263.3 647.5l.7 .4M268.4 675.6l1.1 0M270.2 607.7l1 .4M250.9 649l-.6 1M257.6 700.8l-.5 .3" stroke="#8ca2c6" stroke-width="5.2" stroke-linecap="round"/><path d="M285.2 612l-.4 .5M331.9 605.3l-0 1.1M287.9 626.3l.1 .6M315.8 611l.1 .2M290.8 643.6l-.4 .3M247.1 627.4l-1 .4M343.2 676.3l-.7 .4M278.1 624.1l.4 .3M248.2 618.9l.7 0M245.9 629.6l.6 .9M281 653.6l0 .5M339.4 707l-.4 1M316.9 637.7l-.1 .7M350.4 709.1l-.2 .4M300.2 637.9l-.3 .6M325.3 710.9l-.1 .3M293.8 662.6l-.7 .8" stroke="#9aaecf" stroke-width="5.2" stroke-linecap="round"/><path d="M336.6 633.5l-.6 .2M274.4 655.3l-.2 1M248.7 655.7l.6 .6M244.1 662.8l-.4 .4M279.2 611.5l-.7 .3M352.2 692.3l-.7 .3M306.7 676.7l.2 .5M294.5 649.8l0 .6M253.7 606.2l.8 .8M332.6 655.6l-.5 0M251.8 683.4l.7 .8M317.1 624.3l.6 .3" stroke="#7e96bf" stroke-width="5.2" stroke-linecap="round"/><path d="M326.6 619.9l.4 .2M337.2 669.3l-.1 .8M322.4 607.2l.3 .6M296.3 612.4l-.3 0M351.9 610.7l-1 .2M251.1 630.6l-.1 .5M248.2 678.1l.2 .2M336.9 656.6l-.4 .4M339.8 694.8l.1 .3M352.7 643.9l.5 .2M290.9 605.8l-0 1M338.1 652.9l.4 .9M250.9 663.7l1.1 .3M251.7 625.5l-.4 .1" stroke="#8ca2c6" stroke-width="4.0" stroke-linecap="round"/><path d="M332 610.5l-.3 1M266.8 653.6l.2 .5M285.3 633.8l.9 .6M345.6 639.1l0 .4M303.1 689.1l.5 .2M305.1 638.7l.2 .3M279 711.3l-.4 .4M295.8 631.6l-.5 .6M344.4 626.6l.7 .1M244.6 699.2l.5 .2M265.2 639.3l-.5 .3M244.7 652.9l-.3 .8M251.8 689.6l.8 .6" stroke="#7e96bf" stroke-width="4.0" stroke-linecap="round"/><path d="M305.8 658.6l.8 .4M250.6 709.9l.6 .3M246.6 669l.5 .2M251.1 701.4l-.2 .5M290.8 639.2l-.4 .5M259.5 676.2l-.3 .3M286.2 695.2l-.1 1M251.4 609.9l-.3 .7M298.6 679.7l-.2 .4M270.7 687.5l.4 .6M306.2 651.6l0 .7M306.2 620.2l.3 .3M333.6 662.7l-.6 .2M310.3 616.4l.8 .5M276.4 638.1l.6 .2M286.9 657l.2 .7M348.4 653l-.2 1M291.1 672.3l-.2 .1M257.6 688.7l.4 0M338.7 622.9l.4 .2M264 697.6l.7 .5M286.7 639.2l1 .6M292.9 705.3l.3 1.1M333.2 623l-.4 .3M247.3 644.1l.5 1M270.9 669.8l-.4 .6M252.9 643.9l.7 .1" stroke="#8ca2c6" stroke-width="4.6" stroke-linecap="round"/><path d="M348.7 618.5l.2 .8M299.6 664.2l.2 .3M266.3 624.8l-.3 .2M263.7 656.8l-0 1.1M330.7 675.4l.4 .1M322.6 653.3l1 .1M303.4 662.8l.6 .5M315.9 664.7l-.2 .9M297.6 659.8l-.4 .6M251.2 638.2l.2 .9M288 677.4l-.4 .6M344.8 696.4l.3 .1M301 642.6l.5 .5M264.2 685.3l.3 .7M339.7 692l.2 .7M338.8 665.3l-1 .2M246.2 712.1l-.4 .2M261 607.9l.7 .7" stroke="#a6b7d2" stroke-width="5.2" stroke-linecap="round"/><path d="M350.3 664.9l-.7 .4M277.7 691.1l-.2 .3M253.5 621.2l.6 .7M272.6 683.3l-.3 .2" stroke="#8e5428" stroke-width="3.8" stroke-linecap="round"/><g fill="#b89878" stroke="#84461c" stroke-width="1.1"><circle cx="273.8" cy="614.2" r="2.4"/><circle cx="295.3" cy="692.5" r="2.1"/><circle cx="319.7" cy="663.6" r="1.8"/><circle cx="301.5" cy="622.3" r="2.5"/></g></g></g>
<path d="M327.4 704.5H347.4" stroke="#111" stroke-width="1.5"/>
<text x="337.4" y="701.5" font-size="7.8" text-anchor="middle" fill="#111" stroke="#111" stroke-width="0.22">25 µm</text>
<g clip-path="url(#c22)"><g filter="url(#soft)"><rect x="245.2" y="712.2" width="106.7" height="106.6" fill="#cfc6bc"/><path d="M257.6 728.3h0M295.6 820.3h0M293.2 714.5h0M320.1 795h0M263.1 758.9h0M267.9 786.6h0M345.8 748.3h0M256.8 734.1h0M252.3 734.4h0M285.3 733.7h0M261.6 794.5h0M298.4 744.8h0M287.7 772.3h0M246.4 732.8h0M333.2 790h0M249.7 749.7h0M279.6 761.8h0M296.3 735.8h0M338.8 718.9h0M335.7 741.9h0M318.4 768.4h0" stroke="#c9bcae" stroke-width="2.5" stroke-linecap="round"/><path d="M258.1 792.1h0M249 799.7h0M351.5 752.5h0M285.6 748h0M332.4 747.5h0M263.1 815.4h0M255.9 791.5h0M346.2 767.8h0M337.2 737.8h0M280.1 781.8h0M292.2 735.2h0M278.8 756.1h0M313.7 753.9h0M292.6 720.1h0" stroke="#e4e1dd" stroke-width="2.5" stroke-linecap="round"/><path d="M322.5 720h0M348.5 736.9h0M267 813.8h0M329.8 820h0M345.2 748.5h0M306.8 722.4h0M334.2 811.4h0M283.3 740.4h0M309.7 732.1h0M267 746h0M312.9 735h0M317.9 765.6h0M307.6 775.6h0M291 721.4h0M303.7 726.9h0M336 809.6h0M270.7 799.1h0" stroke="#c9bcae" stroke-width="3.5" stroke-linecap="round"/><path d="M343.5 808.5h0M288.8 805.7h0M286.6 710.8h0M298.1 779.7h0M340 774.1h0M295.2 788.8h0M284.2 777.6h0M283.8 817.3h0M286 744.9h0M326.5 790.4h0M250.7 741.1h0M334.8 742.1h0M246.1 776.5h0M310.4 728.2h0M288.1 747.5h0M290.4 763.1h0M308.8 729.5h0M256.2 786.7h0" stroke="#cbc5bd" stroke-width="2.5" stroke-linecap="round"/><path d="M316.8 811.1h0M286.4 739.1h0M255.3 814.7h0M337.8 752.5h0M275.2 819.3h0M308.9 744.4h0M338.5 812.9h0M245.3 773.5h0M263.1 797.3h0M317.2 808.4h0M291.3 752.7h0M282.9 758.1h0M249.4 775.6h0M300.6 770.1h0M335 785.4h0M294.5 745.4h0" stroke="#e4e1dd" stroke-width="3.5" stroke-linecap="round"/><path d="M339.6 787h0M300.5 752.3h0M288.6 791.5h0M308 776h0M349.4 767.3h0M332.8 777h0M287.9 765.2h0M284.9 794h0M286.1 717.8h0M325.7 763.8h0" stroke="#cbc5bd" stroke-width="3.5" stroke-linecap="round"/><path d="M288.3 753.1l.4 .9M251.1 757.6l.3 .8" stroke="#6a3618" stroke-width="4.6" stroke-linecap="round"/><path d="M350.1 773.9l-.2 .1M292.7 754.9l.3 .1M257.2 792.3l-.7 .3M330.7 727.5l.6 .5M244.5 777.8l.4 0M278.4 754l1.1 .3M265.8 751.1l.6 .9M335.2 721.6l1.1 0M286.1 741.2l.7 .4M315.5 764.9l-.4 .4M307.1 815.4l.4 .4M274.9 776.3l-.2 .7M264.7 809.5l1.1 .1M319.6 798.7l.6 .5M247 722.5l1.1 .2M339.7 714.1l-.4 .5M264.6 780.7l-.6 .7M333.2 742l-.5 .4M343 810l-.2 .7M346.1 782.4l.2 .1" stroke="#8298bc" stroke-width="4.0" stroke-linecap="round"/><path d="M333.8 747.9l-.1 .3M252.8 816.8l-1.1 .4M326.7 813.2l1.1 0M352.5 794.2l.3 1M253.1 799.5l0 .3M349.6 784.5l.6 .8M272.7 798.5l.2 1.1M319.7 754.9l.1 .7M339.1 819l0 .9M345.6 734.6l-.2 .9M253.4 717.4l-.1 .2M261.2 797.1l-0 .4M303.5 806.4l-.3 .5M271.4 753l-.1 .2M269.9 802.8l-.2 .5M340.2 772.7l-.7 .3M266.4 792.3l-.5 .2M292.4 801.8l.1 .7M348.6 758.5l.9 .2M343.2 791.1l-.5 .6M313.9 787.3l.8 .8M258.1 727.2l0 .3M297.9 804.7l-.3 1.1" stroke="#7a8eb4" stroke-width="4.6" stroke-linecap="round"/><path d="M322.2 770.8l-.4 .6M294.5 778.3l-.7 .2M318.4 745.9l.1 .4M322.7 804l.7 .2M344.8 778.5l.5 .8M333.3 773.3l0 .3M342 740.1l.3 .9M293.2 809.8l.5 .2M291.2 794.1l.5 .2M247.4 766.9l.7 .5M253.7 728.4l.2 1.1M343.2 758.7l-.3 .6M257.5 803.1l.9 .4M332.2 732.5l.6 .2M293.1 820.1l.2 .2M265.7 807l-.2 .5M332.6 800.5l-0 1.1M299.2 726.8l-.1 .8M331.2 712.9l.6 .5M315.8 787.6l-0 .5" stroke="#a0b0c8" stroke-width="4.0" stroke-linecap="round"/><path d="M348.4 748.4l.6 1M284 810l-.2 .8M258.1 720.2l-0 .3M312.3 771.4l-0 .4M260 817.1l.3 .4M268.7 768.1l-.4 .1M251.2 750.6l-.4 .5M335.3 726.6l.4 .4M265.9 743.8l.1 .6M278 791.7l-.2 .5M329.4 779l-.2 .4M304.9 771.7l.7 .5M345.3 745.5l-.4 .1M298.5 774.4l-.5 .1M283.7 779.9l.1 1.1" stroke="#7a8eb4" stroke-width="5.2" stroke-linecap="round"/><path d="M323 748.1l.3 .4M309.1 744.2l-.6 .6" stroke="#7a4220" stroke-width="4.6" stroke-linecap="round"/><path d="M322.4 731.3l-.1 .4M314.2 789.1l-.3 .4M288.3 802.1l-.6 .4M251.9 807.2l-.1 .8M272.9 770.5l-.6 .9M279.2 721.2l.3 .5M245.5 740.4l-.3 0M267 798.5l-.1 .9M257.4 767.6l-.1 .8M253.7 782.4l.3 .1M257.8 731.9l-0 .5" stroke="#90a4c4" stroke-width="4.6" stroke-linecap="round"/><path d="M349 804.9l0 .7M348.7 715.2l.6 .8M260.1 756.9l.2 .3M316.2 818.5l-.9 .6M255.1 764l-1 .5M322.4 725l.3 .4M345 753.7l.3 .6M317.8 808.8l.7 .1M270.4 720.6l-.2 1.2M278.6 805.3l.3 .1M311.4 710.9l-.4 .9M323 741.3l-0 .3M248.7 757.8l.1 .3" stroke="#8298bc" stroke-width="4.6" stroke-linecap="round"/><path d="M293.8 718.4l.5 .4M287.4 793.4l.4 0M283.1 711.1l.8 .3M300.3 799.4l.1 .9M261.9 812.2l.3 .3M287.3 745.1l0 .7M255.6 809.6l-.7 1M296.5 731.8l.2 .5M300.3 815.3l-1 .1M260.5 739.9l-.2 .6M327.1 712.8l-.5 .8M257.1 786.7l.3 .3M294.3 785.8l-.1 .4M293.6 738.1l.3 .2M349.9 719.2l.2 .8" stroke="#a0b0c8" stroke-width="4.6" stroke-linecap="round"/><path d="M273.6 766.6l-.9 .8M300 719l-.2 .4M310.1 731.8l-.2 .8M340.3 810.3l.4 .8M305.3 737l.8 .7M273.7 711.3l.6 .4M277.3 819.5l-0 1M302.8 790.5l-.2 .1M336.1 735l.5 .3M278.4 714.7l0 .3M296.1 781.2l.3 .9M271.4 809.4l.4 .4M319.8 791.4l1 .2M331.7 785.2l-1 .5M268.3 733.5l.1 .5M261.8 772.2l.1 .8M250.7 714.4l-.1 .6M325.1 785.3l-.2 .1" stroke="#a0b0c8" stroke-width="5.2" stroke-linecap="round"/><path d="M316.2 736.8l.2 .2M271.8 785.6l-.7 0M290.5 762.8l.2 .4M336.8 739.6l-.4 .3M245.9 750.4l.7 .3M339 792.1l.3 .8M265.3 784l-.3 .2M322.3 797l-.6 .5M310.8 797.4l.2 .6M267.1 713l.8 .5M344.8 796.7l.7 .6M349.1 751.6l-.2 .6M300.2 785.8l.4 .2M254.1 793.4l.4 .6M278.1 760.6l-.4 1.1M289.6 733.9l0 .3M253.9 734.6l.5 .3M247.9 715.6l.2 .3M303.2 811.5l-.3 .4M348.4 766.5l.5 .7M351.6 738.2l-.1 .7" stroke="#90a4c4" stroke-width="4.0" stroke-linecap="round"/><path d="M309.6 741.4l.3 .1M317.6 806.8l.4 .5M302.5 777.8l-.2 .8M332.6 817.3l-.3 .6M287.7 817.5l.3 .4M245.3 817.4l-.7 .9M290.9 760.2l-.5 .4M311.5 720.6l-.5 .7M336.7 768l.4 0M283 764.7l.1 .7M339 775.8l-.3 0M274.6 727.2l.6 .8M297.4 740.2l.3 .2M324.3 778.1l.2 .1M319.7 720.1l-.1 .4M311.1 803.2l-.9 .3M337.5 799.9l-.2 .2M346.6 815.6l-.4 .2M315.6 714.9l.4 .2M326.3 793.5l-.4 .7M281.3 743.8l.6 0M330.6 756.8l.4 .3" stroke="#8298bc" stroke-width="5.2" stroke-linecap="round"/><path d="M281.5 763.2l-.5 .5M338.4 745.6l-.1 .5M254.2 748.2l-.2 .7M307.3 731.6l-.6 .3M320.2 759.1l.5 0M281.4 734l-.9 .3M348.3 734.7l-.2 .4M254.3 741.9l-.7 .8M255.7 777l.1 .9M300.9 812l.3 .6M265.7 737.3l-.1 1.1M335.8 761.3l.4 0M310.7 781.2l.7 .4M346.4 773.6l.2 .6M315.9 732.1l.7 .6M353.2 810.9l.6 .6M290.8 748.7l1 .6M278.3 781l-.6 .3M300.7 753.7l.7 .4M322.8 722.6l-.1 .2M274.2 758.7l.2 1.1M289.9 772.5l-.5 .2" stroke="#90a4c4" stroke-width="5.2" stroke-linecap="round"/><path d="M319.9 780.5l-.5 .1M275 790.9l-.5 .8M264.8 721.2l-.2 .4" stroke="#6a3618" stroke-width="3.8" stroke-linecap="round"/><path d="M338.7 806l-.2 1.1" stroke="#7a4220" stroke-width="3.8" stroke-linecap="round"/><path d="M345.7 803.1l.6 1.1M272.1 818.7l-.4 .2M273.5 740.7l-.8 .7M282.9 786.2l1.1 .3M317.6 772.5l-.9 .3M252.9 770.9l.4 .5" stroke="#7a8eb4" stroke-width="4.0" stroke-linecap="round"/><path d="M333 767.7l1 .2M352.7 797.5l1.1 .4" stroke="#8e5428" stroke-width="4.6" stroke-linecap="round"/><path d="M331.5 751.2l1 .5M333.8 722.6l.3 .1M310.7 816.9l-.1 .7" stroke="#8e5428" stroke-width="3.8" stroke-linecap="round"/><g fill="#b89878" stroke="#84461c" stroke-width="1.1"><circle cx="344.2" cy="747.4" r="1.9"/><circle cx="328.6" cy="751.6" r="2"/><circle cx="294.9" cy="745.8" r="2.5"/><circle cx="346.9" cy="815.4" r="2.2"/><circle cx="276.5" cy="781.7" r="2"/><circle cx="315.3" cy="789.7" r="1.9"/><circle cx="247.7" cy="764.9" r="2.3"/><circle cx="273.1" cy="762.8" r="1.9"/><circle cx="247.1" cy="747.3" r="2.3"/><circle cx="349.8" cy="796.7" r="2.1"/><circle cx="296" cy="757.5" r="2.2"/><circle cx="329.4" cy="757.7" r="2.5"/><circle cx="296" cy="722.7" r="1.9"/><circle cx="319.2" cy="803.8" r="2.2"/><circle cx="296.8" cy="789.1" r="2.4"/><circle cx="338.6" cy="730.7" r="1.8"/><circle cx="248.1" cy="782.9" r="2.4"/><circle cx="286" cy="728.2" r="2"/><circle cx="292.1" cy="804.4" r="2.1"/><circle cx="274" cy="738.4" r="2.4"/><circle cx="283.4" cy="817.4" r="1.9"/><circle cx="246.6" cy="807" r="2.6"/><circle cx="337.6" cy="769.9" r="2.2"/><circle cx="312.2" cy="729.3" r="2.4"/></g><ellipse cx="307.4" cy="760.1" rx="8.5" ry="8" fill="#f0efee"/><ellipse cx="254.5" cy="722" rx="3" ry="3" fill="#f0efee"/></g></g>
<path d="M327.4 812.5H347.4" stroke="#111" stroke-width="1.5"/>
<text x="337.4" y="809.5" font-size="7.8" text-anchor="middle" fill="#111" stroke="#111" stroke-width="0.22">25 µm</text>
<g clip-path="url(#c03)"><g filter="url(#soft)"><rect x="353.9" y="497" width="107.1" height="106.6" fill="#f3eef3"/><rect x="353.9" y="497" width="107.1" height="106.6" filter="url(#f1)"/><path d="M356 564 L366 553 L384 537 L397 527" fill="none" stroke="#6a78c4" stroke-width="22" stroke-linecap="round" stroke-linejoin="round" opacity="0.45"/><path d="M427 524 L427.5 540 L432 547 L441 549" fill="none" stroke="#6a78c4" stroke-width="28" stroke-linecap="round" stroke-linejoin="round" opacity="0.45"/><path d="M379.6 533.6h0M441.4 531.5h0M403.7 525.4h0M432.2 536.5h0M360.6 572.3h0M432.7 551.6h0M435.9 543.1h0M404 523.2h0M401.5 523.2h0M447.5 553.2h0M448.4 531.3h0M388.9 529.6h0M429.4 529.7h0M401.2 508.9h0M403.7 513.9h0M396.1 521.5h0M382.3 528.8h0M429.7 534.6h0M381.9 525.3h0M364.7 560.1h0M424.3 525.4h0M422.3 546.6h0M396.3 515.9h0M437.9 555.3h0M399.4 531.3h0M415.4 525.9h0M429.5 531.1h0M443 527.6h0M376.6 526h0M354.8 556.9h0M356.6 564.4h0M369.5 540.5h0M388 520.6h0M375.3 500.7h0M385.5 502.8h0M361.7 574.7h0M392.6 504.6h0M398.7 542.8h0M382.5 530.5h0M373.2 537.4h0M422.8 539.3h0M366.9 545h0M403.1 523.9h0M380.8 504h0M408.5 533.6h0M445.2 553.6h0M367.9 540.9h0M383.1 554.8h0M428 522.3h0M410.6 539.4h0M424.1 538.1h0M385 539.6h0M391.2 520.7h0M356.3 562.8h0M361.1 560.8h0M408.8 528.2h0M434.4 557h0M368.8 563.1h0M435.8 526.9h0M420.7 534.7h0M391.5 534.6h0M389.3 510.1h0M387.7 536.2h0M382.4 533.8h0M452.5 530.9h0M400.7 534.6h0M414.6 540.9h0M420.3 552.4h0M386.7 548.8h0M439.8 547.6h0M378.4 505h0M395.7 526.9h0M421.4 541.4h0M432.3 541h0M388.8 541.8h0M447.1 530h0M448.2 532h0M427.9 521.7h0M374.9 565.4h0M362.4 563.8h0M358.1 571.8h0M441.6 538.3h0M447.6 553h0M419.8 551.6h0M445.7 529.4h0M438.6 533.9h0M397.7 540.9h0M448.9 536.5h0" stroke="#5a74c4" stroke-width="1.2" stroke-linecap="round"/><path d="M436.3 530.7h0M375.5 562.5h0M438.6 554.4h0M389.7 515.5h0M358.7 552.4h0M363.9 573.4h0M423.6 519.9h0M410.2 536.5h0M385 510.4h0M370.5 557.5h0M358.2 560.1h0M426.2 532.2h0M397.7 517.7h0M432.3 546.4h0M374 555.6h0M428.5 544.2h0M448.5 550.9h0M395.9 538h0M376 528.7h0M360.4 552.4h0M414.6 548.9h0M422.6 545.1h0M387.4 520.3h0M444.8 531.4h0M433.8 531.7h0M365.8 542.1h0M434.6 533h0M429.6 540h0M441.3 549.2h0M440.3 548.7h0M382.7 522.4h0M369.3 542.2h0M416.2 546h0M439.3 531.4h0M422.4 541.4h0M428.7 526.2h0M422.5 533.4h0M372.8 517.8h0M398.2 516.3h0M357 571.9h0M423.3 518.6h0M398.1 516.9h0M365.6 564h0M424.3 525.3h0M371.5 548.1h0M397.9 530.9h0M357.9 578.5h0M357 555.8h0M423.9 552h0M381.6 506.7h0M359.7 547.4h0M452.2 536h0M424.2 551.6h0M429.3 526.7h0M416.1 534.6h0M372 504.7h0M379 501.1h0M409.4 534.2h0M437.4 530.4h0M431.7 559.5h0M449.2 534.5h0M434 529.8h0M361.5 538.7h0M376.9 535.1h0M434.4 527.6h0M383.7 534.7h0M400.9 542.5h0M352.5 563h0M354.8 557.5h0M406.5 531.4h0M438.9 556.4h0M403.8 526.3h0M387.8 547.8h0M404.8 534.3h0M436.3 535.6h0M376.6 556.5h0M356.9 547h0M423 531.7h0M383.8 504.8h0M440.7 556.3h0M415.1 548h0M424.1 523.4h0M421.9 548.2h0M365.3 573h0M402.3 534.1h0M428 539.4h0M399.6 533.7h0M443 551.3h0M396.4 506.3h0M359.3 542.3h0M372.5 563.2h0M386.7 509.5h0M429.7 527.8h0M376.9 499.8h0M362.2 546.2h0M385.9 527.8h0M423.2 555.6h0" stroke="#3e56ac" stroke-width="1.8" stroke-linecap="round"/><path d="M419 530.6h0M385.9 529h0M424.5 551.1h0M404.5 537.1h0M352.6 562.5h0M390.7 540.5h0M386.6 531.6h0M357.9 566.7h0M386.3 538.9h0M375.3 541.6h0M379.5 536.4h0M420.1 544.8h0M390.2 505.8h0M394.5 514.2h0M431.4 558.1h0M359.3 560h0M370.7 547.8h0M443.9 545.2h0M353.1 564.5h0M360.3 557.7h0M381.8 524.7h0M428.8 540.7h0M451.2 545.3h0M352 549.1h0M379 531h0M375.4 530.5h0M374.1 534.3h0M383.6 535h0M429.3 516.9h0M374.1 549.7h0M425.5 538.4h0M422.5 538.7h0M451.5 538.3h0M383.9 517.4h0M419.7 526.3h0M421.4 556.1h0M433.3 536.7h0M429.6 519h0M435.5 546.5h0M430.1 528.5h0M362.2 574.4h0M415.8 541.5h0M444.5 525.4h0M392.5 534h0M373.9 543.9h0M381.3 548.7h0M438.9 523.4h0M446.5 553.9h0M370.4 552.1h0M417.8 527.8h0M428.4 532.5h0M375.4 561.1h0M381.8 529.4h0M375.3 543.6h0M356.5 551.8h0M379.4 502.9h0M379 517.1h0M355.2 558.8h0M362.1 561.2h0M387.4 513.5h0M386.9 535h0M434.1 527h0M362.8 549.4h0M386.1 505.2h0M423.1 519.9h0M356.1 547.9h0M431 550.8h0M436.7 522.7h0M406.1 528.3h0M389.4 535.9h0M426.5 542h0M372.7 508.5h0M384.9 547.5h0M448.4 528.2h0M395 505.3h0M388.7 540.3h0M380.2 501h0M407.4 517.2h0M393.8 510.5h0" stroke="#5a74c4" stroke-width="1.8" stroke-linecap="round"/><path d="M416.1 524.5h0M447.8 549.1h0M446.3 530.8h0M378.8 547.4h0M416.8 526.3h0M400 541.2h0M380.9 558.2h0M368.6 550.8h0M408.5 511.7h0M432.3 534.2h0M358.9 553.5h0M438.4 558.1h0M382 536.8h0M360.9 568.3h0M406.6 535h0M372.9 544.2h0M354.9 572.4h0M368.4 563.6h0M353.1 558.9h0M371.6 530.3h0M439.2 550.8h0M392.1 527.9h0M354 548.5h0M381.6 501.8h0M352.1 545.9h0M365.4 543.5h0M399 522.2h0M355.7 552.7h0M377.7 504.8h0M404.9 530.2h0M432.9 531.4h0M434.7 528.2h0M380.3 512.1h0M378.9 556.3h0M378.7 526.2h0M437.7 551.2h0M405.2 537h0M417.4 537.5h0M437.3 516.7h0M397.5 514.2h0M422.3 547.7h0M433.4 541.9h0M431.8 530.7h0M425.3 529h0M431.9 539.7h0M443.7 535.4h0M445.4 540.1h0M377.3 502.9h0M381.1 544.7h0M399 518.7h0M417.3 529.7h0M370.3 565.2h0M380.1 550.6h0M375.7 554.9h0M385.1 540.9h0M434.6 555.7h0M372.9 502.3h0M408.1 531.1h0M389.1 541.9h0M385.4 504.4h0M422.8 521.4h0M448.9 532.9h0M410.5 540.8h0M385.9 517.5h0M351.9 564h0M385.3 551.6h0M422 534.3h0M403.1 515.3h0M434.2 548.3h0M383 519.9h0M367.1 569.6h0M382 516.6h0M354.5 567.3h0M360.6 560.4h0M380.1 523.5h0M375.9 541.9h0M389.4 521.6h0M396 511.1h0M383.8 539.3h0M435.7 556h0M438.8 556.2h0M366.1 545.5h0M417.9 553.4h0M397.2 526.7h0M357.8 562.5h0M437.4 526.1h0M372.9 513.4h0M435.2 524.6h0M431.3 554.8h0M444.9 545.1h0M436.4 518.5h0M365.4 554.1h0M365.9 549.9h0M353.3 567.6h0M407.1 511h0M360.3 569.4h0M452.8 533.1h0M365.9 572.5h0M363.1 558.6h0M364.8 538.8h0M366.4 560.7h0M373 549.3h0M394.1 511.8h0" stroke="#3e56ac" stroke-width="1.2" stroke-linecap="round"/><path d="M417.8 547.4h0M450.6 538.1h0M443.5 537.7h0M382.5 501.3h0M370.8 564.7h0M447.5 529.3h0M427.6 557.5h0M375.6 499.6h0M442.6 547.9h0M385.2 539.3h0M427 527.6h0M406.9 534h0M400.1 509.8h0M386.8 504.9h0M407.2 511.3h0M409.1 529.6h0M419.8 527.3h0M399.6 520.4h0M379.3 516.9h0M405.6 534.2h0M362 546.6h0M374.4 561.7h0M443 530.6h0M416 552.8h0M437.3 524.1h0M387.9 526.3h0M432.4 541.2h0M450.9 530h0M403.5 510.8h0M441.5 532.8h0M381 524.8h0M411.7 535.2h0M381 551.8h0M379.7 555.7h0M384.5 553.2h0M399.2 537h0M428.8 549.7h0M436.4 523.2h0M407.1 516.3h0M355.6 555h0M381.3 516.4h0M439.9 520.7h0M420.5 527.5h0M442.4 519.4h0M393.3 518.3h0M399.6 512.9h0M389 516.5h0M377.8 508.6h0M405.7 516.9h0M419.4 525h0M426.9 526.2h0M425.5 530.7h0M384.5 520.8h0M378.7 523.9h0M445 533.6h0M421.3 532.8h0M426.3 553.7h0M372.3 536.9h0M421.2 545.9h0M413 543.9h0M377.4 528h0M451.7 547.7h0M388 520.5h0M425.2 549.4h0M398.4 540.5h0M419.9 534.2h0M398.5 506.4h0M422.8 552.6h0M428.1 528.7h0M352.5 546.4h0M373.9 560.4h0M390 508.9h0M396 537.3h0M378.3 524.1h0" stroke="#4a62b8" stroke-width="1.8" stroke-linecap="round"/><path d="M433.9 520.2h0M451.2 534.8h0M384.3 529.6h0M451.4 532.4h0M424.5 556.1h0M452.5 540.4h0M442.4 549.1h0M444.4 539.5h0M412.8 529.3h0M444.6 526h0M436.1 527.7h0M368.2 567h0M436 547.2h0M392.3 531.8h0M425.8 539.8h0M364.3 537.5h0M437.2 524.2h0M380.3 535.9h0M436.3 526.3h0M434.5 525.1h0M384.4 541.5h0M412 536.8h0M365.4 562.9h0M374.1 514.5h0M417.4 535.1h0M436.4 516.6h0M414.4 544.6h0M437 523.4h0M442.4 528.1h0M407.2 510.2h0M440.5 554.5h0M383.8 519.5h0M427.8 556.2h0M451.1 530.4h0M379.4 514.1h0M401.2 539.5h0M418.7 547.5h0M398.4 538.4h0M379.4 507h0M411.7 513.2h0M435.1 553h0M428.8 533.5h0M377 545.2h0M379.7 503.4h0M383.2 501.1h0M380.6 535.5h0M374.6 546h0M430.8 516.5h0M388.4 546.4h0M425.9 540.2h0M393 525.3h0M364.2 545.6h0M397.4 525.8h0M403.7 512.9h0M441.6 529.4h0M449.6 532.8h0M438.9 524h0M384.6 535.4h0M359.4 545.6h0M423.7 557.7h0M394.8 505.8h0M395.9 519.4h0M358.2 565h0M390.6 533.4h0M385.5 529.4h0M424 532h0M427.7 521.2h0M412.3 534.9h0M363.7 548.5h0M423.2 525.2h0M410.3 513.3h0M369 569.3h0M399.3 522.3h0M442.2 528.4h0M428.2 516.3h0M383.5 526.2h0M433.9 528.9h0M440.6 522.9h0M376.3 544.5h0M387.4 533.1h0M361.6 556.7h0M417.5 550.3h0M430.8 527.6h0M392.8 543.4h0M433.7 556.1h0M446.6 540.7h0M386.2 529h0M380.3 534.6h0M413.8 530.5h0M382 535.3h0M371.1 546h0M446.8 523h0M392.9 518.6h0M418.8 536.8h0M424.6 525.7h0M403.5 509.4h0M363 554.7h0M362.2 549h0M385 532.8h0M432 530.7h0M390 515.7h0M433.6 531.5h0M362.7 568h0" stroke="#7a70b8" stroke-width="1.8" stroke-linecap="round"/><path d="M396.4 530.1h0M376.4 553.6h0M363.2 543.5h0M352.7 565.5h0M439.3 520.3h0M411.7 536.6h0M447 526.2h0M390.6 524.2h0M434.7 519.9h0M353.7 564.5h0M389.4 511.7h0M413.7 533h0M444.1 530.9h0M425.8 528.1h0M368.4 566.3h0M413 541h0M441.9 531.8h0M354.6 559.8h0M356.4 545.5h0M358 570.4h0M398.3 523.5h0M382.6 506.4h0M437.9 523.5h0M411.2 537.8h0M440.5 529.9h0M366.9 550.3h0M373.4 553.7h0M398 515.3h0M368.1 557.4h0M448.2 548.2h0M399.5 523.2h0M357.9 569.1h0M374.1 556.7h0M426.9 539.8h0M429.5 545.6h0M368.1 564.3h0M352.4 569.7h0M436.9 517.4h0M397 532h0M367.5 549.9h0M390 511.8h0M405.7 535.8h0M424.2 527.6h0M436 542h0M450.8 543.3h0M393.8 516.9h0M411.2 537h0M408.7 528.9h0M377.7 542.6h0M396.1 538.6h0M444.4 537.5h0M426.2 526.3h0M391.9 539.5h0M360.8 552.2h0M417 526h0M399.1 537h0M385 541.1h0M419.2 548.7h0M382.3 550.8h0M376.1 539.9h0M400.1 537.7h0M432.6 516.1h0M419.1 520.4h0M362.3 560.2h0M424.7 557.4h0M399.3 518h0M397.2 509.8h0M377.6 547.4h0M426.3 539.4h0M381.9 558.7h0M418.2 534.7h0M442.1 555.6h0M366.9 541h0M400.6 521h0M356.5 573.9h0M396.1 511.6h0M382.6 555.1h0M375.2 535.5h0M439.6 520.4h0M443.1 553.3h0M363.3 571.9h0M371.1 562.5h0M357.2 546.2h0M408.1 534.1h0M441.4 556.3h0M363.6 541.6h0M382.5 554.1h0M432.5 557.9h0M373.5 557.3h0M424 556.7h0M365 567.2h0M375.1 530.4h0M387.1 532.6h0M380.7 533h0M395 538h0M356.9 557.1h0M358.2 574.8h0M414.5 525.8h0M449 524.8h0M380.2 515.9h0M420.9 550.2h0M389.4 521h0M396.2 536.7h0M369.4 560h0M378.3 525.4h0M364.5 560.5h0M448.9 535.7h0" stroke="#4a62b8" stroke-width="1.2" stroke-linecap="round"/><path d="M376.3 538.6h0M434 537.7h0M374.6 557.5h0M386.5 516h0M363 564h0M405 534.1h0M388 529.7h0M376.9 513.7h0M424.3 531.6h0M426.4 535.8h0M442.2 545.7h0M392.2 546.1h0M380.4 540.6h0M419.6 551h0M384.2 506.1h0M402.1 529.6h0M379.1 511.3h0M399.2 517.7h0M360.1 541h0M400.5 543.1h0M389.9 511.1h0M438.2 547.4h0M422.2 553.2h0M424.9 519h0M446.2 529.9h0M374.8 517.2h0M417 552.4h0M388.9 545.4h0M421.6 529h0M383.4 555.6h0M415.2 532.8h0M390.8 528.6h0M368 556.6h0M376.9 561.3h0M373 553.6h0M433.3 520.2h0M401.9 510.1h0M400.3 535.9h0M392 519.8h0M402.1 513.5h0M373.8 556.6h0M444.7 528.9h0M375.4 530.9h0M382.3 549.7h0M432.3 525.1h0M453.2 533.2h0M449.1 526.7h0M402.1 513.5h0M431.1 522.1h0M384 542.3h0M367.5 546.3h0M427.5 542.9h0M354.6 543.6h0M408.6 536.8h0M361.3 561.7h0M370.4 563.7h0M423.4 542.8h0M366 560h0M427.3 555.1h0M365.6 560.8h0M364 566.2h0M389.5 538.7h0M432.6 541h0M448.9 534.9h0M377.7 525h0M421.4 529.4h0M384 527.6h0M384.4 542.7h0M401.2 537.1h0M430.2 532.5h0M367.3 549.6h0M371.9 551.3h0M363.6 543.6h0M375.8 526.1h0M431.1 529.3h0M412.7 537.7h0M352.3 558h0M355.1 561.5h0M390.6 533.5h0M352.6 548.6h0M384.9 549.8h0M433.3 544.9h0M428.2 538.6h0M395.5 519.8h0M434.8 547.8h0M377.9 548.7h0M406.2 511.2h0M427.3 518h0M396.1 542.1h0M414.9 545.3h0M366.2 555.3h0M379.4 506.7h0M393.8 509.1h0M380.5 505.2h0M426.8 544.3h0M390.2 531.1h0M371.5 543.2h0M428.4 527.1h0" stroke="#7a70b8" stroke-width="1.2" stroke-linecap="round"/><path d="M356 564 L366 553 L384 537 L397 527" fill="none" stroke="#8c4a98" stroke-width="11" stroke-linecap="round" stroke-linejoin="round"/><path d="M356 564 L366 553 L384 537 L397 527" fill="none" stroke="#a0407e" stroke-width="8.5" stroke-linecap="round" stroke-linejoin="round"/><path d="M363 555 L368 550 M381 540 L388 534" fill="none" stroke="#fbf6f8" stroke-width="7" stroke-linecap="round"/><path d="M368 550 L381 540" fill="none" stroke="#e8c8dc" stroke-width="4" stroke-linecap="round"/><path d="M427 524 L427.5 540 L432 547 L441 549" fill="none" stroke="#8c4a98" stroke-width="14" stroke-linecap="round" stroke-linejoin="round"/><path d="M427 524 L427.5 540 L432 547 L441 549" fill="none" stroke="#a0407e" stroke-width="10.5" stroke-linecap="round" stroke-linejoin="round"/><path d="M426.8 526 L427.3 540 L432 546.5 L439.5 548.5" fill="none" stroke="#fbf6f8" stroke-width="5" stroke-linecap="round" stroke-linejoin="round"/><path d="M354 497 H372 L368 505 L356 512 L354 512Z" fill="#f3eef3"/></g></g>
<path d="M436.5 597.3H456.5" stroke="#111" stroke-width="1.5"/>
<text x="446.5" y="594.3" font-size="7.8" text-anchor="middle" fill="#111" stroke="#111" stroke-width="0.22">25 µm</text>
<g clip-path="url(#c13)"><g filter="url(#soft)"><rect x="353.9" y="604.9" width="107.1" height="105.9" fill="#e7eae6"/><rect x="353.9" y="604.9" width="107.1" height="105.9" filter="url(#f2)"/><path d="M353 604 H385 L378 625 L365 650 L353 660Z" fill="#9ab0d8" opacity="0.2"/><path d="M393.1 632l-1 .3M360.6 687.8l-.6 .9M374.9 694.9l-2.1 1.5M378.7 628l3 .8M375.6 711.4l-.3 1M382.4 673.7l2 .4M353.5 638.8l-.2 2.8M386.4 613.3l-2.8 1.7M388.5 687.6l2.4 1.6M371.6 636l-1.2 .5M385.7 622.3l-3 1.5M365.8 638.5l0 3.5M377 670.9l-1.3 2.9M366.2 606.2l1.8 2.3" stroke="#a4b6dc" stroke-width="1.2" stroke-linecap="round"/><path d="M397.3 636.6l-3.6 .7M394.3 625.5l1.6 .2M394.1 693.9l-0 1M386.7 646l-2.6 .1M398.2 701.3l-2 2.6M359.9 603.5l1.3 2M362.6 663.4l0 3.5M357.9 703.3l1.9 1" stroke="#8aa0d4" stroke-width="1.2" stroke-linecap="round"/><path d="M375.5 678.5l-.7 3M354.2 618.4l2.9 1.1M362.5 647.5l-1.7 1.1M357.5 620.5l2.2 1.5M387.2 609.9l-1.1 3.8M382 636.3l1 .3M356.9 673.3l3.4 .4" stroke="#a4b6dc" stroke-width="0.9" stroke-linecap="round"/><path d="M357.4 660.8l.5 .8M399.2 637.3l3 .2M398.7 678.1l-2.7 .4M356.7 696.9l3.1 .4M358.9 708.7l-2.1 .3M371.5 665.2l-.3 1.3M399.1 712.8l1.7 2.8M378.3 688.3l-0 2.5M372.5 702.2l1.9 .8M356.1 620.9l2.3 3.2M388.3 688.3l0 2.3" stroke="#8aa0d4" stroke-width="0.9" stroke-linecap="round"/><g><ellipse cx="388.8" cy="629.5" rx="9.3" ry="8.6" fill="none" stroke="#6a70b8" stroke-width="3.2" opacity="0.55"/><ellipse cx="388.8" cy="629.5" rx="7.9" ry="7.2" fill="#b03c78"/><ellipse cx="388.8" cy="629.5" rx="5.7" ry="5" fill="#f7f4f4"/></g><g><ellipse cx="453.6" cy="631.8" rx="5.4" ry="7.8" fill="none" stroke="#6a70b8" stroke-width="3.2" opacity="0.55"/><ellipse cx="453.6" cy="631.8" rx="4" ry="6.4" fill="#b03c78"/><ellipse cx="453.6" cy="631.8" rx="2" ry="4.2" fill="#f7f4f4"/></g><g><ellipse cx="391.2" cy="670" rx="9.8" ry="14.8" fill="none" stroke="#6a70b8" stroke-width="3.2" opacity="0.55"/><ellipse cx="391.2" cy="670" rx="8.4" ry="13.4" fill="#b03c78"/><ellipse cx="391.2" cy="670" rx="6.2" ry="11.2" fill="#f7f4f4"/></g><g transform="rotate(-20 440.2 660.5)"><ellipse cx="440.2" cy="660.5" rx="11.3" ry="7.8" fill="none" stroke="#6a70b8" stroke-width="3.2" opacity="0.55"/><ellipse cx="440.2" cy="660.5" rx="9.9" ry="6.4" fill="#b03c78"/><ellipse cx="440.2" cy="660.5" rx="7.7" ry="4.2" fill="#f7f4f4"/></g><g><ellipse cx="409.5" cy="697.9" rx="12.3" ry="10.6" fill="none" stroke="#6a70b8" stroke-width="3.2" opacity="0.55"/><ellipse cx="409.5" cy="697.9" rx="10.9" ry="9.2" fill="#b03c78"/><ellipse cx="409.5" cy="697.9" rx="8.8" ry="7.2" fill="#f7f4f4"/></g></g></g>
<path d="M436.5 704.5H456.5" stroke="#111" stroke-width="1.5"/>
<text x="446.5" y="701.5" font-size="7.8" text-anchor="middle" fill="#111" stroke="#111" stroke-width="0.22">25 µm</text>
<g clip-path="url(#c23)"><g filter="url(#soft)"><rect x="353.9" y="712.2" width="107.1" height="106.6" fill="#eeeaee"/><rect x="353.9" y="712.2" width="107.1" height="106.6" filter="url(#f3)"/><path d="M428 711 H462 V748 L440 744 L430 730Z" fill="#e9e9ec"/><path d="M444.3 803.3l1.5 2.5M412.4 724.2l-1.1 1.7M414.3 757.7l-2.2 2.9M392.8 757.7l-2.3 1.9M440.3 783.5l-2.1 2M406.8 801l.4 2.6M453.9 802.4l-2.8 .3M388 773.8l-1 2.3M364.7 714.2l-2.2 2.8M391.4 804l-2.4 .6M386.9 739.2l-2.9 .7M385 743.4l2.1 3M438.3 718.1l1.3 3.1M451.1 728.6l-1.7 .1M361.9 799.8l-.7 1.4M452.2 758.4l.9 .8" stroke="#a4b6dc" stroke-width="1.2" stroke-linecap="round"/><path d="M456.9 719.6l-.6 1.7M462.8 723.6l-.4 .8M393.9 751l-1 .3M407 746.4l2.2 1.5M408.5 732.9l-1.3 1.5M407.9 729.4l1.2 1.7M375.3 732.6l-1.1 .1M462 713.5l1.2 2.3M400.7 740.4l2.6 1.4M460.6 734.8l-2.6 .4M361 756.1l1.7 1M368.1 810.9l1 2.3M357.9 763.2l-.6 1.8M402 789.9l1.1 2M404.2 811l1.1 3M391.9 732.1l-1.5 1.4M361.7 771.4l-1.3 0M371.9 745.4l.1 .9" stroke="#8aa0d4" stroke-width="0.9" stroke-linecap="round"/><path d="M371.1 820.7l2.6 2.2M439.1 744.6l.1 2.5M426.4 731.7l-1.1 2.1M388.2 723.7l-.1 3.1M424.8 813.1l-2.9 1.4M458.8 797.6l-.7 2.3M382.3 759.5l-1 2.3M401.1 820.3l3 .6M412.6 769.9l3.5 1.2M388.3 810.7l-1 2.5M367.2 781.5l1.4 1.4M386.1 797.9l3.5 0M442.7 751.9l-.4 2.4M418.7 754.6l2.9 1.8" stroke="#a4b6dc" stroke-width="0.9" stroke-linecap="round"/><path d="M392.7 746.3l2.5 .2M397.3 804.8l3.5 .4M455.9 749.4l1.2 2M431.1 750.3l1.6 1.5M425.3 788.1l-2.8 .4M420 711.1l-1.2 3M370.6 720.9l-1.9 1.2M406.2 769.9l1.3 3.4M397 751.4l-3.7 0M392.2 761.6l1.6 2.9M394 720.9l2 2.2M355.2 754l-1 2.7" stroke="#8aa0d4" stroke-width="1.2" stroke-linecap="round"/><path d="M353 752 L400 732 M353 770 L420 745 M353 784 L392 772 L420 766" stroke="#f4f2f4" stroke-width="3" fill="none"/><g><ellipse cx="420.6" cy="754" rx="7.2" ry="8.3" fill="none" stroke="#6070c0" stroke-width="3.2" opacity="0.55"/><ellipse cx="420.6" cy="754" rx="5.8" ry="6.9" fill="#7a5ab0"/><ellipse cx="420.6" cy="754" rx="3.6" ry="4.7" fill="#f7f4f4"/></g><g transform="rotate(-10 414.3 799.3)"><ellipse cx="414.3" cy="799.3" rx="11.3" ry="7.8" fill="none" stroke="#6a70b8" stroke-width="3.2" opacity="0.55"/><ellipse cx="414.3" cy="799.3" rx="9.9" ry="6.4" fill="#b8307a"/><ellipse cx="414.3" cy="799.3" rx="7.7" ry="4.5" fill="#f7f4f4"/></g><g><ellipse cx="391.2" cy="803.6" rx="5.6" ry="5.4" fill="none" stroke="#6a70b8" stroke-width="3.2" opacity="0.55"/><ellipse cx="391.2" cy="803.6" rx="4.2" ry="4" fill="#b0307a"/><ellipse cx="391.2" cy="803.6" rx="2.4" ry="2" fill="#f7f4f4"/></g><g><ellipse cx="452.5" cy="780.2" rx="3.8" ry="5.4" fill="none" stroke="#6a70b8" stroke-width="3.2" opacity="0.55"/><ellipse cx="452.5" cy="780.2" rx="2.4" ry="4" fill="#7a5ab0"/><ellipse cx="452.5" cy="780.2" rx="1.3" ry="2.4" fill="#f7f4f4"/></g><circle cx="381.6" cy="797.7" r="2.6" fill="#7a2a80"/></g></g>
<path d="M436.5 812.5H456.5" stroke="#111" stroke-width="1.5"/>
<text x="446.5" y="809.5" font-size="7.8" text-anchor="middle" fill="#111" stroke="#111" stroke-width="0.22">25 µm</text>
<g clip-path="url(#c04)"><g filter="url(#soft)"><rect x="463" y="497" width="106.7" height="106.6" fill="#0c1830"/><rect x="463" y="497" width="106.7" height="106.6" filter="url(#f4)"/></g></g>
<g clip-path="url(#c14)"><g filter="url(#soft)"><rect x="463" y="604.9" width="106.7" height="105.9" fill="#020406"/><rect x="463" y="604.9" width="106.7" height="105.9" filter="url(#f5)"/></g></g>
<g clip-path="url(#c24)"><g filter="url(#soft)"><rect x="463" y="712.2" width="106.7" height="106.6" fill="#03030e"/><rect x="463" y="712.2" width="106.7" height="106.6" filter="url(#f6)"/><g filter="url(#bl3)"><path d="M455 735 C480 736 505 738 522 742 L540 734 L580 728 V770 L548 772 L535 768 L520 760 L500 772 L480 788 L455 802 Z" fill="#000" opacity="0.55"/><path d="M463 748 C475 752 490 756 500 760 L490 775 L463 790 Z" fill="#000" opacity="0.5"/><path d="M540 736 L571 733 V766 L550 768 Z" fill="#000" opacity="0.45"/><path d="M463 805 L475 812 L463 819Z" fill="#000" opacity="0.3"/></g></g></g>
<g clip-path="url(#c05)"><g filter="url(#soft)"><rect x="572" y="497" width="106.8" height="106.6" fill="#1d5636"/><path d="M601.8 582l2.7 .4M572.2 566.8l1.2 .1M665.8 498.4l2.2 1.8M575 535.3l1.2 .7M575.9 523.2l-2.8 1M600.3 596l.8 .5M575.8 598.8l1 1.3M611.3 518.7l-1.8 2.2M654.1 561.2l-2.4 1.6M662.5 501.4l-1.2 1.5M616.7 587.1l-2.6 1.3M625.7 582.2l1.3 0M583.9 594.3l2.2 .1M618 529.3l-1.6 2.2M588.9 530l.8 .1M599.4 518.7l-.6 .6M590.9 501.3l-.1 2.8M664.9 505.3l.8 1.9" stroke="#174030" stroke-width="3.0" stroke-linecap="round"/><path d="M645.3 562.2l.2 1.2M602.2 530l-1.1 .4M577 517.5l2.3 .7M602.5 505.7l2 1.8M655.3 516.1l-2.2 .2M580 599.2l.9 1.3M639.4 570.5l-.9 2.1M633.2 595.8l1.6 2.3M658.6 600.6l2.8 1M680.3 559.3l-.4 .7M655.2 542.4l.4 1.2M620.1 550.9l-1.8 1.7M592 507.1l-1.5 1.1M672.1 591.4l.7 1.9M657.6 541.3l-.3 1.8M626.5 502.4l-1.5 2.4M600.7 552.9l-2 2M657.6 584.5l-1.7 .3M651.6 596l-2 .8M640.5 586.2l-1.4 2.3M586.1 552.1l-2.3 1.1M639.6 512.8l-2.2 .1M639.9 533.6l1.3 .8M614.5 505.2l-.1 .8M651 506l1.8 .5M653.3 536.6l-.4 1.8M591.3 573.8l1.9 .4M595.4 543.1l.4 1.8" stroke="#236a3a" stroke-width="3.0" stroke-linecap="round"/><path d="M571.5 566.8l-1.7 1.8M593.6 600.3l-2.7 1M600.9 595.4l.6 2.6M619.6 593.3l1.3 .4M639.4 566.9l1.3 1.4M671.5 512.8l-.7 .1M596.8 598.3l1.3 .3M585.9 558.3l-1.4 1.6M617 500l1.1 1.2M624.1 514.6l.7 .7M651.6 583.8l-.4 .9M661.9 548.6l-.4 1.6M668.7 514.7l-2.6 1.1M581 524.3l-.8 .1M573.5 540.8l1.6 .3M575.7 576.2l-2.4 .1M601.7 507.1l-.3 .8M578.2 506l-1 .1M679 527.7l1.2 .6M599.8 507.4l-.2 1.8M627.9 583.3l1.3 2.1" stroke="#174030" stroke-width="2.0" stroke-linecap="round"/><path d="M608 572.6l-.9 1.4M637 555.5l-.7 1.2M589 572.7l-.8 .9M677.4 576.8l.6 1.5M625.5 526.1l.6 1.7M594.6 555.6l-.6 1M576.9 581.4l-1.2 1.8M581.9 555.8l2.2 1.6M656.4 574.9l1.1 .1M652.8 602.5l1.2 1.8M597.7 520.9l.6 1.3M625.5 514.5l1 2.1M579.5 572.6l-.7 2.7M651.1 601.6l-.9 .5M583.9 573.1l-1.3 2M629.6 570.3l-0 1.3M629.2 546.6l1.3 .2M580.8 590.5l-1.1 .9M668.5 516.6l1.5 .5M652.1 541l1.3 1.2M666.4 600.6l-1.1 2.7M614.5 547.9l-.6 2.3M572 593.5l-1.3 .3M629.7 587.7l1.9 .5" stroke="#236a3a" stroke-width="2.0" stroke-linecap="round"/><path d="M664.4 574.8l-2 0M575 521.9l.6 .9M677 596.2l-1.2 2.5M589.6 500.9l.6 .4M573.4 560.3l-1 .9M643 586.2l-.1 1.2M661.5 558.7l.1 1.3M636.2 548.7l-0 1.2M660.9 569l.6 1.2M619.9 523.1l.7 1.4M643.4 558.5l.4 1.9M602.5 575.5l-2.3 .3M613.3 557.5l-.7 .1M677.3 564.4l-.5 .6M594.4 525.4l.9 .4M658.9 558.5l-.3 .8M640.2 541.4l-.9 .4M588.5 509.8l1.5 2.5M658.4 550.5l1 1.3M589.4 496.5l-.9 1.1M651.1 501.7l.1 2.9M607.9 568.7l1.4 2.7M646.4 595.1l-.8 .2M649.1 499.5l-1.1 1.5M635.3 598.4l-.9 1.3M606 539.5l-1.2 1.7M664.9 559.5l-2.1 1.2M676.3 523.1l2.6 1.3M661 536l1 1.3" stroke="#2a7a40" stroke-width="2.0" stroke-linecap="round"/><path d="M641.5 517.9l-1.1 1.7M614.5 590.8l-1 1M674.3 551.6l-.2 .7M669.6 573.6l.7 1.4M581.1 502.2l-.8 .5M627.3 574.6l-1.1 .8M587.2 506.4l.7 .5M629.7 581.9l-.6 .5M667.5 575l2.1 .3M643.7 513.3l-.5 .9M670.3 537l-.7 2M660.1 555.6l-1.7 1.2M641.2 543.4l.2 .9M577.8 600.7l1.7 2M611.7 581.4l.8 2.8M609.8 593.5l-1.5 .9M602.2 525.8l1.3 .7M648.5 510.9l-2 1.2M644.2 508.9l-1.9 1.1M595.6 528.1l.9 .2" stroke="#2a7a40" stroke-width="3.0" stroke-linecap="round"/><path d="M617.3 536.4l-.7 .2M582.2 580.3l-.1 .5M635 507.2l-0 .5M596.5 529.1l-1.2 .3M669.9 570.1l-1 1M668.9 496.6l-.9 .4M602.4 531.5l.5 .2M583.6 560.6l.8 .2M654 571.2l-.4 1.1M607.2 498.3l.8 .1M646 542.9l1 .1M642 509.2l-.3 .3M630.2 569l.2 .6M641 496.1l-.8 .3M670.8 528.2l1.2 .1M588.2 561.2l-.2 .6M638.9 534.8l.3 .3M586.3 567.4l.1 .6M645.3 585.6l.1 .3M639.5 499.8l1.3 0M618.6 588.8l-.1 1.1" stroke="#081410" stroke-width="4.0" stroke-linecap="round"/><path d="M658.4 578.2l.8 .4M658.8 499.6l-.2 .3M583.4 513.4l1.2 .1M571 567.2l.9 1.2M659.7 556.5l-.1 .7M614.1 507l.3 .6M579 551.7l.1 .6M661.4 544.4l.9 .7M637.9 513.8l-.9 .3M630.1 520.2l1.4 .2M571.1 518.9l-.5 1.1M608.3 604.9l.4 .5M666.9 528.3l-.9 .7M653.7 550.9l-.9 .4M593.5 582.7l-.9 .6M640 554.3l-.5 1.4M671.2 550.9l-.8 .8M612.9 504.4l-.3 .2M647.6 573.4l.1 .8M608.1 599.4l.2 1.2M649.1 601.3l.8 1.1M669.4 537.8l.1 1.4" stroke="#020806" stroke-width="3.0" stroke-linecap="round"/><path d="M586.1 530.4l-.9 .6M635.3 576.2l-0 .7M584.4 544.1l.8 .6M665.9 590.1l.4 .1M578 587.5l-.5 .1M616.9 560.2l.6 .4M572.7 549.5l-.3 .2M611.3 523.4l-.7 1.2M677.1 578l.6 0M577.3 570.4l.7 .8M572.9 558.3l.2 .9M586.2 554l.5 .7M596.3 564.1l-.6 1.3M648.1 515.5l-.3 .2M677.2 534.7l.7 .9M572.2 497.6l-1.3 .1M620.2 511.4l-.2 .9M602.3 533.9l-1.3 .5" stroke="#020806" stroke-width="4.0" stroke-linecap="round"/><path d="M654.2 511.2l-.3 1.1M637.8 520.6l-1.3 .5M650.7 603.1l.7 1.3M607.5 602.2l-.9 .1M679.2 567.8l.6 .8M597.7 535.7l.7 .5M644.3 539.7l-.3 .3M675.9 523.7l.1 .6M575.9 567.8l.9 .4M575.9 570.2l-.9 1.1M619.4 550l-.6 .6M675.4 534.1l.2 1.1M633.8 521.8l.5 .1M601.5 525l-.2 1.5M589.4 538.2l-.5 .1M633.7 573.8l.6 .5M622.8 501l.9 .8M571.9 496l-1 .7M594.7 552.4l1.4 .5" stroke="#081410" stroke-width="3.0" stroke-linecap="round"/><path d="M577.9 577.2l1 -.7M629.9 549.7l.6 -.4M680.3 552.8l.9 -.7M669.7 551.6l.9 -1M664.3 497.3l1.5 -1.3M639.4 511.4l1.6 -.5M657.3 553.8l1.4 -.7M650 496.3l.9 -.7M620.8 559.1l1.5 -1.1M621.4 567.3l.5 -.1M624 585.9l1.6 -.3M660.6 559.8l.5 -.3M645.5 585.3l.6 -.6M634.5 542.7l.9 -.2M673.3 555.3l1.1 -.2M577 517.5l1.4 -.7M582.4 557.4l.8 -.5" stroke="#2848a8" stroke-width="4.8" stroke-linecap="round"/><path d="M641 540.5l.6 -.3M629.8 522.1l.9 -.4M659.8 555.5l1.4 -.3M577.4 541.7l1.6 -1M621.4 578.9l1.8 -1.1M623.5 516.5l1.4 -1.3M666.4 531.2l1.1 -.6M642 589.5l.5 -.4M593.5 568.6l2 -.4M597.3 495.7l1.1 -1.2M596.2 593.8l1 -.4M673.5 582.1l.9 -1.1M581.8 495.8l.5 -.2M668.4 528.2l1.3 -1.1M584.8 559.7l.8 -.1M663.3 566.5l.7 -.3M647.6 533.9l1.3 -1.3M630.4 531.8l1.3 -.8M624 579.9l.4 -.5" stroke="#4a7ad0" stroke-width="5.4" stroke-linecap="round"/><path d="M571.3 534.4l1.6 -.6M606.3 584.8l1 -1M574.9 541.3l1.1 -.6M616.7 521.3l.4 -.2M653.4 495l1.6 -1.2M678.2 525.8l.7 -.5M602.3 585.1l1.3 -1.4M678.5 540.6l2 -.5M573.8 502.3l1 -.4M639.4 507.7l.7 -.2M645.7 570l1.3 -1.6M666.8 517.9l1 -.5M639.8 569.5l1.1 -.4M662.6 585.9l1.3 -1.1M594.1 535.9l1.3 -.7M634.4 506.7l1.7 -.8M669.4 603.9l.6 -.3M591.9 583.7l.6 -.6M676.5 569.3l2 -.6M638.6 530.9l.9 -1M657.1 556.3l1.1 -.5" stroke="#2a54b8" stroke-width="5.4" stroke-linecap="round"/><path d="M574.3 561.5l1.3 -.9M642.6 538.3l.7 -.4M648.5 581.1l1.2 -.9M660.3 552.4l.5 -.2M606 558l1.9 -.7M660.8 592.2l.7 -.3M622.9 537.7l.7 -.2M641.6 554.4l1.5 -.9M621.7 594.4l1 -.2M601.2 544.7l1.2 -.7M618.5 539.9l.6 -.1M581.2 581.5l.3 -.3M658.7 497.5l.6 -.2M600.6 509.9l1.2 -1.4M678.7 593.9l1.5 -1.3" stroke="#2848a8" stroke-width="4.0" stroke-linecap="round"/><path d="M606.8 514.9l1.5 -1.4M602.4 596.1l1.3 -1.5M578 594.5l1.9 -1M606.4 579.6l1.4 -.5M578.5 564.2l.9 -.7M660.8 523.9l1 -.3M592.6 504.8l1.5 -1.5M619 567.1l1.2 -.5M580.9 585.2l1.5 -.4M577.6 605.5l1.4 -1.5M600 538.8l.4 -.2M655.7 585.6l2 -.4M642.3 570.5l1.1 -.6M611.8 588.7l.8 -.3M670.9 501.3l1 -.3M614.3 553.4l1.3 -1.3M601.3 569.5l1.5 -.5M622.1 596.8l1.5 -.9M661.4 598.7l1.3 -.3" stroke="#2848a8" stroke-width="5.4" stroke-linecap="round"/><path d="M610.4 504.2l1 -1.1M607.9 564.3l1.1 -1M648.9 503.3l1.3 -.8M586.7 581.5l1.5 -1.6M658.4 501.9l1.3 -.7M601.8 499.5l.6 -.7M640.5 560.9l1.3 -.3M598.5 552.8l.8 -.5M628.5 581.9l1.7 -1M576.2 495.6l1.2 -.4M612.9 549.4l.7 -.1M631.5 535.8l.4 -.3M657.3 501.4l.9 -.2M667.5 564.1l1.7 -.4" stroke="#4a7ad0" stroke-width="4.8" stroke-linecap="round"/><path d="M592.1 529.5l1.5 -1M670.5 579.5l.6 -.7M608.5 509.8l1.9 -.4M659.6 556.8l1.3 -.4M626.6 562.8l.4 -.2M572.1 561.4l1.2 -1.4M662.4 521.6l1.3 -.1M632.2 499.8l1.7 -1.2M676.6 521l.7 -.2M576.1 534.7l.8 -.1M654.9 527.7l1.5 -1.6M647.3 532.3l1.6 -.8M597.1 589.7l.5 -.5M609 502.1l1.3 -.3M616.8 520.5l1.1 -1.3M626.4 573.4l2 -.3M575.1 521.6l1 -.7M648.6 566.2l1.8 -.7M654.7 543.2l2.1 -.3M658.2 556.7l1.3 -.8M579.1 508.3l1 -1M628.8 519.7l.8 -.8M655.7 527.3l1 -.5M677.1 515.3l1.1 -.6" stroke="#4a7ad0" stroke-width="4.0" stroke-linecap="round"/><path d="M649.6 520.6l1.5 -1.5M674.3 559.4l.8 -.2M597.6 545l1.2 -.6M609.9 496.9l1.5 -.3M620.9 513l1.5 -1.4M633.2 560.2l1.1 -.3M630.3 509.3l1.1 -1M571.7 534.8l.9 -.7M648.6 576.4l.4 -.2M679.3 500.4l1.7 -.4" stroke="#2f5cc0" stroke-width="5.4" stroke-linecap="round"/><path d="M664.9 541.9l.7 -.2M677 564l1.6 -.3M615.2 561.7l1.1 -.2M626.6 593l1.8 -1M622.3 532.9l.8 -.6M632.9 584.9l1.8 -.4M601.5 579.8l.7 -.6M621.1 519.6l.8 -.3M588.1 525l.9 -.2M626.9 602.9l.3 -.3M647.7 527.5l.5 -.6M640 579.3l1.6 -1.1M594.9 558.9l2.1 -.3M595.2 510l.9 -.2M591 578.2l1.7 -.2M625.2 571.9l1.8 -1.2" stroke="#3a6ad0" stroke-width="4.8" stroke-linecap="round"/><path d="M640.6 498.3l1.5 -.8M616 557.3l.6 -.2M666.3 562l1.4 -1.2M678.1 570.3l1.8 -.6M632.9 598.8l.8 -1M596.2 520.4l1.4 -.5M647.8 556.1l1.5 -1M632.8 506.8l.6 -.2M579.7 564.3l.5 -.6M644.2 586.5l1.8 -1.1M650.1 593.9l2 -.5M593.1 528.2l1 -1M655.1 500.5l.9 -.7M616.3 555.4l1.9 -.4M612.5 603.1l.9 -.2M581.4 516.9l.9 -.2M633.9 495.1l1.5 -.3M582.6 514.8l.9 -.6M598.3 546.4l1.2 -1M598.6 515.8l.9 -.3" stroke="#3a6ad0" stroke-width="5.4" stroke-linecap="round"/><path d="M672 502.6l1.1 -.7M642.9 531.3l1.5 -1.3M630.1 597.3l.7 -.5M674.3 558.6l.8 -.4M583.3 526.3l.7 -.4M642.6 525.3l1.9 -.3M608.2 585.8l1.4 -1M665.1 541.4l.6 -.5M638.6 503l.7 -.9M606.8 541.7l1.1 -.5M680.5 600.6l1.3 -.2" stroke="#2a54b8" stroke-width="4.0" stroke-linecap="round"/><path d="M621.4 539.9l.7 -.2M615.7 600.1l1 -.4M668.7 503.8l1 -.8M591.2 586l1.5 -1M600.6 525.9l1.3 -.2M644.6 588.6l.7 -.4M651.4 528.3l1.4 -.7M636.5 529.6l2 -.6M640.9 514.3l1.8 -.7M577.6 535.4l.8 -.4M578.4 524.7l1.3 -.4" stroke="#3a6ad0" stroke-width="4.0" stroke-linecap="round"/><path d="M602.7 549l1.7 -.4M577.7 548.7l1.2 -.2M594.2 515.7l1.8 -.6M620.8 583.9l1.1 -.2M664.6 592.4l1.7 -.6M642.8 513.4l1.3 -.8M649.9 565.5l.9 -.3M616.5 542.8l1.8 -1.2M575 540.3l.9 -.4M653.8 581.3l1.5 -.4M643.1 496.8l1.3 -1.3M599.1 578.1l.4 -.4M641.7 601.5l.6 -.7" stroke="#2a54b8" stroke-width="4.8" stroke-linecap="round"/><path d="M680.1 507l.4 -.5M660.2 496.4l1.1 -.8M581.3 565.9l1 -.9M675.7 515.7l.4 -.3M649.9 495.6l.8 -.2M626.3 513l.6 -.6M573.6 543.1l1.6 -.6M587.3 520.9l1.4 -.4M590.8 543.3l.6 -.7M620.7 551.8l.4 -.1M585.5 598.1l1.6 -.4" stroke="#2f5cc0" stroke-width="4.8" stroke-linecap="round"/><path d="M618.1 589l.7 -.4M629.2 524.3l.7 -.4M612.8 539.5l.6 -.2M576.9 602.9l1.7 -.8M610.9 531.1l.5 -.5M649.2 501.2l1.3 -1.2M616.2 545l.6 -.3M626.8 546.8l.7 -.2M645.7 593.4l1 -.8M642.7 575.5l.8 -.7M625.3 601.1l1.2 -1.3M593.8 530.7l1.8 -.7M586.9 563.6l1.6 -1.2M657 562.3l.9 -1.1M573.5 584l1.5 -.9M598.6 514.6l1.3 -.3M580.8 561.8l.6 -.4M635.3 596.9l1.1 -.5M598.9 574.4l1.7 -.3" stroke="#2f5cc0" stroke-width="4.0" stroke-linecap="round"/><circle cx="601" cy="575" r="3.2" fill="#06140a"/><circle cx="604.5" cy="575.8" r="3.4" fill="#4ae050"/><circle cx="652" cy="553" r="2" fill="#40c850"/><circle cx="654" cy="550" r="1.5" fill="#50d860"/></g></g>
<g clip-path="url(#c15)"><g filter="url(#soft)"><rect x="572" y="604.9" width="106.8" height="105.9" fill="#155a1f"/><path d="M606.6 678.5l0 2.7M604.6 635.8l1.6 .5M572.6 692.1l-1.6 2.4M659.7 604.4l.7 2.3M644.8 629.9l-0 1.4M624.4 624.7l-2.5 3M655 609.8l-1.1 2.3M615.4 655.3l-.5 1.9M596.2 636.8l-.5 .7M680.8 682.6l-.1 2.8M596.3 708.7l-.8 1.5M635.9 635.8l-1.4 .1M637.1 702.5l-.9 .3M583 688.9l-.3 2.9M680.6 706.1l2 .1M615.4 620l.7 .8M573.9 687.3l-3.5 1.4M576.9 612.1l.7 .7M676.2 696.3l1.5 .8M571 664.2l.6 1.5M667.2 647.3l-3.2 1.3M649.6 628.8l-1.4 .5M636 667.2l-2.2 2.6M611.9 682l-.7 1.1M607.9 708.2l-2 .4M578.5 631.8l1.2 1.8M613.1 638.4l-2.9 1.2M620.7 626.3l-3.2 2M645.3 651.3l2.8 1.6" stroke="#38b048" stroke-width="2.4" stroke-linecap="round"/><path d="M670.3 633.9l1 .8M634.7 625.2l-.9 .1M574.8 664.1l1.6 2.8M584.2 678.6l-1.9 .5M587.2 636.3l-.3 1.8M621.5 679.3l2.8 2M587 694.5l3.6 .7M603.3 631.4l.3 1M603.7 622.8l2.2 0M627.1 607.9l0 1.4M605.5 647.1l.2 1.5M590.4 651.1l-.3 1.9M626 620.2l2.9 1.7M570.4 610.4l-.4 .7M594.8 689.8l-.5 2.3M612.2 627.9l-1.6 2.3M597.7 654.2l.6 1.1M670.4 700.4l-.4 1M659.5 635.7l-.2 3.8M647.5 628.6l-2 2.9M607.4 624.7l-1.6 1.4M639.7 693.4l2 3.2M573.6 637.5l.6 3.6M595.7 609.9l.3 3.8M639 653.7l-2.1 2.2M619.8 659l-1.7 3.2M660.2 618.5l-1.3 1M620.5 700.3l-.9 .4M608 671.9l-.1 3.9M657.6 671.4l-.9 3.3" stroke="#48c058" stroke-width="1.6" stroke-linecap="round"/><path d="M673.1 684.1l-2.4 2.5M609.8 667l-2.5 2.7M661.1 615.1l-1.5 .2M659.1 619l3.2 .3M611.3 661l-.1 2.4M626.4 703.5l-1 2.8M619.7 643.5l-2.8 2.3M677.8 620.6l-3.3 2.2M622.5 633.5l-1 1.5M652.4 641.3l2.2 2.4M678.4 684.6l1 3.3M630.3 621.1l-2.6 2M607.7 707.6l1.4 1.7M624.3 666.5l.9 1.1M609.5 625.7l-1 .4M661.5 629.3l-1.1 .5M675.6 700.7l-.7 .6M677.4 605.2l-3 .8M616.9 610.3l3.7 .6M588.6 697.4l3.1 1M589.4 641.6l.3 3.8M601.6 688.5l2.4 .4M648.4 608l-.5 1.9M666.9 666.5l-.3 1.6M677 622.5l-.4 .7M666.2 655.1l1 3.8M619.2 613.5l-.5 3.7M636.3 699.2l.1 2.5M670.2 643l-2.8 0M578.1 696.7l-3 .6M665.6 674.9l-1.1 .8M647.8 638.4l-.3 1.5M621.1 609.3l-.2 1.4M640.7 608.3l3.5 1.7M677.9 609.6l-1.3 .2M671.5 628.1l2.1 .3M666.5 619.8l3.1 2.5M649 675.5l-.1 3.1M636.5 699.6l-1.9 2.1M667.2 614.7l1.6 2M582.5 710.1l-.5 2.6M634 603.5l.3 1" stroke="#2a9a3a" stroke-width="1.6" stroke-linecap="round"/><path d="M623.3 641.6l-0 1.2M673.8 647.9l.6 2.2M606.8 706.2l1.5 .5M589.5 605.7l1.5 2.5M595.4 639l2.7 1.5M680.5 707l.3 1.6M670.6 697.4l2.9 1.3M638.2 679.6l2.9 .2M583.2 689.4l3.9 .8M612.8 697.4l1.2 1.6M678.9 700l3.1 2.3M663.5 685.5l2.1 .2M599.3 686.1l.3 1M642.1 617.2l1.7 .3M641.4 651.2l2.8 2.7M679.6 665.1l-0 3.8M597.8 606.4l1.2 3.3M588.3 682.6l.5 2.8M623.2 657.1l-.6 2.4M618.8 656.2l-.4 3.8M644.5 652l-3.2 1.1M574 631.7l-3.6 0M617.6 675.9l-2.4 1.7M620.6 680.2l.4 .9M596.1 604l-.7 2.1M659.9 699.6l-1.4 1.4M639.7 617l-2.7 .1M672.3 679.6l-.7 .6M659.1 681.4l-3.8 .8M649.5 637.4l.6 .8M616.2 692.7l.9 .4M641.5 645l-.2 1.6M589.7 637.3l-1.9 2.7" stroke="#48c058" stroke-width="2.4" stroke-linecap="round"/><path d="M663.1 693.1l1.2 3.3M600.6 651.7l.7 .6M672.1 606.7l2.8 1.8M659.6 707.1l-.8 2.1M671 657.5l-1.6 3.4M630.9 668.4l2.9 2M662.5 707.4l-2.1 .6M624.7 617.2l1.5 2.3M609.1 677.7l-.6 1.4M662.7 646.1l1.8 .9M623.1 638.3l1.8 2.3M603.8 707.4l-0 1M638.7 635.7l.4 2.7M596.2 691.2l.7 3.7M650.8 653.1l-0 2.2M614.4 625.3l.6 2.2M576.7 645.2l-.4 1.4M620 622l-3.8 .6M602.8 608.8l2.4 .8M638.7 708.1l.5 3.6M617 683.6l-2.5 2.5M581.4 606l.2 .9M651.7 660.2l1 .6M636.5 671.6l-.7 1.3M645.7 681l3.9 .3M670.1 641.3l1.5 .5M679 634.9l1.6 2.6M614.8 607.3l-3.7 1.6M675.3 652.1l.8 2.8M662.4 689.9l-3.8 .6M571.1 670.3l-2.8 1.4M636.7 665.5l1.8 1.6M572.2 605.6l-2.3 .8M582.4 622.5l-2.4 .2M657.8 693.9l-.2 1.1M583.9 662.8l.6 1M638 610.5l1.5 .3M644.4 639.8l-.7 2M613.1 648.9l-3.3 2.1" stroke="#38b048" stroke-width="1.6" stroke-linecap="round"/><path d="M654.9 629.5l2.1 1.2M665.9 640.8l.1 2.3M583.4 660.7l3.2 1.2M661.9 705.1l3.9 .2M653.9 616.5l3.4 .2M618 675l2.1 2M680.3 610.5l2 3.1M660.9 649.7l2.4 2.4M670 679.5l-.4 3.9M582.6 606.4l.4 1.5M650.8 658.2l-1.1 1.6M592.3 687.3l-2.9 2.4M654.9 668.1l-.1 .9M594.8 652.5l-2.6 2.7M673.3 664.9l-.4 1.2M646.3 708.8l-1.3 .3M605.9 699.9l2.7 .6M676.2 643.4l-.1 3.7M605.3 701.1l.8 1.8M617.4 672.4l-1.1 .1M674.4 661l1.5 .9M672.3 651.8l1.1 .2M592.9 657.3l-3.4 1.3M580.8 619.9l-.3 3.9M657.8 697.1l-3.2 1.1M670.3 706.9l-.9 2.2M580.9 674.4l.1 1.5M656.8 625.2l1.5 0M645.1 694.9l-1 .8M662.9 709.5l.5 2.5M589.9 619.7l-3.9 .6M607.7 634.4l-.7 1.1M627.7 689.8l2.1 .3M659.2 672.1l-1.2 .2M665.2 667.1l-.9 .3M587.1 706.4l-2.7 .4M658.9 683.3l1.8 3.3M628.1 649.2l-2.9 1M578.1 682.3l-.6 1" stroke="#0e3a14" stroke-width="2.4" stroke-linecap="round"/><path d="M657.2 712.3l-2.2 .8M606.4 703.4l1.2 .1M603.8 703.2l.6 .8M644.6 658.1l-.6 .8M611.2 711.1l-.1 1.4M590.2 706.7l-1.2 1.6M641.5 623.5l-1.7 .4M596.9 604.6l.9 .4M672.1 604.4l-3.5 .8M653.9 707.6l-1.1 2.9M611.3 710.8l.5 1.4M658.4 622.1l-1.7 1M676.2 683.1l-1.7 3.2M621.3 710.1l2.3 0M599 705.2l2.8 1.5M615.2 632.5l2.2 .9M655.1 656.5l-2.7 .6M644 661.4l-.9 1.2M571.7 628.8l.9 .5M579 661.9l-3.4 .4M649.1 651.2l-1.3 1.1M625.7 638.1l-1.3 3.2M666.1 696.5l-1 2.8M626 675.1l2.4 .9M606.2 659l-1.8 1.1M662.8 603.8l-1.3 1.1M613.3 675.7l1.4 2.9M659.2 700.8l.1 1.5M662.3 671.4l-1.3 .2M593.3 693.3l-.9 .7M639.7 618.6l-.3 2.1M600.9 634.4l.4 3.6M634.2 659l-3.5 1.2M604.8 606.6l-1.7 2.6M600.4 607.3l.2 1.1M581.7 671.4l-.3 4M570.5 677.3l2.5 1.3M600 707.2l-1.2 0M676.3 614.4l1.8 1.1M594.9 666.7l-2.5 3M669.7 686l1.1 .6" stroke="#0e3a14" stroke-width="1.6" stroke-linecap="round"/><path d="M677.3 676.5l.8 3.3M642.2 667.4l.7 .6M669.9 687.3l2.3 .4M633.6 710.5l-2.4 2.1M624.8 639.3l-.8 1.7M638.8 649.8l-.3 2.6M599.8 675.4l-.7 3.3M645.4 695.9l-2.5 2.8M667.1 665.6l.8 1.4M599 668.8l-2.9 1.7M595.3 685.1l2.1 0M587.7 632.8l3.8 .1M591.1 685.7l2.2 .1M618.3 659.1l3 1.4M572.1 659.5l-1.7 .8M608 700.7l.8 2.5M618.1 665.7l.6 3.3M640 636.1l-1.5 .7M637.5 615.5l-2.7 1.6M572.4 707l3.1 2.2M653.5 636.9l-1.3 .1M613.2 635.2l1.6 .1M631.4 608.8l-.5 1M589.7 698.9l1 .4M664.8 658.9l-2.7 .7M573 662.4l-2.3 .8M679.8 710.3l-.6 1.3M651.4 695.2l-1.7 .6M621.1 700.3l1.5 1.7M653.6 667.7l-.5 2.4M597.9 621.7l2 1.6M602.7 692.3l.7 .5M604.2 630l-.5 2.5M635 648.4l.3 .9M620.2 669.1l1.3 3M617.8 609.2l.8 .7M632.9 604.4l-1 .5M639.2 678.1l.6 2.5M634.3 667.1l1 1.8M578.6 700.6l-2.4 .2M618.3 609.9l-1 3.8M665.7 711.2l1.3 2.7M677.8 660.9l-1.1 1.4M674.1 619.9l3.1 1.1M629.1 633.7l-.6 1.5M621.6 636.6l-2 2.7M677.2 708.4l-.1 1.8" stroke="#2a9a3a" stroke-width="2.4" stroke-linecap="round"/><ellipse cx="623.5" cy="613.5" rx="16" ry="11.5" fill="#000"/><ellipse cx="594.9" cy="629.5" rx="11.5" ry="9.5" fill="#000"/><ellipse cx="577.4" cy="618.3" rx="7" ry="11" fill="#000"/><ellipse cx="580.5" cy="666" rx="11" ry="13" fill="#000"/><ellipse cx="577.4" cy="693" rx="7.5" ry="13" fill="#000"/><ellipse cx="618.7" cy="704" rx="15" ry="10.5" fill="#000"/><ellipse cx="644.2" cy="670.8" rx="9.5" ry="9.5" fill="#000"/><ellipse cx="677" cy="691.5" rx="6" ry="8" fill="#000"/><ellipse cx="665" cy="631" rx="6" ry="6" fill="#000"/><ellipse cx="605" cy="655" rx="4.5" ry="4.5" fill="#000"/><ellipse cx="657" cy="705" rx="6" ry="5" fill="#000"/><path d="M650.9 684.5l.1 1.3M663.6 681.9l-1.1 1.5M595.4 659.3l-.9 1.3M618.4 651.1l-1.1 .3M636.9 658.7l-1.2 1.3M677.1 650.6l-.1 .6M627.2 651.8l.9 1.2M605.7 663.8l-1.4 .8M668.8 618.3l.6 .9M644.3 644.2l-1.2 1.3M608.4 673.1l.3 .6" stroke="#2e60d0" stroke-width="3.6" stroke-linecap="round"/><path d="M643.7 685.8l-.7 .5M603.3 693.9l1.2 .2M629.3 651.8l-.7 1.5M614.1 662l-1.7 .2M629.5 631.5l1.2 1.5M580.9 632.5l1.1 .5M618.9 679.5l1.2 .7M595 695.8l-.6 .4M625 675l-.3 1.2M673.4 611.3l.5 .5M672.9 683.5l.3 1.3" stroke="#5a90ea" stroke-width="4.4" stroke-linecap="round"/><path d="M599.7 644.3l.7 .5M586.5 604.4l-.9 1.2M673.4 701.4l-.7 1.5M669.9 660.1l.4 .2M659.5 617.8l.6 1.5M594.3 708.1l-1.4 .6M629.9 662.2l-1.2 .8M645.3 604.2l-.1 .5M651.9 626.9l-.5 1.4M591.1 605.5l.8 .3M672.7 708.9l1.7 .3M614.4 690.8l-.2 1.2M667.1 665.1l.5 .2" stroke="#3a70e0" stroke-width="5.0" stroke-linecap="round"/><path d="M635.9 691.6l.4 0M677.2 664.8l1.3 1M623.6 684.1l1.6 .6M666.3 668.5l.5 .3M644.3 636.3l-0 .5M669.9 677.2l-.4 .5M597.8 681.6l.9 .3M573.9 630.5l-.4 1.6M607.3 620.3l.3 .5M612.6 631.8l-1 0M584.5 645.4l-1.4 .2" stroke="#2e60d0" stroke-width="5.0" stroke-linecap="round"/><path d="M597.7 677.3l-.1 .5M650.7 689.1l-1.4 1.1M584.9 706.9l.3 1.3M664.8 676.7l.3 .6M592.6 671.8l-.6 1M609.9 642.4l-.1 1.3M601 660.2l-.5 1M632.5 670.9l1.5 .9M612.5 657l-.7 .4M637.4 624.1l.8 .2M618.3 673.1l.6 1.2M658.4 638.6l-0 1.2M581.5 640.6l.6 .5M677.4 627.7l-1.4 1.2" stroke="#2e60d0" stroke-width="4.4" stroke-linecap="round"/><path d="M607.6 688.7l.4 1M607.6 606.3l-1.5 .9M677.4 611.1l-1.9 .6M651.1 620.3l-.6 .3M592.7 702l-.9 1M571.7 608.2l.8 1.2M591.5 683.5l1.2 .1M673.6 604.1l-.5 .1M573.1 679.6l.7 .6M578.1 712l-.9 1.2M631.2 655.6l-1.3 .8" stroke="#3a78d8" stroke-width="4.4" stroke-linecap="round"/><path d="M657.7 607.4l-.6 .6M671.7 653.4l-1.2 .9M660.7 614.6l.9 .5M598.1 663.1l-1.6 .1M654.1 679.4l1.5 .7M612.4 653.6l.3 .6M663.6 658.2l-1.2 .5M623.2 662.9l.4 1.1M647.5 707.7l-1.1 .9M599.7 705.7l1.9 .1M642.9 692.4l-1.1 .8M618.9 685.6l-.6 1.4" stroke="#3a78d8" stroke-width="3.6" stroke-linecap="round"/><path d="M660 658.5l-.4 1.6M570.8 638.2l-.8 1.2M640 632.5l.5 .8M627.8 658.9l-.6 1M662.3 652.3l.2 1.5M637.6 697.7l.4 .7M611.8 683.4l-1.7 .7M611.8 672l.5 .2M601.4 711.2l.7 1M635.7 685l0 .4M675.4 656.4l-.6 1.8M572.8 707l-1.7 0M658.1 653.5l.2 1.8M608.2 644.1l.7 1.1M644.2 653.8l.7 .9" stroke="#4a80e8" stroke-width="3.6" stroke-linecap="round"/><path d="M588.9 694.4l.7 1.4M677.9 672.8l.5 1.1M597.5 691.1l-1.1 .7M614.4 679.7l-1.2 1.2M653.8 638.8l-1.6 .5M669.2 642.9l.8 .3M655.5 666.1l-1 .5M639.5 704.3l-.7 1.3M665.6 710.9l-.8 .3" stroke="#3a70e0" stroke-width="4.4" stroke-linecap="round"/><path d="M663.1 606l-1.3 .3M591.8 653.9l1.6 .9M677.6 632.8l1.1 1.2M633.6 677.1l.5 1.3M665.7 689.1l-1 1.4M637.6 645.7l.8 1.3M671.1 663.6l-.2 1.5M579.6 651.2l-.1 1.5M649.7 650.9l-.8 1.7M675.6 616.9l1 .1M587.3 682.2l-.9 .2M594.5 614.9l-1 .4M621.4 666.7l-.8 .9" stroke="#5a90ea" stroke-width="5.0" stroke-linecap="round"/><path d="M679.6 709.7l1.3 .5M626.5 637.4l-.8 .3M624.7 669.4l.1 .8M657.7 694.8l-.8 1M632.9 691.5l.9 1.4" stroke="#4a80e8" stroke-width="5.0" stroke-linecap="round"/><path d="M588.1 650.4l.9 1.6M649.9 644l1.5 .9M677.7 643.8l-.1 1.7M606 611.1l.5 .6M645.1 633.9l.4 .7M644.7 618.4l.4 .2M577.1 642.3l.3 .4M604.7 683.7l.8 .2M674.9 676.4l.1 .8M600.6 618.4l-.5 1.6" stroke="#4a80e8" stroke-width="4.4" stroke-linecap="round"/><path d="M631.2 645.7l1.3 .6M620.1 689.7l.7 0M642.5 609.9l.7 0M658.3 689.4l0 .9M619.1 656.1l.5 .4M664.9 617l.2 1M625.2 690.1l-.6 .1M598.7 610.3l-1 .7" stroke="#3a78d8" stroke-width="5.0" stroke-linecap="round"/><path d="M657.6 678.3l-.6 .8M570.9 652.3l-.5 .8M573.4 642.5l.1 1.1M655.5 672.3l1.8 .8M658.6 682.5l-1.1 .7M623.7 631.9l-1.6 1M593.7 689.6l-.1 1.9M619.8 631l-.5 .5M610.2 626.4l-.7 .3M654 659.3l.4 .6" stroke="#5a90ea" stroke-width="3.6" stroke-linecap="round"/><path d="M599 672.9l-.4 .6M637.4 709.5l-.9 1.2M662.2 645.4l-1 .1M620.3 644.9l1.7 0" stroke="#3a70e0" stroke-width="3.6" stroke-linecap="round"/></g></g>
<g clip-path="url(#c25)"><g filter="url(#soft)"><rect x="572" y="712.2" width="106.8" height="106.6" fill="#000004"/><path d="M655.5 762.7l4.8 -3.7M615.2 718.2l3.2 -2.4M635.1 783l3.9 -1.8M606.3 814.7l5.8 -2.8M589.7 719.4l2.4 -1.7M679.5 788.6l4.7 -2.6M623 768.9l1.6 -.2M580.1 761.9l1.6 -1.5M628.4 776.8l4.1 -2.4M575 763.3l2.3 -.2M667 754.9l2.5 -.4M676.7 801.9l1.9 -1.9M617.3 733.8l5.1 -3.8M659.3 817.9l5.8 -2.3M630.2 792.4l1.3 -.7M582.6 787.5l4.8 -2.3M653.1 792.6l5.2 -2.4M592.6 719.1l2.7 -.4M626.4 719.4l3.2 -1.3M663.6 788.6l1.3 -1.1M592.8 760.2l3.6 -3.5M641.8 817.2l4.9 -2.8M639.9 799.7l1.7 -.2" stroke="#207a30" stroke-width="1.2" stroke-linecap="round" stroke-opacity="0.75"/><path d="M616.8 759.9l2.6 -1.6M673.3 803.8l5.2 -1M679.1 732.7l6.1 -3.2M638.5 728.4l3.3 -2M578.9 739.5l1.9 -.4M673.7 760.9l5.6 -3.3M652 763.4l4.4 -1.6M638.4 782.9l3.1 -.8M673.6 731l4.3 -3.3M665.6 761.4l4.3 -1.7M663.2 732.5l3.1 -2.2M579.3 729.4l3.3 -1.7M612 759l1.5 -.8M592.6 718.5l3.3 -2.2M572.4 812.2l2 -.2M659.2 762.1l2.3 -.4M651.6 758.8l2 -1.9M608 758.6l3.8 -2.3M613.7 724.2l4.5 -2.8M580.7 723.6l4.5 -4.1M648.2 777.7l3.7 -2.9M644.6 760.4l1.1 -1.2M659.3 757.4l4.1 -1.3M646.4 779.2l1.3 -1M570.8 816.6l4.5 -3M640.5 767.5l1.5 -.8M573.1 786.8l1.6 -.4M642.9 798.5l5.3 -.4M661.2 799l4.8 -1.4" stroke="#2a9a3a" stroke-width="1.2" stroke-linecap="round" stroke-opacity="0.75"/><path d="M585.3 803.6l1.5 -1.1M643 773.5l3 -1.2M611.9 784.5l4.5 -4.6M659 796.8l3.6 -2.8M618.3 790.6l3.3 -1.9M637.8 720l4.1 -1.4M643.9 768.9l5 -3.9M609.2 813.1l2.2 -1.9M677.9 715.9l3.2 -.4M572 812.2l1.4 -.2M645.3 715.3l1.8 -.1M609.3 757.2l2.1 -1.9M626.7 721.6l1.3 -.9M578.1 719.2l6 -3.1M575.5 718.2l1.5 -1.4M637.7 784.5l3.6 -1.9M579.1 812.1l6 -2M611.8 732.7l6.3 -.5M643.9 810.6l3.3 -3.4M651.7 784.2l4.8 -1.8M645.6 772.2l4.3 -.6M650.9 753.4l2.1 -1.7M610.1 731.4l4.3 -.6M679.1 753.8l4.4 -1.7M673.4 808.7l4.3 -3M666.6 798l4.4 -.3M586.4 720.1l4.9 -1.8M597.4 784.1l1.4 -.6M620.6 811.1l3 -2.6M620.8 808.5l2.9 -1.1M660.3 806.7l1.7 -.9" stroke="#3ab048" stroke-width="1.2" stroke-linecap="round" stroke-opacity="0.75"/><path d="M643.4 802.9l2.1 -1.1M608.1 713l2.4 -1.4M643 758.6l5.2 -3.7M572 738.4l2.4 -1.5M653.7 804.9l2.8 -1.4M645.4 783.3l3.6 -3M606.3 800l2.8 -.3M635.7 789l1.4 -1.3M673.9 766.5l1.7 -1.1M667.3 787.9l4.1 -1.2M608.2 810.9l5.6 -3.2M574.5 732.7l4.4 -2M583.5 735.2l3.1 -2.1M669.4 726.8l3.2 -1.2M615.7 784.2l3 -1.1M611 788l6.2 -.7M626.9 791.4l1.3 -1M668.6 790.7l6.9 -1.1M576.8 818.9l1.4 -.5M661.9 719.5l5.7 -2.6M594.7 712.5l5.2 -.9M620.5 737l5.7 -2.4M672.9 788.4l4.2 -1M607.6 816.4l4.4 -.3M680.1 762l2.3 -1.4M615.1 778.8l6.6 -1.8" stroke="#2a9a3a" stroke-width="1.8" stroke-linecap="round" stroke-opacity="0.75"/><path d="M663 781.1l4.4 -3.2M639.8 734.1l1.4 -1.5M634.1 817.6l2.3 -2.1M615.6 725.4l2.5 -2.1M668.3 752.5l3.1 -2.7M590.1 791.9l2.9 -1.1M587.1 804l1.6 -.3M660.9 753.7l3.8 -1M625.5 749.7l4 -1.3M619.1 808.7l3.8 -1.6M584.2 766.4l3.1 -1M601.7 810.2l3.6 -3.5M652.7 712.8l5.6 -3.7M640.2 758.2l1.7 -1.2M588.6 733.4l3.5 -1.5" stroke="#3ab048" stroke-width="1.8" stroke-linecap="round" stroke-opacity="0.75"/><path d="M636.1 777.8l3.6 -.2M605.1 723.3l3.7 -3.2M634.8 723.2l3.2 -3M627.2 746.9l1.8 -1.4M661.4 792.1l5.5 -3.8M573.3 816.9l6.2 -1.9M588 711.1l1.4 -.1M663.2 802.1l2.1 -1.1M629.6 790.4l1.4 -.3M632.2 789.2l2.6 -.5M661.4 812.9l3.5 -1M665.1 730.4l4.5 -.3M634.2 729.1l3.4 -2.2M589.2 768.4l4.2 -2.9M584.6 810.4l2.6 -1.7M606.8 810.3l5 -3.2M615.6 795.9l1.6 -.8M595.4 815.9l2.6 -2.7M613 805.8l1.3 -.9" stroke="#207a30" stroke-width="1.8" stroke-linecap="round" stroke-opacity="0.75"/><path d="M677.4 756.7l-1.6 1M656.1 710.8l-.2 1.8M647.8 728.1l0 .5M625.3 770.2l-1.2 .1M623.5 730.9l-.9 .4M614.1 770l.3 .8M636.7 775.6l-.4 1.3M577.7 727.5l-.4 .7M637.6 783.5l-1.7 .9M613.7 812.3l-1.1 .4M623 804.4l.5 1.5M652 715.1l-.1 .8M659.6 813.3l.7 1.7" stroke="#4a88d0" stroke-width="5.0" stroke-linecap="round"/><path d="M642.3 753.8l-1 .3M612.8 730.4l-.5 .1M605.8 766.7l.2 .8M608.9 778.9l.6 1.5M644.7 722.2l.9 1.2M588.8 733l.5 .6M653.6 794.8l-.3 1.3M591.1 763l-1 1.5M581.2 795.4l-1.1 .2M584.9 761.1l-1.1 .8M581.8 730.6l-.7 1.4M621.7 820.3l.4 .3M680.2 774.7l.6 1.5M671.4 714.6l-.2 1M669.4 758l1.3 .6M680.7 711.4l.5 .4M634 779.5l1.4 .6" stroke="#2a48e8" stroke-width="4.2" stroke-linecap="round"/><path d="M674.9 763.8l-.4 .3M618.6 790.3l1.6 .4M620.5 816.5l1.8 .3M673.9 718.5l0 1.9M663 804.5l.7 1.7M596 815.7l.8 .7M670.9 776.5l-.1 .7M676.6 758.2l.7 .8M637.1 798.7l1.2 0M586.7 816.3l-.7 .3M626.2 728.6l1.5 .6M656.8 717l1.4 .6M635.1 765.6l-.1 .7M571.3 819.4l1.3 1.2M585.4 763.7l.7 .9M600.4 816.4l1.1 .5M599.8 797.3l-0 .6" stroke="#1828c8" stroke-width="4.2" stroke-linecap="round"/><path d="M658.6 755.6l-.6 .6M630.4 731.8l-1.3 1.2M609 784.3l-.1 .4M669.1 715.2l-.8 .1M615 730.7l-.1 .7M625.3 809.2l-.9 .5M680 778.5l-.2 .7M663.3 805.3l-.4 1.6M635.2 766l.7 1.7M592.5 807.2l.4 .8M666.3 792.4l.7 1.2M578 785.2l-.5 1.4M679.9 710.3l1.9 .3M655.1 778.5l-.1 .6" stroke="#3a68d8" stroke-width="3.4" stroke-linecap="round"/><path d="M621.2 794.9l-.9 .7M574.4 781.8l-.2 .6M655.7 757.4l1.4 1.1M582.7 819.6l-1.3 1.5M581.2 786.6l1 1.3M662.3 818.5l-.9 1.1M633 796.1l-.9 1.4M609.6 761.9l.1 .7M669.9 787.4l1.1 .5M649 786.1l-.5 .9M624.5 777.3l-.9 .8M616.4 765l-.3 .4M623 773.2l-.3 1.5" stroke="#3a68d8" stroke-width="5.0" stroke-linecap="round"/><path d="M618.5 818.1l.6 .6M640.3 767.3l.4 .2M631.4 730.3l.3 1.4M580.7 735.3l-.3 .3M635.2 763.6l.8 .2M673.6 713.1l.2 1.2M609.9 726l-1.6 .3M656.2 767.1l1.5 .9M606.9 714l-.2 .5M677.1 788.4l1.2 .7M577.2 765.6l.5 1.7M585 804.9l-.4 .1M623 790.6l.4 1.4M641.7 766.6l-0 1.4" stroke="#2030e0" stroke-width="5.0" stroke-linecap="round"/><path d="M673.7 775.4l-.4 1.7M621.8 773.7l.8 1.3M660.8 755.1l-.1 .4M598.3 795.3l-1 .4M590.9 807.9l-.6 1.5M634.4 755.2l-1.5 .3M645.2 761.1l1 .2M618.1 793.1l1 1.2M583.7 818.7l.4 .5M626.3 746.2l-.1 .6M644.2 818.2l-.3 1.7M660.1 731.1l-1.7 1" stroke="#2a48e8" stroke-width="3.4" stroke-linecap="round"/><path d="M611.1 772.5l1.5 .7M599.3 790.8l.2 .9M572.6 748.8l-1.7 .8M622.1 797.3l-.1 1M634.1 781.4l-1 1.3M677.7 803.6l.3 .5M585.6 754.4l1.5 .1M594.2 761.5l1.2 .3M641.8 723l1.5 .8M612.1 805.5l1.1 1.1M671.8 729.2l.1 1M587.8 757l-1.6 .2M655.9 784l1 .3M577.2 714.9l.8 1.7" stroke="#2a48e8" stroke-width="5.0" stroke-linecap="round"/><path d="M655.9 762.1l-.4 .2M574.3 728.1l.1 .6M678.2 756.9l-.5 1.8M628.8 771.5l-.9 .4M622.7 753.8l-1.4 .2M676.4 817.3l.6 .4M637.2 729.7l.5 .6M675.6 729.5l.2 1.4M660.9 814l.4 .9M634.5 793.4l1.4 1.4M680.2 797.8l0 .4M612.9 818.4l.6 1.8M636.6 722.8l.1 .8M579.4 796.1l-1.4 1.3" stroke="#2030e0" stroke-width="4.2" stroke-linecap="round"/><path d="M669.5 712.9l.3 1.3M668.9 805.8l1.7 .1M653.7 817.9l-1.6 1M574.4 711.5l.6 .6M662.2 719.8l1.7 .8M578.1 785.1l-.9 .9M621.4 769.2l.3 .5M649.3 799.3l-.2 .6M571.2 764.9l-.4 .9M572.8 744.6l-1.4 .4M610.4 712.9l.4 .2M612.5 723.1l.8 1.6" stroke="#1828c8" stroke-width="5.0" stroke-linecap="round"/><path d="M578 716.5l-.8 .2M678.8 780.9l1.1 .9M641.7 753.3l-.3 .4M663.7 792.8l-.8 1M609.4 766.6l-.5 .2M590 714.8l-1.3 1.4M591.1 806.9l1.4 .1M575.4 790.9l-1.1 .3" stroke="#3a68d8" stroke-width="4.2" stroke-linecap="round"/><path d="M587.5 718.9l.4 .2M679.5 766.5l-.6 .9M657.8 762.7l.3 .5M671.9 723.5l1.5 1.1M617.5 776.9l.3 .9M639.3 815.2l1.6 .1M626.7 749.2l.4 1.3" stroke="#1828c8" stroke-width="3.4" stroke-linecap="round"/><path d="M628.5 765.3l-.5 .3M665.6 799.9l.7 .2M619.4 803.3l-.7 .3M583.4 735.9l1.6 .2M646.4 758.4l-1.7 .1M641.4 820.5l1 1.4M660.1 718.9l1.3 .1M634.2 779.3l1.3 .1M679.8 729.3l.3 1.8M621.6 755.7l-.8 1M644.5 801.2l1 1M673.7 757.5l.4 .5M667 767.7l-.2 1.6" stroke="#4a88d0" stroke-width="3.4" stroke-linecap="round"/><path d="M662.9 761.2l.6 .3M619.3 784.6l-.1 .9M639.2 729.3l.2 1.3M648.2 724.5l-.2 1M571.8 730.5l.4 .5M613.5 728.5l-.9 .1M573.7 738.8l1.7 .7M596.3 785.6l-1 .6M662.9 728.4l.4 1.6M572.7 748l-1.1 1.6M647.6 815.5l.5 1.8M634.3 790l-.3 .3M594.4 801.2l.1 .5M638.9 782.1l-1.3 1.5M629 731.4l.1 1.8M676.5 816.6l.6 0M680.1 731.9l.9 .3" stroke="#4a88d0" stroke-width="4.2" stroke-linecap="round"/><path d="M600.2 762.3l-.2 .4M649.3 722.1l1.1 .4M666.9 726.2l1 1M652.6 715.3l-.5 .1M620.9 788.9l-.3 .5M636.3 784.9l.9 .3M667.9 719.7l-1.1 1.2M608.2 728l-.7 .2M573.1 799.8l-1.7 .9" stroke="#2030e0" stroke-width="3.4" stroke-linecap="round"/></g></g>
<rect x="466.4" y="505.6" width="28" height="28" fill="none" stroke="#f2f2f2" stroke-width="1.3" stroke-dasharray="3.2 2"/>
<path d="M494.4 505.6L571 497.5" stroke="#f2f2f2" stroke-width="1.3" stroke-dasharray="3.2 2" fill="none"/>
<path d="M494.4 533.6L558 591" stroke="#f2f2f2" stroke-width="1.3" stroke-dasharray="3.2 2" fill="none"/>
<rect x="527.2" y="651.4" width="28.4" height="27.7" fill="none" stroke="#f2f2f2" stroke-width="1.3" stroke-dasharray="3.2 2"/>
<path d="M555.6 651.4L570 605" stroke="#f2f2f2" stroke-width="0.9" fill="none"/>
<path d="M555.6 679.1L568.5 708" stroke="#f2f2f2" stroke-width="0.9" fill="none"/>
<rect x="505.3" y="743.6" width="29.1" height="27.9" fill="none" stroke="#f2f2f2" stroke-width="1.3" stroke-dasharray="3.2 2"/>
<path d="M534.4 743.6L571 713" stroke="#f2f2f2" stroke-width="1.3" stroke-dasharray="3.2 2" fill="none"/>
<path d="M534.4 771.5L566 815" stroke="#f2f2f2" stroke-width="1.3" stroke-dasharray="3.2 2" fill="none"/>
<path d="M544.2 597.3H565.2" stroke="#fff" stroke-width="1.5"/>
<text x="554.7" y="594.3" font-size="7.8" text-anchor="middle" fill="#fff" stroke="#fff" stroke-width="0.22">100 µm</text>
<path d="M654.3 597.3H674.3" stroke="#fff" stroke-width="1.5"/>
<text x="664.3" y="594.3" font-size="7.8" text-anchor="middle" fill="#fff" stroke="#fff" stroke-width="0.22">25 µm</text>
<path d="M544.2 704.5H565.2" stroke="#fff" stroke-width="1.5"/>
<text x="554.7" y="701.5" font-size="7.8" text-anchor="middle" fill="#fff" stroke="#fff" stroke-width="0.22">100 µm</text>
<path d="M654.3 704.5H674.3" stroke="#fff" stroke-width="1.5"/>
<text x="664.3" y="701.5" font-size="7.8" text-anchor="middle" fill="#fff" stroke="#fff" stroke-width="0.22">25 µm</text>
<path d="M544.2 812.5H565.2" stroke="#fff" stroke-width="1.5"/>
<text x="554.7" y="809.5" font-size="7.8" text-anchor="middle" fill="#fff" stroke="#fff" stroke-width="0.22">100 µm</text>
<path d="M654.3 812.5H674.3" stroke="#fff" stroke-width="1.5"/>
<text x="664.3" y="809.5" font-size="7.8" text-anchor="middle" fill="#fff" stroke="#fff" stroke-width="0.22">25 µm</text>
<path d="M55.1 1005.4V851.9" stroke="#000" stroke-width="1.8"/>
<path d="M48.9 1004.5H55.1" stroke="#000" stroke-width="1.8"/>
<text x="46.5" y="1007.8" font-size="9" text-anchor="end" stroke="#231f20" stroke-width="0.22">0</text>
<path d="M48.9 974.2H55.1" stroke="#000" stroke-width="1.8"/>
<text x="46.5" y="977.5" font-size="9" text-anchor="end" stroke="#231f20" stroke-width="0.22">20</text>
<path d="M48.9 943.8H55.1" stroke="#000" stroke-width="1.8"/>
<text x="46.5" y="947.1" font-size="9" text-anchor="end" stroke="#231f20" stroke-width="0.22">40</text>
<path d="M48.9 913.5H55.1" stroke="#000" stroke-width="1.8"/>
<text x="46.5" y="916.8" font-size="9" text-anchor="end" stroke="#231f20" stroke-width="0.22">60</text>
<path d="M48.9 883.1H55.1" stroke="#000" stroke-width="1.8"/>
<text x="46.5" y="886.4" font-size="9" text-anchor="end" stroke="#231f20" stroke-width="0.22">80</text>
<path d="M48.9 852.8H55.1" stroke="#000" stroke-width="1.8"/>
<text x="46.5" y="856.1" font-size="9" text-anchor="end" stroke="#231f20" stroke-width="0.22">100</text>
<path d="M54.2 1004.5H158.8" stroke="#000" stroke-width="1.8"/>
<path d="M75.7 1004.5V1010.8" stroke="#000" stroke-width="1.8"/>
<rect x="65.8" y="887.4" width="19.8" height="116.2" fill="none" stroke="#2b2fb0" stroke-width="1.2"/>
<path d="M75.7 888.8V885.9 M71.9 885.9H79.5 M71.9 888.8H79.5" stroke="#2b2fb0" stroke-width="1.2"/>
<circle cx="72.7" cy="888.3" r="2.3" fill="#2b2fb0"/>
<circle cx="75.7" cy="886.5" r="2.3" fill="#2b2fb0"/>
<circle cx="78.7" cy="887.4" r="2.3" fill="#2b2fb0"/>
<path d="M106.2 1004.5V1010.8" stroke="#000" stroke-width="1.8"/>
<rect x="96.3" y="923" width="19.8" height="80.6" fill="none" stroke="#2f7f34" stroke-width="1.2"/>
<path d="M106.2 933.2V913 M102.4 913H110 M102.4 933.2H110" stroke="#2f7f34" stroke-width="1.2"/>
<circle cx="106.2" cy="912" r="2.3" fill="#2f7f34"/>
<circle cx="106.2" cy="924.9" r="2.3" fill="#2f7f34"/>
<circle cx="106.2" cy="931.7" r="2.3" fill="#2f7f34"/>
<path d="M136.5 1004.5V1010.8" stroke="#000" stroke-width="1.8"/>
<rect x="126.6" y="947.2" width="19.8" height="56.4" fill="none" stroke="#c03030" stroke-width="1.2"/>
<path d="M136.5 951.9V942.3 M132.7 942.3H140.3 M132.7 951.9H140.3" stroke="#c03030" stroke-width="1.2"/>
<circle cx="136.5" cy="942.6" r="2.3" fill="#c03030"/>
<circle cx="136.5" cy="946.9" r="2.3" fill="#c03030"/>
<circle cx="136.5" cy="951.4" r="2.3" fill="#c03030"/>
<text x="27" y="929.9" font-size="9.5" text-anchor="middle" stroke="#231f20" stroke-width="0.22" transform="rotate(-90 27 929.9)">Ki-67 percentage (%)</text>
<path d="M75.7 860.9H134" stroke="#000" stroke-width="2"/>
<text x="105.6" y="859.6" font-size="12" text-anchor="middle" stroke="#231f20" stroke-width="0.22" letter-spacing="1.5">***</text>
<path d="M75.7 877.6H100.5" stroke="#000" stroke-width="2"/>
<text x="88.8" y="876.3" font-size="12" text-anchor="middle" stroke="#231f20" stroke-width="0.22" letter-spacing="1.5">**</text>
<path d="M109.2 877.6H134.8" stroke="#000" stroke-width="2"/>
<text x="122.8" y="876.3" font-size="12" text-anchor="middle" stroke="#231f20" stroke-width="0.22" letter-spacing="1.5">*</text>
<text x="87.3" y="1019" font-size="9.2" text-anchor="end" stroke="#231f20" stroke-width="0.22" transform="rotate(-45 87.3 1019)">CTRL</text>
<text x="114.1" y="1020.8" font-size="9.2" text-anchor="end" stroke="#231f20" stroke-width="0.22" transform="rotate(-45 114.1 1020.8)">CAR-T</text>
<text x="137.7" y="1019.6" font-size="9.2" text-anchor="end" stroke="#231f20" stroke-width="0.22" transform="rotate(-45 137.7 1019.6)">CAR-T</text>
<text x="151.1" y="1022.2" font-size="9.2" text-anchor="end" stroke="#231f20" stroke-width="0.22" transform="rotate(-45 151.1 1022.2)">+ <tspan font-style="italic">α</tspan>-PD-1</text>
<path d="M227.6 1005.9V852.7" stroke="#000" stroke-width="1.8"/>
<path d="M221.4 1005H227.6" stroke="#000" stroke-width="1.8"/>
<text x="219" y="1008.3" font-size="9" text-anchor="end" stroke="#231f20" stroke-width="0.22">0</text>
<path d="M221.4 967.2H227.6" stroke="#000" stroke-width="1.8"/>
<text x="219" y="970.5" font-size="9" text-anchor="end" stroke="#231f20" stroke-width="0.22">15</text>
<path d="M221.4 929.3H227.6" stroke="#000" stroke-width="1.8"/>
<text x="219" y="932.6" font-size="9" text-anchor="end" stroke="#231f20" stroke-width="0.22">30</text>
<path d="M221.4 891.5H227.6" stroke="#000" stroke-width="1.8"/>
<text x="219" y="894.8" font-size="9" text-anchor="end" stroke="#231f20" stroke-width="0.22">45</text>
<path d="M221.4 853.6H227.6" stroke="#000" stroke-width="1.8"/>
<text x="219" y="856.9" font-size="9" text-anchor="end" stroke="#231f20" stroke-width="0.22">60</text>
<path d="M226.7 1005H328.8" stroke="#000" stroke-width="1.8"/>
<path d="M247.7 1005V1011.3" stroke="#000" stroke-width="1.8"/>
<rect x="237.6" y="977.8" width="20.1" height="26.3" fill="none" stroke="#2b2fb0" stroke-width="1.2"/>
<path d="M247.7 988.1V967.2 M243.9 967.2H251.5 M243.9 988.1H251.5" stroke="#2b2fb0" stroke-width="1.2"/>
<circle cx="247.7" cy="964.6" r="2.3" fill="#2b2fb0"/>
<circle cx="244.7" cy="972.2" r="2.3" fill="#2b2fb0"/>
<circle cx="250.7" cy="973" r="2.3" fill="#2b2fb0"/>
<circle cx="247.7" cy="980.3" r="2.3" fill="#2b2fb0"/>
<circle cx="247.7" cy="984.8" r="2.3" fill="#2b2fb0"/>
<circle cx="247.7" cy="991.6" r="2.3" fill="#2b2fb0"/>
<path d="M278 1005V1011.3" stroke="#000" stroke-width="1.8"/>
<rect x="268.1" y="956.6" width="19.9" height="47.5" fill="none" stroke="#2f7f34" stroke-width="1.2"/>
<path d="M278 965.1V948.5 M274.2 948.5H281.8 M274.2 965.1H281.8" stroke="#2f7f34" stroke-width="1.2"/>
<circle cx="278" cy="943.9" r="2.3" fill="#2f7f34"/>
<circle cx="275" cy="949.5" r="2.3" fill="#2f7f34"/>
<circle cx="281" cy="954" r="2.3" fill="#2f7f34"/>
<circle cx="275" cy="957.1" r="2.3" fill="#2f7f34"/>
<circle cx="281" cy="960.1" r="2.3" fill="#2f7f34"/>
<circle cx="278" cy="964.1" r="2.3" fill="#2f7f34"/>
<path d="M308.4 1005V1011.3" stroke="#000" stroke-width="1.8"/>
<rect x="298.3" y="926.3" width="20.1" height="77.8" fill="none" stroke="#c03030" stroke-width="1.2"/>
<path d="M308.4 948.5V904.1 M304.6 904.1H312.2 M304.6 948.5H312.2" stroke="#c03030" stroke-width="1.2"/>
<circle cx="308.4" cy="896.5" r="2.3" fill="#c03030"/>
<circle cx="308.4" cy="910.1" r="2.3" fill="#c03030"/>
<circle cx="308.4" cy="922.2" r="2.3" fill="#c03030"/>
<circle cx="308.4" cy="928.3" r="2.3" fill="#c03030"/>
<circle cx="308.4" cy="948.7" r="2.3" fill="#c03030"/>
<circle cx="308.4" cy="954.5" r="2.3" fill="#c03030"/>
<text x="197.5" y="929.9" font-size="9.5" text-anchor="middle" stroke="#231f20" stroke-width="0.22" transform="rotate(-90 197.5 929.9)">Number of CD8<tspan font-size="5.6" dy="-3.4">+</tspan><tspan dy="3.4"> cells/field</tspan></text>
<path d="M247 860.9H305.3" stroke="#000" stroke-width="2"/>
<text x="276.9" y="859.6" font-size="12" text-anchor="middle" stroke="#231f20" stroke-width="0.22" letter-spacing="1.5">***</text>
<path d="M247 877.6H271.8" stroke="#000" stroke-width="2"/>
<text x="260.1" y="876.3" font-size="12" text-anchor="middle" stroke="#231f20" stroke-width="0.22" letter-spacing="1.5">**</text>
<path d="M281.2 877.6H306.5" stroke="#000" stroke-width="2"/>
<text x="294.6" y="876.3" font-size="12" text-anchor="middle" stroke="#231f20" stroke-width="0.22" letter-spacing="1.5">*</text>
<text x="259.3" y="1019.5" font-size="9.2" text-anchor="end" stroke="#231f20" stroke-width="0.22" transform="rotate(-45 259.3 1019.5)">CTRL</text>
<text x="285.9" y="1021.3" font-size="9.2" text-anchor="end" stroke="#231f20" stroke-width="0.22" transform="rotate(-45 285.9 1021.3)">CAR-T</text>
<text x="309.6" y="1020.1" font-size="9.2" text-anchor="end" stroke="#231f20" stroke-width="0.22" transform="rotate(-45 309.6 1020.1)">CAR-T</text>
<text x="323" y="1022.7" font-size="9.2" text-anchor="end" stroke="#231f20" stroke-width="0.22" transform="rotate(-45 323 1022.7)">+ <tspan font-style="italic">α</tspan>-PD-1</text>
<path d="M393.9 1005.9V852.1" stroke="#000" stroke-width="1.8"/>
<path d="M387.7 1005H393.9" stroke="#000" stroke-width="1.8"/>
<text x="385.3" y="1008.3" font-size="9" text-anchor="end" stroke="#231f20" stroke-width="0.22">0</text>
<path d="M387.7 967H393.9" stroke="#000" stroke-width="1.8"/>
<text x="385.3" y="970.3" font-size="9" text-anchor="end" stroke="#231f20" stroke-width="0.22">10</text>
<path d="M387.7 929H393.9" stroke="#000" stroke-width="1.8"/>
<text x="385.3" y="932.3" font-size="9" text-anchor="end" stroke="#231f20" stroke-width="0.22">20</text>
<path d="M387.7 891H393.9" stroke="#000" stroke-width="1.8"/>
<text x="385.3" y="894.3" font-size="9" text-anchor="end" stroke="#231f20" stroke-width="0.22">30</text>
<path d="M387.7 853H393.9" stroke="#000" stroke-width="1.8"/>
<text x="385.3" y="856.3" font-size="9" text-anchor="end" stroke="#231f20" stroke-width="0.22">40</text>
<path d="M393 1005H495.1" stroke="#000" stroke-width="1.8"/>
<path d="M414.2 1005V1011.3" stroke="#000" stroke-width="1.8"/>
<rect x="404" y="944.2" width="20.4" height="59.9" fill="none" stroke="#2b2fb0" stroke-width="1.2"/>
<path d="M414.2 969.7V918.4 M410.4 918.4H418 M410.4 969.7H418" stroke="#2b2fb0" stroke-width="1.2"/>
<circle cx="414.2" cy="894.8" r="2.3" fill="#2b2fb0"/>
<circle cx="414.2" cy="939.3" r="2.3" fill="#2b2fb0"/>
<circle cx="414.2" cy="947.2" r="2.3" fill="#2b2fb0"/>
<circle cx="411.2" cy="957.5" r="2.3" fill="#2b2fb0"/>
<circle cx="417.2" cy="959.4" r="2.3" fill="#2b2fb0"/>
<circle cx="414.2" cy="971.9" r="2.3" fill="#2b2fb0"/>
<path d="M444.5 1005V1011.3" stroke="#000" stroke-width="1.8"/>
<rect x="434.3" y="974.2" width="20.4" height="29.9" fill="none" stroke="#2f7f34" stroke-width="1.2"/>
<path d="M444.5 984.1V963.6 M440.7 963.6H448.3 M440.7 984.1H448.3" stroke="#2f7f34" stroke-width="1.2"/>
<circle cx="440.5" cy="964.7" r="2.3" fill="#2f7f34"/>
<circle cx="448" cy="967" r="2.3" fill="#2f7f34"/>
<circle cx="451.5" cy="968.9" r="2.3" fill="#2f7f34"/>
<circle cx="440.5" cy="968.9" r="2.3" fill="#2f7f34"/>
<circle cx="444.5" cy="978.4" r="2.3" fill="#2f7f34"/>
<circle cx="444.5" cy="989.8" r="2.3" fill="#2f7f34"/>
<path d="M474.9 1005V1011.3" stroke="#000" stroke-width="1.8"/>
<rect x="464.6" y="989" width="20.6" height="15.1" fill="none" stroke="#c03030" stroke-width="1.2"/>
<path d="M474.9 994V982.6 M471.1 982.6H478.7 M471.1 994H478.7" stroke="#c03030" stroke-width="1.2"/>
<circle cx="474.9" cy="951.8" r="2.3" fill="#c03030"/>
<circle cx="472.9" cy="984.5" r="2.3" fill="#c03030"/>
<circle cx="476.4" cy="986" r="2.3" fill="#c03030"/>
<circle cx="474.9" cy="993.6" r="2.3" fill="#c03030"/>
<circle cx="474.9" cy="997.4" r="2.3" fill="#c03030"/>
<text x="371.5" y="928" font-size="9.5" text-anchor="middle" stroke="#231f20" stroke-width="0.22" transform="rotate(-90 371.5 928)">Collagen area  (%)</text>
<path d="M413.2 860.9H471.5" stroke="#000" stroke-width="2"/>
<text x="443.1" y="859.6" font-size="12" text-anchor="middle" stroke="#231f20" stroke-width="0.22" letter-spacing="1.5">**</text>
<path d="M413.2 877.6H438.8" stroke="#000" stroke-width="2"/>
<text x="426.8" y="876.3" font-size="12" text-anchor="middle" stroke="#231f20" stroke-width="0.22" letter-spacing="1.5">*</text>
<path d="M448 877.6H473.5" stroke="#000" stroke-width="2"/>
<text x="461.5" y="876.3" font-size="12" text-anchor="middle" stroke="#231f20" stroke-width="0.22" letter-spacing="1.5">*</text>
<text x="425.8" y="1019.5" font-size="9.2" text-anchor="end" stroke="#231f20" stroke-width="0.22" transform="rotate(-45 425.8 1019.5)">CTRL</text>
<text x="452.4" y="1021.3" font-size="9.2" text-anchor="end" stroke="#231f20" stroke-width="0.22" transform="rotate(-45 452.4 1021.3)">CAR-T</text>
<text x="476.1" y="1020.1" font-size="9.2" text-anchor="end" stroke="#231f20" stroke-width="0.22" transform="rotate(-45 476.1 1020.1)">CAR-T</text>
<text x="489.5" y="1022.7" font-size="9.2" text-anchor="end" stroke="#231f20" stroke-width="0.22" transform="rotate(-45 489.5 1022.7)">+ <tspan font-style="italic">α</tspan>-PD-1</text>
<path d="M556.4 1007.6V853.9" stroke="#000" stroke-width="1.8"/>
<path d="M550.2 1006.7H556.4" stroke="#000" stroke-width="1.8"/>
<text x="547.8" y="1010" font-size="9" text-anchor="end" stroke="#231f20" stroke-width="0.22">0</text>
<path d="M550.2 956.1H556.4" stroke="#000" stroke-width="1.8"/>
<text x="547.8" y="959.4" font-size="9" text-anchor="end" stroke="#231f20" stroke-width="0.22">20</text>
<path d="M550.2 905.4H556.4" stroke="#000" stroke-width="1.8"/>
<text x="547.8" y="908.7" font-size="9" text-anchor="end" stroke="#231f20" stroke-width="0.22">40</text>
<path d="M550.2 854.8H556.4" stroke="#000" stroke-width="1.8"/>
<text x="547.8" y="858.1" font-size="9" text-anchor="end" stroke="#231f20" stroke-width="0.22">60</text>
<path d="M555.5 1006.7H658.2" stroke="#000" stroke-width="1.8"/>
<path d="M576.5 1006.7V1013" stroke="#000" stroke-width="1.8"/>
<rect x="566.6" y="910.2" width="19.8" height="95.6" fill="none" stroke="#2b2fb0" stroke-width="1.2"/>
<path d="M576.5 916.8V902.4 M572.7 902.4H580.3 M572.7 916.8H580.3" stroke="#2b2fb0" stroke-width="1.2"/>
<circle cx="576.5" cy="902.9" r="2.3" fill="#2b2fb0"/>
<circle cx="576.5" cy="911.8" r="2.3" fill="#2b2fb0"/>
<circle cx="576.5" cy="915.5" r="2.3" fill="#2b2fb0"/>
<path d="M606.8 1006.7V1013" stroke="#000" stroke-width="1.8"/>
<rect x="596.9" y="938.6" width="19.8" height="67.2" fill="none" stroke="#2f7f34" stroke-width="1.2"/>
<path d="M606.8 951.2V926.7 M603 926.7H610.6 M603 951.2H610.6" stroke="#2f7f34" stroke-width="1.2"/>
<circle cx="606.8" cy="927.4" r="2.3" fill="#2f7f34"/>
<circle cx="606.8" cy="936.8" r="2.3" fill="#2f7f34"/>
<circle cx="606.8" cy="951.5" r="2.3" fill="#2f7f34"/>
<path d="M637.2 1006.7V1013" stroke="#000" stroke-width="1.8"/>
<rect x="627.2" y="968.2" width="20.1" height="37.6" fill="none" stroke="#c03030" stroke-width="1.2"/>
<path d="M637.2 981.9V953.8 M633.4 953.8H641 M633.4 981.9H641" stroke="#c03030" stroke-width="1.2"/>
<circle cx="637.2" cy="958.1" r="2.3" fill="#c03030"/>
<circle cx="637.2" cy="961.6" r="2.3" fill="#c03030"/>
<circle cx="637.2" cy="983.4" r="2.3" fill="#c03030"/>
<text x="532.5" y="932.5" font-size="9.5" text-anchor="middle" stroke="#231f20" stroke-width="0.22" transform="rotate(-90 532.5 932.5)">α-SMA area (%)</text>
<path d="M575.8 858.4H634.1" stroke="#000" stroke-width="2"/>
<text x="605.7" y="857.1" font-size="12" text-anchor="middle" stroke="#231f20" stroke-width="0.22" letter-spacing="1.5">**</text>
<path d="M575.8 875.8H600.6" stroke="#000" stroke-width="2"/>
<text x="589" y="874.5" font-size="12" text-anchor="middle" stroke="#231f20" stroke-width="0.22" letter-spacing="1.5">*</text>
<path d="M610 875.8H635.3" stroke="#000" stroke-width="2"/>
<text x="622.6" y="869.9" font-size="9.5" text-anchor="middle" font-weight="normal">ns</text>
<text x="588.1" y="1021.2" font-size="9.2" text-anchor="end" stroke="#231f20" stroke-width="0.22" transform="rotate(-45 588.1 1021.2)">CTRL</text>
<text x="614.7" y="1023" font-size="9.2" text-anchor="end" stroke="#231f20" stroke-width="0.22" transform="rotate(-45 614.7 1023)">CAR-T</text>
<text x="638.4" y="1021.8" font-size="9.2" text-anchor="end" stroke="#231f20" stroke-width="0.22" transform="rotate(-45 638.4 1021.8)">CAR-T</text>
<text x="651.8" y="1024.4" font-size="9.2" text-anchor="end" stroke="#231f20" stroke-width="0.22" transform="rotate(-45 651.8 1024.4)">+ <tspan font-style="italic">α</tspan>-PD-1</text>
</svg>
</body></html>
